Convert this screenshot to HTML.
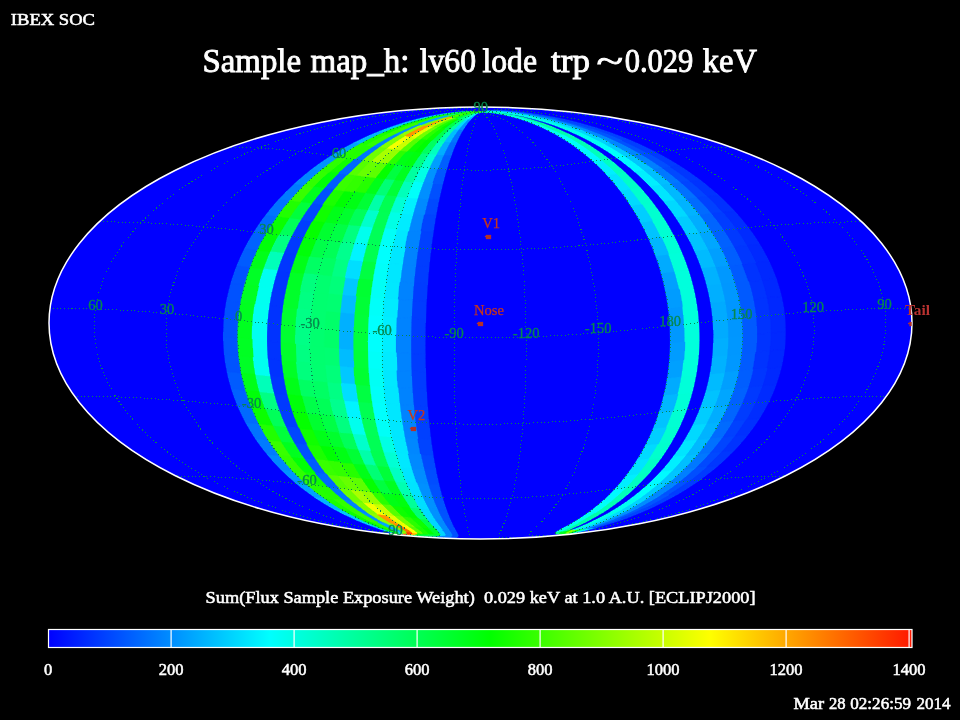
<!DOCTYPE html>
<html><head><meta charset="utf-8"><title>IBEX SOC map</title>
<style>
html,body{margin:0;padding:0;background:#000;}
body{width:960px;height:720px;overflow:hidden;}
svg{display:block;}
text{font-family:"Liberation Serif",serif;}
</style></head><body>
<svg width="960" height="720" viewBox="0 0 960 720">
<defs>
<clipPath id="ell"><ellipse cx="480.5" cy="323.0" rx="431.5" ry="216.0"/></clipPath>
<linearGradient id="cb" x1="0" x2="1" y1="0" y2="0">
<stop offset="0" stop-color="#0000ff"/><stop offset="0.256" stop-color="#00ffff"/><stop offset="0.511" stop-color="#00ff00"/><stop offset="0.766" stop-color="#ffff00"/><stop offset="1" stop-color="#ff1800"/>
</linearGradient>
</defs>
<rect width="960" height="720" fill="#000"/>
<ellipse cx="480.5" cy="323.0" rx="431.5" ry="216.0" fill="#0000ff"/>
<g clip-path="url(#ell)" shape-rendering="crispEdges" stroke-width="0.7" stroke-linejoin="round"><path fill="#00cbff" stroke="#00cbff" d="M391.2 534.3L392 533.5L389.4 532.3L385 530.8L379.8 529L381 529.1L382.3 529.2L383.5 529.4L384.8 529.5L389.3 531.2L392.7 532.6L393.8 533.7ZM384.8 529.5L383.5 529.4L382.3 529.2L381 529.1L379.8 529L374.1 527L368.2 524.8L362.3 522.5L356.4 520L358.2 520.2L359.9 520.4L361.7 520.6L363.5 520.8L368.9 523.2L374.4 525.5L379.7 527.6ZM412.2 122.2L411.5 122L410.8 121.7L410 121.5L409.3 121.3L417.6 119.1L426.2 117.1L435.2 115.3L444.4 113.7L444.6 113.9L444.8 114.1L445 114.2L445.2 114.4L436.4 116L428 117.9L419.9 119.9ZM445.2 114.4L445 114.2L444.8 114.1L444.6 113.9L444.4 113.7L453.8 112.5L463.2 111.7L472.1 111.4L480.5 111.7L472 111.6L463.1 112.1L454.1 113ZM650.1 496.5L647.7 496.8L645.3 497L642.9 497.3L640.5 497.6L645 494.3L649.3 491.1L653.5 487.7L657.6 484.3L660.2 484L662.9 483.7L665.5 483.4L668.2 483.2L663.9 486.6L659.4 490L654.8 493.3ZM632.4 155.4L630.4 155.7L628.5 156L626.6 156.3L624.6 156.6L619.5 153.3L614.2 150L608.7 146.8L603.1 143.7L604.7 143.4L606.2 143.2L607.8 142.9L609.4 142.6L615.4 145.7L621.3 148.9L626.9 152.1Z"/><path fill="#00c8ff" stroke="#00c8ff" d="M363.5 520.8L361.7 520.6L359.9 520.4L358.2 520.2L356.4 520L350.7 517.4L345 514.8L339.5 512L334.1 509.1L336.2 509.4L338.4 509.6L340.5 509.8L342.6 510.1L347.6 512.9L352.8 515.6L358.1 518.3ZM384.2 132.4L383 132.1L381.8 131.9L380.6 131.6L379.4 131.4L386.5 128.7L393.8 126.1L401.4 123.6L409.3 121.3L410 121.5L410.8 121.7L411.5 122L412.2 122.2L404.8 124.5L397.7 127L390.8 129.6ZM355.4 384.5L351.9 384.2L348.3 383.9L344.8 383.6L341.2 383.3L340.7 378.9L340.2 374.6L339.8 370.2L339.5 365.9L343.1 366.2L346.7 366.5L350.3 366.8L353.9 367.2L354.2 371.5L354.5 375.9L355 380.2ZM356.2 296.5L352.7 296.2L349.2 295.9L345.7 295.6L342.2 295.2L342.8 290.8L343.6 286.4L344.4 282.1L345.2 277.7L348.6 278L352 278.3L355.5 278.6L358.9 278.9L358.1 283.3L357.4 287.7L356.8 292.1Z"/><path fill="#00b5ff" stroke="#00b5ff" d="M342.6 510.1L340.5 509.8L338.4 509.6L336.2 509.4L334.1 509.1L328.9 506.2L323.8 503.2L318.9 500.1L314.1 496.9L316.5 497.1L318.9 497.4L321.3 497.7L323.7 497.9L328.3 501.1L332.9 504.1L337.7 507.1ZM360.1 144.1L358.5 143.8L356.9 143.5L355.3 143.3L353.7 143L359.8 140L366.1 137L372.7 134.1L379.4 131.4L380.6 131.6L381.8 131.9L383 132.1L384.2 132.4L377.8 135.2L371.7 138.1L365.8 141ZM569.8 534.3L573.2 533.2L578.9 531.6L585.5 529.9L592.6 527.9L593.7 527.7L594.9 527.6L596 527.5L597.2 527.4L589.4 529.5L581.8 531.4L575 533ZM470.2 120L469.5 120L468.8 119.9L468.2 119.9L467.5 119.8L470.3 117.5L473.3 115.4L476.7 113.4L480.5 111.7L477.4 113.5L474.8 115.5L472.4 117.7Z"/><path fill="#00a2ff" stroke="#00a2ff" d="M323.7 497.9L321.3 497.7L318.9 497.4L316.5 497.1L314.1 496.9L309.5 493.6L305 490.3L300.6 487L296.4 483.5L299 483.8L301.7 484.1L304.3 484.4L307 484.7L311 488.1L315.1 491.4L319.3 494.7ZM339 157L337 156.7L335.1 156.4L333.1 156.1L331.2 155.8L336.6 152.5L342.1 149.3L347.8 146.1L353.7 143L355.3 143.3L356.9 143.5L358.5 143.8L360.1 144.1L354.5 147.2L349.2 150.4L344 153.7Z"/><path fill="#0093ff" stroke="#0093ff" d="M307 484.7L304.3 484.4L301.7 484.1L299 483.8L296.4 483.5L292.3 480.1L288.3 476.5L284.5 472.9L280.7 469.3L283.6 469.6L286.5 469.9L289.3 470.2L292.2 470.5L295.7 474.1L299.3 477.7L303.1 481.2ZM320.4 170.9L318.1 170.6L315.9 170.3L313.7 169.9L311.4 169.6L316.1 166.1L321 162.6L326 159.2L331.2 155.8L333.1 156.1L335.1 156.4L337 156.7L339 157L334.1 160.4L329.4 163.8L324.8 167.3ZM432.8 183.4L430.4 183.3L427.9 183.1L425.5 183L423.1 182.8L424.5 179.1L426 175.4L427.6 171.7L429.2 168.2L431.4 168.3L433.6 168.5L435.7 168.6L437.9 168.7L436.6 172.3L435.3 176L434 179.7Z"/><path fill="#0087ff" stroke="#0087ff" d="M292.2 470.5L289.3 470.2L286.5 469.9L283.6 469.6L280.7 469.3L277.2 465.6L273.7 461.9L270.4 458.1L267.2 454.3L270.2 454.6L273.2 454.9L276.3 455.3L279.3 455.6L282.4 459.4L285.5 463.1L288.8 466.8ZM304 185.6L301.5 185.3L299 184.9L296.5 184.6L294 184.3L298.2 180.5L302.4 176.9L306.9 173.2L311.4 169.6L313.7 169.9L315.9 170.3L318.1 170.6L320.4 170.9L316.1 174.5L311.9 178.1L307.9 181.8ZM420.6 454.3L417.5 454.1L414.4 453.9L411.3 453.7L408.2 453.5L407.3 449.7L406.4 445.7L405.5 441.8L404.7 437.8L408 438L411.3 438.2L414.5 438.4L417.8 438.6L418.5 442.6L419.2 446.5L419.9 450.4ZM421 231.3L417.9 231.1L414.9 230.9L411.8 230.8L408.8 230.6L409.7 226.4L410.7 222.3L411.8 218.2L412.9 214.1L415.7 214.3L418.6 214.5L421.5 214.7L424.4 214.8L423.5 218.9L422.6 223L421.8 227.1Z"/><path fill="#007bff" stroke="#007bff" d="M279.3 455.6L276.3 455.3L273.2 454.9L270.2 454.6L267.2 454.3L264.1 450.5L261.1 446.6L258.2 442.6L255.5 438.7L258.7 439L261.9 439.3L265.1 439.7L268.3 440L270.9 443.9L273.6 447.9L276.4 451.7ZM289.6 201L286.9 200.6L284.2 200.3L281.5 200L278.7 199.6L282.4 195.7L286.1 191.9L290 188.1L294 184.3L296.5 184.6L299 184.9L301.5 185.3L304 185.6L300.2 189.4L296.6 193.2L293.1 197.1Z"/><path fill="#0073ff" stroke="#0073ff" d="M268.3 440L265.1 439.7L261.9 439.3L258.7 439L255.5 438.7L252.9 434.7L250.4 430.6L248 426.6L245.7 422.5L249 422.8L252.4 423.2L255.7 423.5L259 423.8L261.2 427.9L263.4 432L265.8 436ZM277.2 217L274.2 216.6L271.3 216.2L268.4 215.9L265.5 215.6L268.6 211.5L271.8 207.5L275.2 203.6L278.7 199.6L281.5 200L284.2 200.3L286.9 200.6L289.6 201L286.4 204.9L283.2 208.9L280.1 212.9Z"/><path fill="#006aff" stroke="#006aff" d="M259 423.8L255.7 423.5L252.4 423.2L249 422.8L245.7 422.5L243.5 418.4L241.5 414.2L239.6 410L237.7 405.8L241.2 406.2L244.6 406.5L248 406.9L251.5 407.2L253.2 411.4L255 415.6L257 419.7ZM266.5 233.4L263.4 233.1L260.3 232.7L257.2 232.3L254.1 232L256.8 227.8L259.5 223.7L262.4 219.6L265.5 215.6L268.4 215.9L271.3 216.2L274.2 216.6L277.2 217L274.3 221L271.6 225.1L269 229.3Z"/><path fill="#0062ff" stroke="#0062ff" d="M251.5 407.2L248 406.9L244.6 406.5L241.2 406.2L237.7 405.8L236 401.6L234.4 397.4L232.9 393.1L231.5 388.8L235 389.2L238.6 389.5L242.1 389.9L245.6 390.3L246.9 394.5L248.3 398.8L249.8 403ZM257.6 250.3L254.3 249.9L251.1 249.6L247.8 249.2L244.6 248.8L246.8 244.6L249.1 240.4L251.5 236.2L254.1 232L257.2 232.3L260.3 232.7L263.4 233.1L266.5 233.4L264.1 237.6L261.8 241.8L259.6 246Z"/><path fill="#005bff" stroke="#005bff" d="M245.6 390.3L242.1 389.9L238.6 389.5L235 389.2L231.5 388.8L230.3 384.5L229.1 380.2L228 375.9L227.1 371.5L230.7 371.9L234.2 372.3L237.8 372.6L241.4 373L242.3 377.3L243.3 381.7L244.4 386ZM250.3 267.5L247 267.1L243.6 266.7L240.2 266.4L236.9 266L238.6 261.7L240.5 257.4L242.5 253.1L244.6 248.8L247.8 249.2L251.1 249.6L254.3 249.9L257.6 250.3L255.6 254.6L253.7 258.8L252 263.2ZM620.7 518.4L619 518.5L617.3 518.7L615.6 518.9L613.9 519L620.1 516.4L626.3 513.7L632.2 510.9L638 508L640.1 507.8L642.2 507.6L644.3 507.4L646.3 507.2L640.2 510.1L633.9 512.9L627.4 515.7ZM592.4 129.1L591.3 129.3L590.1 129.6L589 129.8L587.8 130.1L580.1 127.4L572.2 124.9L563.9 122.5L555.3 120.2L555.9 120L556.6 119.8L557.2 119.5L557.8 119.3L567 121.6L575.8 124L584.3 126.5ZM752.9 369.6L749.3 370L745.8 370.3L742.2 370.7L738.6 371L739.5 366.7L740.2 362.3L740.9 357.9L741.4 353.5L745 353.2L748.6 352.8L752.1 352.5L755.7 352.1L755.2 356.5L754.5 360.9L753.8 365.3ZM748.6 281.5L745.1 281.8L741.6 282.2L738.2 282.6L734.7 282.9L733.4 278.6L731.9 274.2L730.3 269.8L728.6 265.5L732 265.2L735.4 264.8L738.7 264.4L742.1 264.1L743.9 268.4L745.6 272.8L747.1 277.1ZM326.6 474.3L323.8 474L320.9 473.6L318 473.3L315.2 473L312.2 469.4L309.3 465.7L306.5 462L303.8 458.2L306.8 458.5L309.9 458.9L312.9 459.2L316 459.5L318.5 463.3L321.1 467L323.8 470.7ZM334.2 189.6L331.7 189.2L329.1 188.9L326.6 188.6L324.1 188.2L327.5 184.5L331 180.7L334.6 177.1L338.4 173.4L340.7 173.7L342.9 174L345.2 174.4L347.5 174.7L344 178.3L340.6 182L337.4 185.8Z"/><path fill="#0053ff" stroke="#0053ff" d="M241.4 373L237.8 372.6L234.2 372.3L230.7 371.9L227.1 371.5L226.3 367.2L225.5 362.8L224.9 358.4L224.4 354L228 354.4L231.6 354.8L235.2 355.1L238.8 355.5L239.3 359.9L239.9 364.3L240.6 368.6ZM244.7 284.9L241.3 284.5L237.8 284.2L234.4 283.8L230.9 283.4L232.2 279L233.7 274.7L235.2 270.3L236.9 266L240.2 266.4L243.6 266.7L247 267.1L250.3 267.5L248.8 271.8L247.3 276.2L246 280.5ZM451 521.3L449 521.2L447.1 521.1L445.1 520.9L443.1 520.8L441.7 518.1L440.2 515.4L438.8 512.6L437.5 509.6L439.7 509.8L442 509.9L444.2 510.1L446.5 510.2L447.6 513.1L448.7 515.9L449.8 518.7ZM446.5 510.2L444.2 510.1L442 509.9L439.7 509.8L437.5 509.6L436.1 506.6L434.9 503.6L433.6 500.4L432.4 497.2L434.9 497.4L437.4 497.5L439.9 497.6L442.4 497.8L443.4 501L444.4 504.1L445.4 507.2Z"/><path fill="#0052ff" stroke="#0052ff" d="M238.8 355.5L235.2 355.1L231.6 354.8L228 354.4L224.4 354L224 349.6L223.7 345.2L223.5 340.8L223.4 336.4L227 336.7L230.6 337.1L234.2 337.5L237.8 337.9L237.9 342.3L238.1 346.7L238.4 351.1ZM240.8 302.5L237.3 302.1L233.7 301.7L230.2 301.4L226.7 301L227.6 296.6L228.6 292.2L229.7 287.8L230.9 283.4L234.4 283.8L237.8 284.2L241.3 284.5L244.7 284.9L243.6 289.3L242.6 293.7L241.6 298.1ZM669.1 494.6L666.7 494.9L664.4 495.1L662 495.3L659.6 495.6L664.6 492.3L669.5 489L674.2 485.6L678.7 482.1L681.3 481.9L684 481.6L686.6 481.3L689.2 481.1L684.4 484.6L679.5 488L674.3 491.4ZM647.8 153.2L645.8 153.5L643.9 153.7L642 154L640.1 154.3L634.3 151L628.3 147.8L622.1 144.6L615.7 141.6L617.3 141.3L618.9 141L620.4 140.8L622 140.5L628.8 143.6L635.3 146.7L641.6 149.9Z"/><path fill="#0051ff" stroke="#0051ff" d="M237.8 337.9L234.2 337.5L230.6 337.1L227 336.7L223.4 336.4L223.5 332L223.6 327.5L223.8 323.1L224.2 318.7L227.8 319L231.3 319.4L234.9 319.8L238.5 320.2L238.2 324.6L238 329L237.8 333.5ZM238.5 320.2L234.9 319.8L231.3 319.4L227.8 319L224.2 318.7L224.7 314.3L225.2 309.8L225.9 305.4L226.7 301L230.2 301.4L233.7 301.7L237.3 302.1L240.8 302.5L240.1 306.9L239.4 311.3L238.9 315.8ZM442.4 497.8L439.9 497.6L437.4 497.5L434.9 497.4L432.4 497.2L431.2 493.9L430.1 490.6L429 487.2L427.9 483.7L430.7 483.9L433.4 484L436.1 484.2L438.9 484.3L439.7 487.8L440.6 491.2L441.5 494.5Z"/><path fill="#0049ff" stroke="#0049ff" d="M597.2 527.4L596 527.5L594.9 527.6L593.7 527.7L592.6 527.9L599.7 525.7L606.8 523.4L613.8 520.9L620.7 518.4L622.4 518.2L624 518.1L625.7 517.9L627.4 517.8L620.1 520.4L612.6 522.8L604.9 525.2ZM560.3 118.5L559.7 118.7L559.1 118.9L558.5 119.1L557.8 119.3L548.2 117.2L538.2 115.3L527.8 113.7L517.2 112.3L517.2 112.1L517.2 112L517.2 111.8L517.1 111.7L528.3 113L539.4 114.6L550.1 116.5ZM706.8 466.7L704 467L701.2 467.2L698.3 467.5L695.5 467.8L699.3 464.1L703 460.3L706.6 456.5L710 452.7L713.1 452.4L716.1 452.1L719.1 451.8L722.1 451.6L718.5 455.4L714.8 459.2L710.9 463ZM690.3 181.4L687.8 181.7L685.3 182L682.8 182.3L680.3 182.6L675.8 178.9L671.2 175.2L666.4 171.6L661.5 168L663.7 167.7L665.9 167.4L668.2 167.1L670.4 166.9L675.6 170.4L680.7 174L685.6 177.7ZM435.8 470L432.8 469.9L429.9 469.7L427 469.6L424 469.4L423.1 465.7L422.3 461.9L421.4 458.1L420.6 454.3L423.8 454.5L426.9 454.6L430 454.8L433.1 454.9L433.7 458.8L434.4 462.6L435.1 466.3ZM436 215.4L433.1 215.3L430.2 215.1L427.3 215L424.4 214.8L425.3 210.8L426.3 206.8L427.3 202.8L428.3 198.8L431 199L433.7 199.1L436.4 199.3L439.1 199.4L438.2 203.3L437.5 207.3L436.7 211.3Z"/><path fill="#0045ff" stroke="#0045ff" d="M627.4 517.8L625.7 517.9L624 518.1L622.4 518.2L620.7 518.4L627.4 515.7L633.9 512.9L640.2 510.1L646.3 507.2L648.4 507L650.4 506.8L652.4 506.6L654.5 506.4L648 509.4L641.3 512.3L634.4 515.1ZM597 128.2L595.9 128.4L594.7 128.6L593.6 128.9L592.4 129.1L584.3 126.5L575.8 124L567 121.6L557.8 119.3L558.5 119.1L559.1 118.9L559.7 118.7L560.3 118.5L570.1 120.7L579.5 123.1L588.4 125.6ZM722.1 451.6L719.1 451.8L716.1 452.1L713.1 452.4L710 452.7L713.4 448.8L716.5 444.9L719.6 441L722.5 437L725.7 436.7L728.9 436.4L732.1 436.1L735.3 435.8L732.2 439.8L729 443.7L725.6 447.7ZM707.7 196.6L705 196.9L702.3 197.2L699.5 197.6L696.8 197.9L692.9 194L688.8 190.1L684.6 186.3L680.3 182.6L682.8 182.3L685.3 182L687.8 181.7L690.3 181.4L694.9 185.1L699.3 188.9L703.6 192.8Z"/><path fill="#0041ff" stroke="#0041ff" d="M654.5 506.4L652.4 506.6L650.4 506.8L648.4 507L646.3 507.2L652.3 504.1L658 501L663.6 497.9L669.1 494.6L671.4 494.4L673.8 494.2L676.1 494L678.4 493.8L672.7 497L666.8 500.2L660.7 503.4ZM628.3 139.5L626.7 139.8L625.2 140L623.6 140.3L622 140.5L615 137.5L607.8 134.6L600.2 131.8L592.4 129.1L593.6 128.9L594.7 128.6L595.9 128.4L597 128.2L605.3 130.9L613.3 133.7L620.9 136.6ZM735.3 435.8L732.1 436.1L728.9 436.4L725.7 436.7L722.5 437L725.3 433L728 428.9L730.6 424.8L733 420.7L736.3 420.4L739.7 420.1L743 419.8L746.3 419.5L743.7 423.6L741 427.7L738.2 431.8ZM722.9 212.5L720 212.8L717 213.1L714.1 213.4L711.2 213.8L707.8 209.7L704.3 205.7L700.6 201.8L696.8 197.9L699.5 197.6L702.3 197.2L705 196.9L707.7 196.6L711.7 200.5L715.6 204.5L719.3 208.5Z"/><path fill="#003eff" stroke="#003eff" d="M678.4 493.8L676.1 494L673.8 494.2L671.4 494.4L669.1 494.6L674.3 491.4L679.5 488L684.4 484.6L689.2 481.1L691.8 480.9L694.4 480.6L697 480.4L699.6 480.2L694.5 483.7L689.3 487.1L684 490.5ZM655.5 152.1L653.6 152.4L651.6 152.7L649.7 152.9L647.8 153.2L641.6 149.9L635.3 146.7L628.8 143.6L622 140.5L623.6 140.3L625.2 140L626.7 139.8L628.3 139.5L635.5 142.6L642.4 145.7L649 148.9ZM299 428.1L295.7 427.7L292.4 427.4L289 427L285.7 426.7L283.9 422.6L282.1 418.5L280.5 414.3L279 410.1L282.4 410.5L285.8 410.9L289.3 411.2L292.7 411.6L294.1 415.8L295.7 419.9L297.3 424ZM303.9 237.8L300.7 237.4L297.6 237.1L294.5 236.7L291.4 236.3L293.6 232.2L295.8 228L298.2 223.9L300.7 219.8L303.6 220.2L306.6 220.5L309.5 220.9L312.5 221.2L310.2 225.3L308 229.5L305.9 233.6Z"/><path fill="#003aff" stroke="#003aff" d="M699.6 480.2L697 480.4L694.4 480.6L691.8 480.9L689.2 481.1L693.8 477.6L698.3 474L702.6 470.4L706.8 466.7L709.6 466.4L712.5 466.2L715.3 465.9L718.1 465.7L713.7 469.4L709.1 473L704.4 476.6ZM679.4 165.8L677.1 166L674.9 166.3L672.6 166.6L670.4 166.9L665 163.4L659.4 159.9L653.7 156.5L647.8 153.2L649.7 152.9L651.6 152.7L653.6 152.4L655.5 152.1L661.8 155.5L667.8 158.8L673.7 162.3Z"/><path fill="#0037ff" stroke="#0037ff" d="M718.1 465.7L715.3 465.9L712.5 466.2L709.6 466.4L706.8 466.7L710.9 463L714.8 459.2L718.5 455.4L722.1 451.6L725.2 451.3L728.2 451L731.2 450.7L734.2 450.5L730.4 454.3L726.4 458.2L722.3 461.9ZM700.3 180.2L697.8 180.5L695.3 180.8L692.8 181.1L690.3 181.4L685.6 177.7L680.7 174L675.6 170.4L670.4 166.9L672.6 166.6L674.9 166.3L677.1 166L679.4 165.8L684.9 169.3L690.2 172.9L695.3 176.6Z"/><path fill="#0033ff" stroke="#0033ff" d="M734.2 450.5L731.2 450.7L728.2 451L725.2 451.3L722.1 451.6L725.6 447.7L729 443.7L732.2 439.8L735.3 435.8L738.4 435.5L741.6 435.2L744.8 434.9L747.9 434.7L744.7 438.7L741.3 442.6L737.8 446.6ZM718.7 195.4L715.9 195.7L713.2 196L710.5 196.3L707.7 196.6L703.6 192.8L699.3 188.9L694.9 185.1L690.3 181.4L692.8 181.1L695.3 180.8L697.8 180.5L700.3 180.2L705.2 184L709.8 187.8L714.3 191.6ZM767.1 368.3L763.5 368.6L760 369L756.4 369.3L752.9 369.6L753.8 365.3L754.5 360.9L755.2 356.5L755.7 352.1L759.3 351.8L762.9 351.4L766.5 351.1L770.1 350.8L769.5 355.2L768.8 359.6L768 363.9ZM770.1 350.8L766.5 351.1L762.9 351.4L759.3 351.8L755.7 352.1L756.2 347.7L756.5 343.3L756.7 338.9L756.7 334.5L760.3 334.1L763.9 333.8L767.5 333.4L771.1 333.1L771 337.5L770.8 341.9L770.5 346.4ZM771.1 333.1L767.5 333.4L763.9 333.8L760.3 334.1L756.7 334.5L756.7 330L756.5 325.6L756.3 321.2L755.9 316.8L759.4 316.4L763 316.1L766.6 315.7L770.2 315.4L770.6 319.8L770.9 324.2L771 328.7ZM770.2 315.4L766.6 315.7L763 316.1L759.4 316.4L755.9 316.8L755.4 312.3L754.7 307.9L754 303.5L753.1 299.1L756.7 298.7L760.2 298.4L763.7 298L767.3 297.7L768.2 302.1L769 306.5L769.6 311ZM767.3 297.7L763.7 298L760.2 298.4L756.7 298.7L753.1 299.1L752.2 294.7L751.1 290.3L749.9 285.9L748.6 281.5L752 281.1L755.5 280.8L758.9 280.5L762.4 280.1L763.8 284.5L765.1 288.9L766.2 293.3ZM762.4 280.1L758.9 280.5L755.5 280.8L752 281.1L748.6 281.5L747.1 277.1L745.6 272.8L743.9 268.4L742.1 264.1L745.5 263.7L748.8 263.4L752.2 263.1L755.6 262.7L757.5 267.1L759.2 271.4L760.9 275.8ZM284.2 377.5L280.6 377.1L277 376.8L273.5 376.4L269.9 376L269.2 371.7L268.5 367.3L268 362.9L267.5 358.6L271.1 358.9L274.7 359.3L278.3 359.7L281.9 360.1L282.4 364.5L282.9 368.8L283.5 373.2ZM281.9 360.1L278.3 359.7L274.7 359.3L271.1 358.9L267.5 358.6L267.2 354.2L266.9 349.8L266.7 345.4L266.6 340.9L270.2 341.3L273.8 341.7L277.4 342.1L281 342.5L281.1 346.9L281.3 351.3L281.6 355.7ZM281 342.5L277.4 342.1L273.8 341.7L270.2 341.3L266.6 340.9L266.6 336.5L266.7 332.1L266.9 327.7L267.1 323.3L270.7 323.6L274.3 324L277.9 324.4L281.5 324.8L281.2 329.2L281.1 333.6L281 338.1ZM281.5 324.8L277.9 324.4L274.3 324L270.7 323.6L267.1 323.3L267.5 318.8L267.9 314.4L268.5 310L269.1 305.6L272.6 306L276.2 306.3L279.7 306.7L283.3 307.1L282.7 311.5L282.2 316L281.8 320.4ZM283.3 307.1L279.7 306.7L276.2 306.3L272.6 306L269.1 305.6L269.8 301.2L270.6 296.8L271.5 292.4L272.5 288L275.9 288.3L279.4 288.7L282.9 289.1L286.4 289.5L285.5 293.9L284.6 298.3L283.9 302.7ZM286.4 289.5L282.9 289.1L279.4 288.7L275.9 288.3L272.5 288L273.5 283.6L274.7 279.2L276 274.8L277.3 270.5L280.7 270.9L284.1 271.3L287.4 271.6L290.8 272L289.6 276.4L288.4 280.7L287.4 285.1Z"/><path fill="#0030ff" stroke="#0030ff" d="M747.9 434.7L744.8 434.9L741.6 435.2L738.4 435.5L735.3 435.8L738.2 431.8L741 427.7L743.7 423.6L746.3 419.5L749.6 419.2L752.9 418.9L756.2 418.6L759.5 418.3L756.8 422.5L754 426.6L751 430.6ZM734.6 211.3L731.7 211.6L728.8 211.9L725.8 212.2L722.9 212.5L719.3 208.5L715.6 204.5L711.7 200.5L707.7 196.6L710.5 196.3L713.2 196L715.9 195.7L718.7 195.4L722.9 199.3L727 203.3L730.9 207.3Z"/><path fill="#002dff" stroke="#002dff" d="M759.5 418.3L756.2 418.6L752.9 418.9L749.6 419.2L746.3 419.5L748.7 415.3L751 411.2L753.2 407L755.2 402.8L758.6 402.5L762 402.1L765.5 401.9L768.9 401.6L766.7 405.8L764.4 410L762 414.2ZM748.3 227.6L745.2 227.9L742.1 228.2L739 228.5L735.9 228.8L732.8 224.7L729.6 220.6L726.3 216.5L722.9 212.5L725.8 212.2L728.8 211.9L731.7 211.6L734.6 211.3L738.3 215.3L741.7 219.4L745.1 223.5Z"/><path fill="#002bff" stroke="#002bff" d="M768.9 401.6L765.5 401.9L762 402.1L758.6 402.5L755.2 402.8L757.1 398.5L758.9 394.3L760.6 390L762.2 385.7L765.7 385.4L769.1 385L772.6 384.7L776.1 384.4L774.5 388.8L772.8 393L770.9 397.3ZM759.7 244.4L756.5 244.7L753.2 245L750 245.3L746.7 245.6L744.2 241.4L741.6 237.2L738.8 233L735.9 228.8L739 228.5L742.1 228.2L745.2 227.9L748.3 227.6L751.4 231.7L754.3 235.9L757.1 240.1Z"/><path fill="#0029ff" stroke="#0029ff" d="M776.1 384.4L772.6 384.7L769.1 385L765.7 385.4L762.2 385.7L763.6 381.4L764.9 377L766.1 372.7L767.1 368.3L770.7 368L774.2 367.7L777.7 367.4L781.3 367.1L780.2 371.4L779 375.8L777.6 380.1ZM769.1 261.5L765.7 261.8L762.3 262.1L758.9 262.4L755.6 262.7L753.6 258.4L751.4 254.1L749.1 249.9L746.7 245.6L750 245.3L753.2 245L756.5 244.7L759.7 244.4L762.3 248.6L764.7 252.9L766.9 257.2Z"/><path fill="#0028ff" stroke="#0028ff" d="M781.3 367.1L777.7 367.4L774.2 367.7L770.7 368L767.1 368.3L768 363.9L768.8 359.6L769.5 355.2L770.1 350.8L773.7 350.4L777.2 350.1L780.8 349.8L784.4 349.5L783.8 353.9L783.1 358.3L782.3 362.7ZM784.4 349.5L780.8 349.8L777.2 350.1L773.7 350.4L770.1 350.8L770.5 346.4L770.8 341.9L771 337.5L771.1 333.1L774.7 332.8L778.3 332.4L781.9 332.1L785.4 331.8L785.4 336.2L785.2 340.7L784.9 345.1ZM785.4 331.8L781.9 332.1L778.3 332.4L774.7 332.8L771.1 333.1L771 328.7L770.9 324.2L770.6 319.8L770.2 315.4L773.7 315.1L777.3 314.7L780.9 314.4L784.4 314.1L784.9 318.5L785.2 323L785.4 327.4ZM784.4 314.1L780.9 314.4L777.3 314.7L773.7 315.1L770.2 315.4L769.6 311L769 306.5L768.2 302.1L767.3 297.7L770.8 297.4L774.3 297L777.8 296.7L781.4 296.4L782.3 300.8L783.2 305.2L783.9 309.7ZM781.4 296.4L777.8 296.7L774.3 297L770.8 297.4L767.3 297.7L766.2 293.3L765.1 288.9L763.8 284.5L762.4 280.1L765.9 279.8L769.3 279.5L772.8 279.2L776.3 278.8L777.7 283.2L779.1 287.6L780.3 292ZM776.3 278.8L772.8 279.2L769.3 279.5L765.9 279.8L762.4 280.1L760.9 275.8L759.2 271.4L757.5 267.1L755.6 262.7L758.9 262.4L762.3 262.1L765.7 261.8L769.1 261.5L771.1 265.8L772.9 270.1L774.7 274.5Z"/><path fill="#004cff" stroke="#004cff" d="M517.1 111.7L517.2 111.8L517.2 112L517.2 112.1L517.2 112.3L506.8 111.3L497 110.8L488.2 111L480.5 111.7L487.8 110.8L496.3 110.5L506.2 110.8Z"/><path fill="#00feff" stroke="#00feff" d="M569.8 534.3L571.5 533.3L575.8 531.9L581.5 530.2L587.8 528.3L589 528.2L590.2 528.1L591.4 528L592.6 527.9L585.5 529.9L578.9 531.6L573.2 533.2ZM467.5 119.8L466.9 119.8L466.3 119.7L465.6 119.6L465 119.6L468.3 117.3L472 115.2L476 113.3L480.5 111.7L476.7 113.4L473.3 115.4L470.3 117.5Z"/><path fill="#0060ff" stroke="#0060ff" d="M592.6 527.9L591.4 528L590.2 528.1L589 528.2L587.8 528.3L594.3 526.2L600.9 524L607.4 521.6L613.9 519L615.6 518.9L617.3 518.7L619 518.5L620.7 518.4L613.8 520.9L606.8 523.4L599.7 525.7ZM557.8 119.3L557.2 119.5L556.6 119.8L555.9 120L555.3 120.2L546.3 118L536.9 116.1L527.1 114.4L517.1 112.9L517.2 112.8L517.2 112.6L517.2 112.4L517.2 112.3L527.8 113.7L538.2 115.3L548.2 117.2Z"/><path fill="#0056ff" stroke="#0056ff" d="M646.3 507.2L644.3 507.4L642.2 507.6L640.1 507.8L638 508L643.7 505L649.2 501.9L654.5 498.8L659.6 495.6L662 495.3L664.4 495.1L666.7 494.9L669.1 494.6L663.6 497.9L658 501L652.3 504.1ZM622 140.5L620.4 140.8L618.9 141L617.3 141.3L615.7 141.6L609.1 138.6L602.3 135.6L595.2 132.8L587.8 130.1L589 129.8L590.1 129.6L591.3 129.3L592.4 129.1L600.2 131.8L607.8 134.6L615 137.5Z"/><path fill="#004eff" stroke="#004eff" d="M689.2 481.1L686.6 481.3L684 481.6L681.3 481.9L678.7 482.1L683.1 478.6L687.4 475L691.5 471.4L695.5 467.8L698.3 467.5L701.2 467.2L704 467L706.8 466.7L702.6 470.4L698.3 474L693.8 477.6ZM670.4 166.9L668.2 167.1L665.9 167.4L663.7 167.7L661.5 168L656.4 164.5L651.1 161L645.7 157.6L640.1 154.3L642 154L643.9 153.7L645.8 153.5L647.8 153.2L653.7 156.5L659.4 159.9L665 163.4Z"/><path fill="#003cff" stroke="#003cff" d="M746.3 419.5L743 419.8L739.7 420.1L736.3 420.4L733 420.7L735.3 416.6L737.5 412.4L739.6 408.2L741.6 404L745 403.7L748.4 403.4L751.8 403.1L755.2 402.8L753.2 407L751 411.2L748.7 415.3ZM735.9 228.8L732.8 229.2L729.6 229.5L726.5 229.8L723.4 230.1L720.6 226L717.6 221.9L714.4 217.8L711.2 213.8L714.1 213.4L717 213.1L720 212.8L722.9 212.5L726.3 216.5L729.6 220.6L732.8 224.7ZM426.3 389.2L422.8 389.1L419.3 388.9L415.7 388.7L412.2 388.5L411.9 384.2L411.7 379.9L411.5 375.5L411.3 371.2L414.9 371.4L418.5 371.5L422 371.7L425.6 371.9L425.8 376.2L425.9 380.6L426.1 384.9ZM425.6 371.9L422 371.7L418.5 371.5L414.9 371.4L411.3 371.2L411.1 366.8L411 362.4L410.9 358L410.9 353.6L414.5 353.8L418.1 354L421.7 354.2L425.3 354.3L425.3 358.7L425.4 363.1L425.5 367.5ZM425.3 354.3L421.7 354.2L418.1 354L414.5 353.8L410.9 353.6L410.8 349.2L410.8 344.8L410.8 340.4L410.9 335.9L414.5 336.1L418.1 336.3L421.7 336.5L425.3 336.6L425.2 341.1L425.2 345.5L425.2 349.9ZM425.3 336.6L421.7 336.5L418.1 336.3L414.5 336.1L410.9 335.9L411 331.5L411.1 327.1L411.2 322.6L411.4 318.2L415 318.4L418.5 318.6L422.1 318.7L425.7 318.9L425.5 323.3L425.4 327.7L425.3 332.2ZM425.7 318.9L422.1 318.7L418.5 318.6L415 318.4L411.4 318.2L411.6 313.8L411.8 309.3L412.1 304.9L412.4 300.5L415.9 300.7L419.4 300.8L422.9 301L426.4 301.1L426.2 305.6L426 310L425.8 314.4ZM426.4 301.1L422.9 301L419.4 300.8L415.9 300.7L412.4 300.5L412.7 296.1L413 291.6L413.4 287.2L413.8 282.8L417.2 283L420.7 283.2L424.1 283.3L427.6 283.5L427.3 287.9L427 292.3L426.7 296.7Z"/><path fill="#0039ff" stroke="#0039ff" d="M755.2 402.8L751.8 403.1L748.4 403.4L745 403.7L741.6 404L743.4 399.8L745.1 395.5L746.7 391.3L748.2 387L751.7 386.6L755.2 386.3L758.7 386L762.2 385.7L760.6 390L758.9 394.3L757.1 398.5ZM746.7 245.6L743.5 245.9L740.2 246.3L737 246.6L733.7 247L731.3 242.7L728.8 238.5L726.2 234.3L723.4 230.1L726.5 229.8L729.6 229.5L732.8 229.2L735.9 228.8L738.8 233L741.6 237.2L744.2 241.4ZM292.7 411.6L289.3 411.2L285.8 410.9L282.4 410.5L279 410.1L277.5 406L276.1 401.7L274.9 397.5L273.7 393.2L277.2 393.6L280.7 394L284.2 394.4L287.7 394.7L288.9 399L290.1 403.2L291.3 407.4ZM296.7 254.8L293.4 254.4L290.1 254L286.9 253.6L283.6 253.3L285.4 249L287.3 244.8L289.3 240.5L291.4 236.3L294.5 236.7L297.6 237.1L300.7 237.4L303.9 237.8L301.9 242L300.1 246.2L298.3 250.5Z"/><path fill="#0036ff" stroke="#0036ff" d="M762.2 385.7L758.7 386L755.2 386.3L751.7 386.6L748.2 387L749.5 382.7L750.8 378.3L751.9 374L752.9 369.6L756.4 369.3L760 369L763.5 368.6L767.1 368.3L766.1 372.7L764.9 377L763.6 381.4ZM755.6 262.7L752.2 263.1L748.8 263.4L745.5 263.7L742.1 264.1L740.2 259.8L738.2 255.5L736 251.2L733.7 247L737 246.6L740.2 246.3L743.5 245.9L746.7 245.6L749.1 249.9L751.4 254.1L753.6 258.4ZM287.7 394.7L284.2 394.4L280.7 394L277.2 393.6L273.7 393.2L272.6 389L271.6 384.7L270.7 380.3L269.9 376L273.5 376.4L277 376.8L280.6 377.1L284.2 377.5L284.9 381.8L285.8 386.2L286.7 390.5ZM290.8 272L287.4 271.6L284.1 271.3L280.7 270.9L277.3 270.5L278.7 266.2L280.3 261.8L281.9 257.5L283.6 253.3L286.9 253.6L290.1 254L293.4 254.4L296.7 254.8L295.1 259L293.6 263.4L292.2 267.7Z"/><path fill="#0066ff" stroke="#0066ff" d="M517.2 112.3L517.2 112.4L517.2 112.6L517.2 112.8L517.1 112.9L507.1 111.8L497.5 111.2L488.6 111.1L480.5 111.7L488.2 111L497 110.8L506.8 111.3Z"/><path fill="#00ff93" stroke="#00ff93" d="M569.8 534.3L569.6 533.5L572.7 532.2L577.4 530.6L582.9 528.8L584.1 528.7L585.4 528.6L586.6 528.4L587.8 528.3L581.5 530.2L575.8 531.9L571.5 533.3ZM569.8 534.3L560.5 534.4L556 533.9L555.3 533L556.9 531.6L558.2 531.5L559.6 531.3L560.9 531.2L562.3 531L559.9 532.5L559.4 533.6L562.3 534.2Z"/><path fill="#0098ff" stroke="#0098ff" d="M587.8 528.3L586.6 528.4L585.4 528.6L584.1 528.7L582.9 528.8L588.8 526.8L594.9 524.6L600.9 522.2L606.9 519.8L608.7 519.6L610.4 519.4L612.1 519.2L613.9 519L607.4 521.6L600.9 524L594.3 526.2ZM555.3 120.2L554.6 120.4L553.9 120.6L553.3 120.8L552.6 121L544.1 118.9L535.3 116.9L526.2 115.1L516.7 113.5L516.9 113.4L517 113.2L517.1 113.1L517.1 112.9L527.1 114.4L536.9 116.1L546.3 118ZM738.6 371L735.1 371.4L731.5 371.8L728 372.1L724.4 372.5L725.2 368.1L725.9 363.8L726.5 359.4L727 355L730.6 354.6L734.2 354.3L737.8 353.9L741.4 353.5L740.9 357.9L740.2 362.3L739.5 366.7ZM734.7 282.9L731.3 283.3L727.8 283.7L724.3 284L720.9 284.4L719.6 280L718.2 275.7L716.8 271.3L715.2 267L718.5 266.6L721.9 266.2L725.3 265.9L728.6 265.5L730.3 269.8L731.9 274.2L733.4 278.6ZM684.8 342L681.2 342.4L677.6 342.7L674 343.1L670.4 343.5L670.4 339.1L670.3 334.7L670.2 330.2L670 325.8L673.5 325.4L677.1 325.1L680.7 324.7L684.3 324.3L684.6 328.7L684.7 333.1L684.8 337.6ZM684.3 324.3L680.7 324.7L677.1 325.1L673.5 325.4L670 325.8L669.7 321.4L669.3 317L668.8 312.5L668.3 308.1L671.8 307.7L675.4 307.4L678.9 307L682.5 306.6L683.1 311L683.6 315.4L684 319.9Z"/><path fill="#0091ff" stroke="#0091ff" d="M613.9 519L612.1 519.2L610.4 519.4L608.7 519.6L606.9 519.8L612.8 517.2L618.6 514.5L624.2 511.7L629.7 508.8L631.8 508.6L633.9 508.4L636 508.2L638 508L632.2 510.9L626.3 513.7L620.1 516.4ZM587.8 130.1L586.6 130.3L585.5 130.5L584.3 130.8L583.1 131L575.9 128.4L568.5 125.8L560.7 123.3L552.6 121L553.3 120.8L553.9 120.6L554.6 120.4L555.3 120.2L563.9 122.5L572.2 124.9L580.1 127.4ZM462.7 130.5L461.5 130.4L460.4 130.3L459.3 130.2L458.1 130.1L460.3 127.4L462.6 124.8L465 122.2L467.5 119.8L468.2 119.9L468.8 119.9L469.5 120L470.2 120L468.1 122.5L466.2 125L464.4 127.7ZM443.1 520.8L441.1 520.6L439.2 520.5L437.2 520.3L435.2 520.2L433.4 517.5L431.7 514.8L430 511.9L428.4 509L430.6 509.2L432.9 509.3L435.2 509.5L437.5 509.6L438.8 512.6L440.2 515.4L441.7 518.1ZM437.5 509.6L435.2 509.5L432.9 509.3L430.6 509.2L428.4 509L426.8 506L425.2 502.9L423.7 499.7L422.3 496.5L424.8 496.7L427.3 496.9L429.9 497L432.4 497.2L433.6 500.4L434.9 503.6L436.1 506.6ZM385.1 523.3L383.3 523L381.4 522.8L379.6 522.6L377.8 522.4L373.2 520L368.6 517.4L364.1 514.7L359.7 512L361.8 512.2L364 512.5L366.1 512.7L368.2 513L372.3 515.7L376.5 518.3L380.8 520.9ZM399.1 135.3L397.9 135.1L396.6 134.8L395.3 134.6L394 134.3L399.8 131.6L405.7 128.9L411.9 126.3L418.4 123.9L419.2 124.1L420.1 124.3L420.9 124.5L421.8 124.7L415.8 127.2L410 129.8L404.5 132.5Z"/><path fill="#008bff" stroke="#008bff" d="M638 508L636 508.2L633.9 508.4L631.8 508.6L629.7 508.8L635 505.9L640.2 502.8L645.2 499.7L650.1 496.5L652.5 496.3L654.9 496L657.2 495.8L659.6 495.6L654.5 498.8L649.2 501.9L643.7 505ZM615.7 141.6L614.1 141.8L612.6 142.1L611 142.4L609.4 142.6L603.2 139.6L596.7 136.7L590.1 133.8L583.1 131L584.3 130.8L585.5 130.5L586.6 130.3L587.8 130.1L595.2 132.8L602.3 135.6L609.1 138.6Z"/><path fill="#0086ff" stroke="#0086ff" d="M659.6 495.6L657.2 495.8L654.9 496L652.5 496.3L650.1 496.5L654.8 493.3L659.4 490L663.9 486.6L668.2 483.2L670.8 482.9L673.4 482.6L676.1 482.4L678.7 482.1L674.2 485.6L669.5 489L664.6 492.3ZM640.1 154.3L638.1 154.6L636.2 154.9L634.3 155.1L632.4 155.4L626.9 152.1L621.3 148.9L615.4 145.7L609.4 142.6L611 142.4L612.6 142.1L614.1 141.8L615.7 141.6L622.1 144.6L628.3 147.8L634.3 151Z"/><path fill="#007fff" stroke="#007fff" d="M678.7 482.1L676.1 482.4L673.4 482.6L670.8 482.9L668.2 483.2L672.3 479.7L676.4 476.1L680.3 472.6L684.1 468.9L686.9 468.6L689.8 468.3L692.6 468.1L695.5 467.8L691.5 471.4L687.4 475L683.1 478.6ZM661.5 168L659.2 168.3L657 168.6L654.8 168.9L652.5 169.2L647.7 165.7L642.8 162.2L637.6 158.8L632.4 155.4L634.3 155.1L636.2 154.9L638.1 154.6L640.1 154.3L645.7 157.6L651.1 161L656.4 164.5Z"/><path fill="#0078ff" stroke="#0078ff" d="M695.5 467.8L692.6 468.1L689.8 468.3L686.9 468.6L684.1 468.9L687.7 465.2L691.2 461.5L694.6 457.7L697.9 453.9L700.9 453.6L704 453.3L707 453L710 452.7L706.6 456.5L703 460.3L699.3 464.1ZM680.3 182.6L677.8 182.9L675.3 183.2L672.8 183.5L670.3 183.9L666.1 180.1L661.7 176.4L657.2 172.8L652.5 169.2L654.8 168.9L657 168.6L659.2 168.3L661.5 168L666.4 171.6L671.2 175.2L675.8 178.9Z"/><path fill="#0071ff" stroke="#0071ff" d="M710 452.7L707 453L704 453.3L700.9 453.6L697.9 453.9L701.1 450L704.1 446.1L707 442.2L709.8 438.2L713 437.9L716.2 437.6L719.3 437.3L722.5 437L719.6 441L716.5 444.9L713.4 448.8ZM696.8 197.9L694.1 198.2L691.4 198.5L688.6 198.8L685.9 199.2L682.2 195.3L678.4 191.4L674.4 187.6L670.3 183.9L672.8 183.5L675.3 183.2L677.8 182.9L680.3 182.6L684.6 186.3L688.8 190.1L692.9 194Z"/><path fill="#006bff" stroke="#006bff" d="M722.5 437L719.3 437.3L716.2 437.6L713 437.9L709.8 438.2L712.4 434.2L715 430.2L717.4 426.1L719.7 422L723.1 421.7L726.4 421.4L729.7 421L733 420.7L730.6 424.8L728 428.9L725.3 433ZM711.2 213.8L708.2 214.1L705.3 214.4L702.4 214.8L699.4 215.1L696.2 211.1L692.9 207.1L689.5 203.1L685.9 199.2L688.6 198.8L691.4 198.5L694.1 198.2L696.8 197.9L700.6 201.8L704.3 205.7L707.8 209.7Z"/><path fill="#0065ff" stroke="#0065ff" d="M733 420.7L729.7 421L726.4 421.4L723.1 421.7L719.7 422L721.9 417.9L724 413.8L726 409.6L727.8 405.4L731.3 405L734.7 404.7L738.1 404.4L741.6 404L739.6 408.2L737.5 412.4L735.3 416.6ZM723.4 230.1L720.3 230.5L717.2 230.8L714.1 231.2L711 231.5L708.3 227.4L705.5 223.3L702.5 219.2L699.4 215.1L702.4 214.8L705.3 214.4L708.2 214.1L711.2 213.8L714.4 217.8L717.6 221.9L720.6 226Z"/><path fill="#0061ff" stroke="#0061ff" d="M741.6 404L738.1 404.4L734.7 404.7L731.3 405L727.8 405.4L729.6 401.1L731.2 396.9L732.7 392.6L734.1 388.4L737.6 388L741.2 387.7L744.7 387.3L748.2 387L746.7 391.3L745.1 395.5L743.4 399.8ZM733.7 247L730.5 247.3L727.2 247.6L724 248L720.8 248.3L718.5 244.1L716.1 239.9L713.6 235.7L711 231.5L714.1 231.2L717.2 230.8L720.3 230.5L723.4 230.1L726.2 234.3L728.8 238.5L731.3 242.7Z"/><path fill="#005eff" stroke="#005eff" d="M748.2 387L744.7 387.3L741.2 387.7L737.6 388L734.1 388.4L735.4 384L736.6 379.7L737.7 375.4L738.6 371L742.2 370.7L745.8 370.3L749.3 370L752.9 369.6L751.9 374L750.8 378.3L749.5 382.7ZM742.1 264.1L738.7 264.4L735.4 264.8L732 265.2L728.6 265.5L726.8 261.2L724.9 256.9L722.9 252.6L720.8 248.3L724 248L727.2 247.6L730.5 247.3L733.7 247L736 251.2L738.2 255.5L740.2 259.8Z"/><path fill="#005aff" stroke="#005aff" d="M755.7 352.1L752.1 352.5L748.6 352.8L745 353.2L741.4 353.5L741.8 349.1L742.1 344.7L742.3 340.3L742.4 335.9L746 335.5L749.5 335.2L753.1 334.8L756.7 334.5L756.7 338.9L756.5 343.3L756.2 347.7ZM756.7 334.5L753.1 334.8L749.5 335.2L746 335.5L742.4 335.9L742.3 331.5L742.2 327L741.9 322.6L741.6 318.2L745.1 317.8L748.7 317.5L752.3 317.1L755.9 316.8L756.3 321.2L756.5 325.6L756.7 330ZM755.9 316.8L752.3 317.1L748.7 317.5L745.1 317.8L741.6 318.2L741.1 313.8L740.5 309.3L739.8 304.9L739 300.5L742.6 300.1L746.1 299.8L749.6 299.4L753.1 299.1L754 303.5L754.7 307.9L755.4 312.3ZM753.1 299.1L749.6 299.4L746.1 299.8L742.6 300.1L739 300.5L738.1 296.1L737.1 291.7L736 287.3L734.7 282.9L738.2 282.6L741.6 282.2L745.1 281.8L748.6 281.5L749.9 285.9L751.1 290.3L752.2 294.7Z"/><path fill="#00a0ff" stroke="#00a0ff" d="M517.1 112.9L517.1 113.1L517 113.2L516.9 113.4L516.7 113.5L507.2 112.3L497.8 111.6L488.8 111.3L480.5 111.7L488.6 111.1L497.5 111.2L507.1 111.8ZM681.6 377L678 377.4L674.5 377.8L670.9 378.2L667.3 378.5L668 374.2L668.6 369.8L669.1 365.5L669.5 361.1L673.1 360.7L676.7 360.3L680.3 360L683.9 359.6L683.4 364L682.9 368.3L682.3 372.7ZM679.3 289L675.8 289.4L672.3 289.7L668.8 290.1L665.4 290.5L664.4 286.1L663.4 281.7L662.3 277.4L661.1 273L664.5 272.6L667.9 272.3L671.3 271.9L674.7 271.5L676 275.9L677.1 280.2L678.3 284.6Z"/><path fill="#00ff02" stroke="#00ff02" d="M569.8 534.3L567.8 533.7L569.4 532.5L573.1 531.1L577.9 529.3L579.1 529.2L580.4 529.1L581.6 528.9L582.9 528.8L577.4 530.6L572.7 532.2L569.6 533.5ZM569.8 534.3L564.1 534L562.8 533.2L564.4 532L567.6 530.4L568.9 530.3L570.2 530.1L571.5 530L572.8 529.9L568.8 531.5L566.1 532.9L565.9 533.8ZM433.7 535L432.3 534.8L430.9 534.7L429.4 534.5L428 534.3L427.7 533L426 531.4L423.8 529.5L421.3 527.5L423.1 527.7L424.9 527.9L426.6 528.1L428.4 528.3L430.6 530.3L432.5 532.1L433.8 533.7ZM418.9 518.7L416.8 518.5L414.8 518.2L412.7 518L410.6 517.8L408 515.1L405.5 512.3L403 509.4L400.6 506.5L402.9 506.7L405.2 506.9L407.6 507.2L409.9 507.4L412.1 510.3L414.3 513.2L416.6 516ZM421.5 153L419.7 152.8L417.9 152.6L416.1 152.4L414.3 152.2L417.2 149L420.2 145.8L423.3 142.6L426.5 139.6L428 139.8L429.4 140L430.9 140.1L432.3 140.3L429.5 143.4L426.7 146.5L424.1 149.7ZM444.9 128.8L443.9 128.7L442.8 128.5L441.8 128.4L440.7 128.2L444.7 125.6L448.9 123.2L453.2 120.8L457.9 118.6L458.5 118.7L459 118.8L459.6 118.9L460.2 118.9L456 121.2L452.1 123.6L448.4 126.2ZM391.2 534.3L404.5 534.9L412.8 534.8L416.5 534.2L416.9 533.1L418.3 533.2L419.6 533.4L421 533.6L422.4 533.7L421.2 534.7L416.1 535.2L406 535ZM455.8 118.1L455.2 118L454.7 117.9L454.2 117.8L453.7 117.7L459.8 115.8L466.2 114.1L473.1 112.7L480.5 111.7L473.5 112.8L467.2 114.4L461.3 116.1ZM340.3 462.1L337.3 461.8L334.2 461.5L331.2 461.2L328.1 460.9L325.9 457.1L323.7 453.2L321.6 449.4L319.6 445.5L322.8 445.8L326 446.2L329.2 446.5L332.3 446.8L334.2 450.7L336.2 454.6L338.2 458.4ZM344.8 207.8L342 207.4L339.2 207.1L336.4 206.8L333.7 206.5L336.2 202.5L338.9 198.6L341.6 194.7L344.4 190.9L347 191.2L349.5 191.5L352.1 191.8L354.7 192.1L352.1 196L349.6 199.9L347.1 203.8ZM391.2 534.3L395.7 533.9L396 533L393.7 531.7L390 530.1L391.3 530.2L392.6 530.3L393.9 530.5L395.2 530.6L398.1 532.1L399.3 533.3L397.5 534.1ZM447.3 115.6L446.9 115.4L446.7 115.3L446.4 115.1L446.1 115L454.6 113.5L463.2 112.4L471.9 111.8L480.5 111.7L472 112L463.5 112.8L455.3 114ZM390 530.1L388.7 529.9L387.4 529.8L386.1 529.6L384.8 529.5L379.7 527.6L374.4 525.5L368.9 523.2L363.5 520.8L365.3 521L367 521.2L368.8 521.4L370.6 521.6L375.7 523.9L380.6 526.2L385.5 528.2ZM415.2 123L414.5 122.8L413.7 122.6L412.9 122.4L412.2 122.2L419.9 119.9L428 117.9L436.4 116L445.2 114.4L445.4 114.5L445.6 114.7L445.8 114.8L446.1 115L437.9 116.7L430 118.6L422.5 120.8Z"/><path fill="#00e1ff" stroke="#00e1ff" d="M582.9 528.8L581.6 528.9L580.4 529.1L579.1 529.2L577.9 529.3L583.2 527.4L588.7 525.2L594.3 522.9L599.9 520.5L601.7 520.3L603.4 520.1L605.2 519.9L606.9 519.8L600.9 522.2L594.9 524.6L588.8 526.8ZM552.6 121L551.9 121.2L551.2 121.5L550.5 121.7L549.8 121.9L541.8 119.7L533.6 117.6L525 115.8L516.1 114.2L516.3 114L516.5 113.9L516.6 113.7L516.7 113.5L526.2 115.1L535.3 116.9L544.1 118.9Z"/><path fill="#00daff" stroke="#00daff" d="M606.9 519.8L605.2 519.9L603.4 520.1L601.7 520.3L599.9 520.5L605.4 518L610.8 515.3L616.1 512.6L621.2 509.7L623.3 509.5L625.5 509.3L627.6 509.1L629.7 508.8L624.2 511.7L618.6 514.5L612.8 517.2ZM583.1 131L582 131.3L580.8 131.5L579.6 131.8L578.4 132L571.7 129.3L564.6 126.7L557.4 124.2L549.8 121.9L550.5 121.7L551.2 121.5L551.9 121.2L552.6 121L560.7 123.3L568.5 125.8L575.9 128.4ZM649.1 459.1L646.1 459.4L643 459.8L640 460.1L636.9 460.4L639.2 456.6L641.5 452.8L643.6 448.9L645.7 445L648.9 444.7L652.1 444.3L655.3 444L658.5 443.6L656.3 447.6L654 451.4L651.6 455.3ZM642.1 204.7L639.3 205L636.6 205.3L633.8 205.7L631 206L628.4 202.1L625.7 198.1L622.9 194.3L620 190.4L622.5 190.1L625.1 189.8L627.6 189.4L630.2 189.1L633.3 192.9L636.3 196.8L639.3 200.7ZM458.1 130.1L457 130.1L455.9 130L454.8 129.9L453.6 129.8L456.3 127.1L459 124.5L461.9 122L465 119.6L465.6 119.6L466.3 119.7L466.9 119.8L467.5 119.8L465 122.2L462.6 124.8L460.3 127.4ZM391.2 534.3L409.7 535.5L425.4 536.2L435.4 536.3L439.4 535.6L440.8 535.7L442.3 535.9L443.7 536L445.2 536.2L440.1 536.7L428.1 536.6L410.6 535.7ZM435.2 520.2L433.1 520L431.1 519.8L429.1 519.6L427.1 519.5L425 516.8L423 514L421.1 511.2L419.2 508.2L421.5 508.4L423.8 508.6L426.1 508.8L428.4 509L430 511.9L431.7 514.8L433.4 517.5ZM391.2 534.3L397.5 534.1L399.3 533.3L398.1 532.1L395.2 530.6L396.5 530.8L397.8 530.9L399.2 531.1L400.5 531.2L402.6 532.6L402.7 533.7L399.3 534.3ZM448.6 116.1L448.3 116L447.9 115.9L447.6 115.7L447.3 115.6L455.3 114L463.5 112.8L472 112L480.5 111.7L472.1 112.2L464 113.1L456.1 114.5Z"/><path fill="#00d3ff" stroke="#00d3ff" d="M629.7 508.8L627.6 509.1L625.5 509.3L623.3 509.5L621.2 509.7L626.2 506.8L631.1 503.8L635.9 500.7L640.5 497.6L642.9 497.3L645.3 497L647.7 496.8L650.1 496.5L645.2 499.7L640.2 502.8L635 505.9ZM609.4 142.6L607.8 142.9L606.2 143.2L604.7 143.4L603.1 143.7L597.2 140.7L591.2 137.7L584.9 134.8L578.4 132L579.6 131.8L580.8 131.5L582 131.3L583.1 131L590.1 133.8L596.7 136.7L603.2 139.6ZM445.2 536.2L443.7 536L442.3 535.9L440.8 535.7L439.4 535.6L440 534.4L439 532.8L437.4 531L435.4 529L437.2 529.2L438.9 529.3L440.6 529.5L442.3 529.7L444 531.7L445.4 533.5L446.1 535Z"/><path fill="#00c5ff" stroke="#00c5ff" d="M668.2 483.2L665.5 483.4L662.9 483.7L660.2 484L657.6 484.3L661.5 480.8L665.3 477.3L669 473.7L672.6 470.1L675.5 469.8L678.3 469.5L681.2 469.2L684.1 468.9L680.3 472.6L676.4 476.1L672.3 479.7ZM652.5 169.2L650.3 169.5L648.1 169.8L645.9 170.2L643.6 170.5L639.1 166.9L634.4 163.4L629.6 160L624.6 156.6L626.6 156.3L628.5 156L630.4 155.7L632.4 155.4L637.6 158.8L642.8 162.2L647.7 165.7Z"/><path fill="#00bfff" stroke="#00bfff" d="M684.1 468.9L681.2 469.2L678.3 469.5L675.5 469.8L672.6 470.1L676.1 466.4L679.4 462.7L682.6 459L685.7 455.1L688.8 454.8L691.8 454.5L694.9 454.2L697.9 453.9L694.6 457.7L691.2 461.5L687.7 465.2ZM670.3 183.9L667.8 184.2L665.3 184.5L662.8 184.8L660.3 185.1L656.4 181.4L652.2 177.7L648 174.1L643.6 170.5L645.9 170.2L648.1 169.8L650.3 169.5L652.5 169.2L657.2 172.8L661.7 176.4L666.1 180.1Z"/><path fill="#00b9ff" stroke="#00b9ff" d="M697.9 453.9L694.9 454.2L691.8 454.5L688.8 454.8L685.7 455.1L688.7 451.3L691.6 447.4L694.3 443.5L697 439.5L700.2 439.2L703.4 438.9L706.6 438.6L709.8 438.2L707 442.2L704.1 446.1L701.1 450ZM685.9 199.2L683.2 199.5L680.5 199.8L677.7 200.2L675 200.5L671.5 196.6L667.9 192.8L664.2 188.9L660.3 185.1L662.8 184.8L665.3 184.5L667.8 184.2L670.3 183.9L674.4 187.6L678.4 191.4L682.2 195.3Z"/><path fill="#00b3ff" stroke="#00b3ff" d="M709.8 438.2L706.6 438.6L703.4 438.9L700.2 439.2L697 439.5L699.5 435.6L701.9 431.5L704.2 427.5L706.4 423.4L709.7 423L713.1 422.7L716.4 422.4L719.7 422L717.4 426.1L715 430.2L712.4 434.2ZM699.4 215.1L696.5 215.4L693.6 215.8L690.7 216.1L687.7 216.5L684.7 212.4L681.6 208.4L678.4 204.5L675 200.5L677.7 200.2L680.5 199.8L683.2 199.5L685.9 199.2L689.5 203.1L692.9 207.1L696.2 211.1Z"/><path fill="#00adff" stroke="#00adff" d="M719.7 422L716.4 422.4L713.1 422.7L709.7 423L706.4 423.4L708.5 419.3L710.5 415.1L712.4 411L714.1 406.8L717.6 406.4L721 406.1L724.4 405.7L727.8 405.4L726 409.6L724 413.8L721.9 417.9ZM711 231.5L707.9 231.9L704.8 232.2L701.7 232.6L698.6 232.9L696.1 228.8L693.4 224.7L690.6 220.6L687.7 216.5L690.7 216.1L693.6 215.8L696.5 215.4L699.4 215.1L702.5 219.2L705.5 223.3L708.3 227.4Z"/><path fill="#00a6ff" stroke="#00a6ff" d="M727.8 405.4L724.4 405.7L721 406.1L717.6 406.4L714.1 406.8L715.8 402.6L717.3 398.3L718.8 394.1L720.1 389.8L723.6 389.4L727.1 389.1L730.6 388.7L734.1 388.4L732.7 392.6L731.2 396.9L729.6 401.1ZM720.8 248.3L717.5 248.7L714.3 249.1L711 249.4L707.8 249.8L705.6 245.5L703.4 241.3L701.1 237.1L698.6 232.9L701.7 232.6L704.8 232.2L707.9 231.9L711 231.5L713.6 235.7L716.1 239.9L718.5 244.1Z"/><path fill="#009fff" stroke="#009fff" d="M734.1 388.4L730.6 388.7L727.1 389.1L723.6 389.4L720.1 389.8L721.3 385.5L722.5 381.2L723.5 376.8L724.4 372.5L728 372.1L731.5 371.8L735.1 371.4L738.6 371L737.7 375.4L736.6 379.7L735.4 384ZM728.6 265.5L725.3 265.9L721.9 266.2L718.5 266.6L715.2 267L713.5 262.7L711.7 258.4L709.8 254.1L707.8 249.8L711 249.4L714.3 249.1L717.5 248.7L720.8 248.3L722.9 252.6L724.9 256.9L726.8 261.2Z"/><path fill="#0097ff" stroke="#0097ff" d="M741.4 353.5L737.8 353.9L734.2 354.3L730.6 354.6L727 355L727.4 350.6L727.7 346.2L727.9 341.8L728 337.4L731.6 337L735.2 336.6L738.8 336.3L742.4 335.9L742.3 340.3L742.1 344.7L741.8 349.1ZM739 300.5L735.5 300.9L732 301.2L728.4 301.6L724.9 302L724.1 297.6L723.1 293.2L722 288.8L720.9 284.4L724.3 284L727.8 283.7L731.3 283.3L734.7 282.9L736 287.3L737.1 291.7L738.1 296.1Z"/><path fill="#0096ff" stroke="#0096ff" d="M742.4 335.9L738.8 336.3L735.2 336.6L731.6 337L728 337.4L728 332.9L727.8 328.5L727.6 324.1L727.3 319.7L730.8 319.3L734.4 318.9L738 318.6L741.6 318.2L741.9 322.6L742.2 327L742.3 331.5ZM741.6 318.2L738 318.6L734.4 318.9L730.8 319.3L727.3 319.7L726.8 315.2L726.3 310.8L725.7 306.4L724.9 302L728.4 301.6L732 301.2L735.5 300.9L739 300.5L739.8 304.9L740.5 309.3L741.1 313.8Z"/><path fill="#00e8ff" stroke="#00e8ff" d="M516.7 113.5L516.6 113.7L516.5 113.9L516.3 114L516.1 114.2L507 112.9L497.9 111.9L489 111.5L480.5 111.7L488.8 111.3L497.8 111.6L507.2 112.3ZM412.2 468.6L409.3 468.4L406.3 468.2L403.3 468L400.4 467.8L399.1 464.1L397.9 460.3L396.8 456.5L395.6 452.6L398.8 452.9L401.9 453.1L405 453.3L408.2 453.5L409.1 457.4L410.1 461.2L411.1 464.9ZM398 387.7L394.5 387.5L390.9 387.3L387.4 387L383.8 386.8L383.5 382.5L383.1 378.1L382.8 373.8L382.6 369.4L386.2 369.7L389.8 369.9L393.4 370.1L396.9 370.4L397.2 374.7L397.4 379.1L397.7 383.4ZM398.3 299.7L394.8 299.4L391.2 299.2L387.7 299L384.2 298.7L384.7 294.3L385.2 289.9L385.7 285.5L386.3 281.1L389.7 281.4L393.2 281.6L396.6 281.8L400 282L399.5 286.4L399.1 290.8L398.7 295.2ZM405.3 247.4L402 247.2L398.8 247L395.6 246.8L392.4 246.5L393.4 242.3L394.4 238.1L395.5 233.9L396.6 229.7L399.6 229.9L402.6 230.1L405.7 230.4L408.8 230.6L407.8 234.7L406.9 238.9L406.1 243.2Z"/><path fill="#8fff00" stroke="#8fff00" d="M569.8 534.3L565.9 533.8L566.1 532.9L568.8 531.5L572.8 529.9L574.1 529.7L575.3 529.6L576.6 529.5L577.9 529.3L573.1 531.1L569.4 532.5L567.8 533.7ZM451.9 117.2L451.4 117.1L451 116.9L450.6 116.8L450.2 116.7L457.2 114.9L464.6 113.5L472.4 112.3L480.5 111.7L472.7 112.5L465.3 113.8L458.4 115.4ZM391.2 534.3L399.3 534.3L402.7 533.7L402.6 532.6L400.5 531.2L401.9 531.4L403.2 531.5L404.6 531.7L405.9 531.8L407.2 533.1L406.1 534.1L401.1 534.5ZM392.3 524.1L390.5 523.9L388.7 523.7L386.9 523.5L385.1 523.3L380.8 520.9L376.5 518.3L372.3 515.7L368.2 513L370.4 513.2L372.5 513.5L374.7 513.7L376.8 514L380.6 516.7L384.5 519.3L388.4 521.8ZM404.4 136.3L403 136L401.7 135.8L400.4 135.6L399.1 135.3L404.5 132.5L410 129.8L415.8 127.2L421.8 124.7L422.6 124.9L423.5 125.1L424.4 125.3L425.3 125.5L419.7 128L414.4 130.7L409.3 133.4Z"/><path fill="#00ffe3" stroke="#00ffe3" d="M577.9 529.3L576.6 529.5L575.3 529.6L574.1 529.7L572.8 529.9L577.4 528L582.5 525.9L587.6 523.7L592.8 521.3L594.6 521.1L596.3 520.9L598.1 520.7L599.9 520.5L594.3 522.9L588.7 525.2L583.2 527.4ZM549.8 121.9L549 122.1L548.3 122.3L547.6 122.5L546.8 122.7L539.4 120.5L531.7 118.4L523.6 116.5L515.2 114.8L515.5 114.6L515.7 114.5L515.9 114.3L516.1 114.2L525 115.8L533.6 117.6L541.8 119.7Z"/><path fill="#00ffea" stroke="#00ffea" d="M599.9 520.5L598.1 520.7L596.3 520.9L594.6 521.1L592.8 521.3L597.9 518.8L602.9 516.2L607.9 513.5L612.7 510.7L614.9 510.4L617 510.2L619.1 510L621.2 509.7L616.1 512.6L610.8 515.3L605.4 518ZM578.4 132L577.2 132.3L576 132.5L574.8 132.8L573.6 133L567.3 130.3L560.7 127.7L553.9 125.1L546.8 122.7L547.6 122.5L548.3 122.3L549 122.1L549.8 121.9L557.4 124.2L564.6 126.7L571.7 129.3Z"/><path fill="#00fff1" stroke="#00fff1" d="M621.2 509.7L619.1 510L617 510.2L614.9 510.4L612.7 510.7L617.4 507.8L622 504.8L626.5 501.8L630.8 498.6L633.2 498.4L635.7 498.1L638.1 497.8L640.5 497.6L635.9 500.7L631.1 503.8L626.2 506.8ZM603.1 143.7L601.5 144L599.9 144.3L598.3 144.5L596.7 144.8L591.2 141.8L585.5 138.8L579.6 135.8L573.6 133L574.8 132.8L576 132.5L577.2 132.3L578.4 132L584.9 134.8L591.2 137.7L597.2 140.7ZM578.4 523L576.5 523.2L574.7 523.4L572.9 523.6L571.1 523.8L575.1 521.5L579.2 519L583.1 516.4L587.1 513.6L589.2 513.4L591.3 513.1L593.5 512.9L595.6 512.6L591.4 515.4L587.1 518L582.7 520.6ZM563.6 135L562.3 135.2L561 135.5L559.7 135.7L558.4 135.9L553.3 133.1L548.1 130.4L542.6 127.7L536.9 125.2L537.8 125L538.7 124.8L539.5 124.6L540.4 124.4L546.5 126.9L552.4 129.5L558.1 132.2ZM267.5 358.6L263.9 358.2L260.3 357.8L256.7 357.4L253.2 357L252.8 352.6L252.5 348.2L252.3 343.8L252.2 339.4L255.8 339.8L259.4 340.2L263 340.6L266.6 340.9L266.7 345.4L266.9 349.8L267.2 354.2ZM269.1 305.6L265.5 305.2L262 304.8L258.5 304.4L254.9 304L255.7 299.6L256.6 295.2L257.5 290.8L258.6 286.4L262.1 286.8L265.5 287.2L269 287.6L272.5 288L271.5 292.4L270.6 296.8L269.8 301.2Z"/><path fill="#00fffb" stroke="#00fffb" d="M640.5 497.6L638.1 497.8L635.7 498.1L633.2 498.4L630.8 498.6L635 495.4L639.1 492.2L643.1 488.8L647 485.4L649.6 485.1L652.3 484.9L654.9 484.6L657.6 484.3L653.5 487.7L649.3 491.1L645 494.3ZM624.6 156.6L622.7 156.9L620.8 157.2L618.8 157.5L616.9 157.8L612 154.5L607.1 151.2L602 148L596.7 144.8L598.3 144.5L599.9 144.3L601.5 144L603.1 143.7L608.7 146.8L614.2 150L619.5 153.3Z"/><path fill="#00faff" stroke="#00faff" d="M657.6 484.3L654.9 484.6L652.3 484.9L649.6 485.1L647 485.4L650.7 482L654.3 478.5L657.8 474.9L661.2 471.3L664 471L666.9 470.7L669.8 470.4L672.6 470.1L669 473.7L665.3 477.3L661.5 480.8ZM643.6 170.5L641.4 170.8L639.1 171.1L636.9 171.4L634.6 171.7L630.4 168.2L626 164.7L621.5 161.2L616.9 157.8L618.8 157.5L620.8 157.2L622.7 156.9L624.6 156.6L629.6 160L634.4 163.4L639.1 166.9Z"/><path fill="#00efff" stroke="#00efff" d="M672.6 470.1L669.8 470.4L666.9 470.7L664 471L661.2 471.3L664.4 467.7L667.6 464L670.6 460.2L673.5 456.4L676.6 456.1L679.6 455.8L682.7 455.5L685.7 455.1L682.6 459L679.4 462.7L676.1 466.4ZM660.3 185.1L657.8 185.5L655.3 185.8L652.8 186.1L650.3 186.5L646.6 182.7L642.7 179L638.8 175.3L634.6 171.7L636.9 171.4L639.1 171.1L641.4 170.8L643.6 170.5L648 174.1L652.2 177.7L656.4 181.4Z"/><path fill="#00e5ff" stroke="#00e5ff" d="M685.7 455.1L682.7 455.5L679.6 455.8L676.6 456.1L673.5 456.4L676.3 452.6L679.1 448.7L681.7 444.8L684.2 440.9L687.4 440.6L690.6 440.2L693.8 439.9L697 439.5L694.3 443.5L691.6 447.4L688.7 451.3ZM675 200.5L672.3 200.9L669.5 201.2L666.8 201.5L664.1 201.9L660.8 198L657.4 194.1L653.9 190.3L650.3 186.5L652.8 186.1L655.3 185.8L657.8 185.5L660.3 185.1L664.2 188.9L667.9 192.8L671.5 196.6ZM416.9 483L414.2 482.8L411.4 482.6L408.6 482.4L405.8 482.2L404.4 478.7L403 475.1L401.7 471.5L400.4 467.8L403.3 468L406.3 468.2L409.3 468.4L412.2 468.6L413.3 472.3L414.5 475.9L415.7 479.5Z"/><path fill="#00d9ff" stroke="#00d9ff" d="M697 439.5L693.8 439.9L690.6 440.2L687.4 440.6L684.2 440.9L686.5 436.9L688.8 432.9L691 428.9L693.1 424.8L696.4 424.4L699.8 424.1L703.1 423.7L706.4 423.4L704.2 427.5L701.9 431.5L699.5 435.6ZM687.7 216.5L684.8 216.8L681.9 217.2L678.9 217.5L676 217.9L673.2 213.8L670.3 209.8L667.2 205.8L664.1 201.9L666.8 201.5L669.5 201.2L672.3 200.9L675 200.5L678.4 204.5L681.6 208.4L684.7 212.4Z"/><path fill="#00cdff" stroke="#00cdff" d="M706.4 423.4L703.1 423.7L699.8 424.1L696.4 424.4L693.1 424.8L695.1 420.7L696.9 416.5L698.7 412.4L700.4 408.2L703.8 407.8L707.2 407.5L710.7 407.1L714.1 406.8L712.4 411L710.5 415.1L708.5 419.3ZM698.6 232.9L695.5 233.3L692.4 233.7L689.3 234L686.2 234.4L683.8 230.2L681.3 226.1L678.7 222L676 217.9L678.9 217.5L681.9 217.2L684.8 216.8L687.7 216.5L690.6 220.6L693.4 224.7L696.1 228.8Z"/><path fill="#00c3ff" stroke="#00c3ff" d="M714.1 406.8L710.7 407.1L707.2 407.5L703.8 407.8L700.4 408.2L701.9 404L703.4 399.8L704.8 395.5L706.1 391.2L709.6 390.9L713.1 390.5L716.6 390.1L720.1 389.8L718.8 394.1L717.3 398.3L715.8 402.6ZM707.8 249.8L704.5 250.2L701.3 250.5L698 250.9L694.8 251.3L692.8 247L690.7 242.8L688.5 238.6L686.2 234.4L689.3 234L692.4 233.7L695.5 233.3L698.6 232.9L701.1 237.1L703.4 241.3L705.6 245.5ZM666.4 427.6L663.1 428L659.8 428.3L656.4 428.7L653.1 429L654.7 425L656.3 420.9L657.8 416.7L659.1 412.6L662.6 412.2L666 411.9L669.4 411.5L672.9 411.1L671.4 415.3L669.8 419.4L668.2 423.5ZM661.3 237.3L658.2 237.7L655 238L651.9 238.4L648.8 238.8L646.9 234.6L644.9 230.4L642.8 226.3L640.6 222.2L643.6 221.8L646.5 221.5L649.5 221.1L652.4 220.7L654.8 224.8L657.1 229L659.2 233.1Z"/><path fill="#00bbff" stroke="#00bbff" d="M720.1 389.8L716.6 390.1L713.1 390.5L709.6 390.9L706.1 391.2L707.2 387L708.3 382.6L709.3 378.3L710.1 374L713.7 373.6L717.3 373.2L720.8 372.9L724.4 372.5L723.5 376.8L722.5 381.2L721.3 385.5ZM715.2 267L711.8 267.4L708.4 267.7L705.1 268.1L701.7 268.5L700.1 264.2L698.4 259.8L696.6 255.5L694.8 251.3L698 250.9L701.3 250.5L704.5 250.2L707.8 249.8L709.8 254.1L711.7 258.4L713.5 262.7Z"/><path fill="#00b2ff" stroke="#00b2ff" d="M724.4 372.5L720.8 372.9L717.3 373.2L713.7 373.6L710.1 374L710.9 369.6L711.6 365.3L712.2 360.9L712.6 356.5L716.2 356.1L719.8 355.8L723.4 355.4L727 355L726.5 359.4L725.9 363.8L725.2 368.1ZM720.9 284.4L717.4 284.8L714 285.2L710.5 285.5L707 285.9L705.8 281.5L704.6 277.2L703.2 272.8L701.7 268.5L705.1 268.1L708.4 267.7L711.8 267.4L715.2 267L716.8 271.3L718.2 275.7L719.6 280Z"/><path fill="#00afff" stroke="#00afff" d="M727 355L723.4 355.4L719.8 355.8L716.2 356.1L712.6 356.5L713 352.1L713.3 347.7L713.5 343.3L713.6 338.9L717.2 338.5L720.8 338.1L724.4 337.7L728 337.4L727.9 341.8L727.7 346.2L727.4 350.6ZM724.9 302L721.4 302.4L717.8 302.8L714.3 303.1L710.8 303.5L710 299.1L709.1 294.7L708.1 290.3L707 285.9L710.5 285.5L714 285.2L717.4 284.8L720.9 284.4L722 288.8L723.1 293.2L724.1 297.6Z"/><path fill="#00abff" stroke="#00abff" d="M728 337.4L724.4 337.7L720.8 338.1L717.2 338.5L713.6 338.9L713.6 334.5L713.5 330L713.3 325.6L713 321.2L716.5 320.8L720.1 320.4L723.7 320.1L727.3 319.7L727.6 324.1L727.8 328.5L728 332.9ZM727.3 319.7L723.7 320.1L720.1 320.4L716.5 320.8L713 321.2L712.6 316.8L712.1 312.4L711.5 307.9L710.8 303.5L714.3 303.1L717.8 302.8L721.4 302.4L724.9 302L725.7 306.4L726.3 310.8L726.8 315.2ZM677.9 394.2L674.4 394.6L670.9 395L667.4 395.3L663.9 395.7L664.9 391.4L665.8 387.2L666.6 382.8L667.3 378.5L670.9 378.2L674.5 377.8L678 377.4L681.6 377L680.8 381.3L679.9 385.7L679 390ZM674.7 271.5L671.3 271.9L667.9 272.3L664.5 272.6L661.1 273L659.9 268.7L658.5 264.3L657.1 260L655.6 255.7L658.9 255.4L662.2 255L665.4 254.6L668.7 254.3L670.3 258.5L671.9 262.9L673.3 267.2Z"/><path fill="#00ffdc" stroke="#00ffdc" d="M516.1 114.2L515.9 114.3L515.7 114.5L515.5 114.6L515.2 114.8L506.6 113.4L497.8 112.3L489.1 111.7L480.5 111.7L489 111.5L497.9 111.9L507 112.9ZM695.9 375.5L692.3 375.9L688.7 376.3L685.2 376.6L681.6 377L682.3 372.7L682.9 368.3L683.4 364L683.9 359.6L687.5 359.2L691.1 358.8L694.7 358.4L698.3 358L697.8 362.4L697.2 366.8L696.6 371.2ZM698.3 358L694.7 358.4L691.1 358.8L687.5 359.2L683.9 359.6L684.2 355.2L684.5 350.8L684.7 346.4L684.8 342L688.4 341.6L692 341.2L695.6 340.8L699.2 340.4L699.1 344.8L698.9 349.2L698.6 353.6ZM699.2 340.4L695.6 340.8L692 341.2L688.4 341.6L684.8 342L684.8 337.6L684.7 333.1L684.6 328.7L684.3 324.3L687.9 323.9L691.5 323.5L695.1 323.1L698.6 322.7L698.9 327.2L699.1 331.6L699.2 336ZM698.6 322.7L695.1 323.1L691.5 323.5L687.9 323.9L684.3 324.3L684 319.9L683.6 315.4L683.1 311L682.5 306.6L686 306.2L689.6 305.8L693.1 305.4L696.6 305.1L697.3 309.5L697.8 313.9L698.3 318.3ZM696.6 305.1L693.1 305.4L689.6 305.8L686 306.2L682.5 306.6L681.8 302.2L681 297.8L680.2 293.4L679.3 289L682.7 288.6L686.2 288.2L689.7 287.8L693.2 287.4L694.2 291.8L695.1 296.2L695.9 300.6ZM693.2 287.4L689.7 287.8L686.2 288.2L682.7 288.6L679.3 289L678.3 284.6L677.1 280.2L676 275.9L674.7 271.5L678.1 271.1L681.4 270.8L684.8 270.4L688.2 270L689.6 274.3L690.9 278.7L692.1 283.1ZM512.9 115.9L512.5 116.1L512.1 116.2L511.8 116.4L511.4 116.5L504.2 114.8L496.6 113.4L488.7 112.3L480.5 111.7L488.9 112.1L497.2 113L505.2 114.3Z"/><path fill="#00ff26" stroke="#00ff26" d="M569.8 534.3L562.3 534.2L559.4 533.6L559.9 532.5L562.3 531L563.6 530.9L564.9 530.7L566.2 530.6L567.6 530.4L564.4 532L562.8 533.2L564.1 534ZM391.2 534.3L406 535L416.1 535.2L421.2 534.7L422.4 533.7L423.8 533.9L425.2 534L426.6 534.2L428 534.3L425.9 535.2L419.4 535.5L407.4 535.2ZM457.9 118.6L457.4 118.5L456.8 118.4L456.3 118.3L455.8 118.1L461.3 116.1L467.2 114.4L473.5 112.8L480.5 111.7L474.1 113L468.2 114.6L462.9 116.5ZM298.4 379L294.9 378.6L291.3 378.3L287.7 377.9L284.2 377.5L283.5 373.2L282.9 368.8L282.4 364.5L281.9 360.1L285.5 360.5L289.1 360.8L292.7 361.2L296.3 361.6L296.7 366L297.2 370.3L297.8 374.7ZM300.3 291L296.8 290.6L293.3 290.2L289.8 289.9L286.4 289.5L287.4 285.1L288.4 280.7L289.6 276.4L290.8 272L294.2 272.4L297.6 272.8L301 273.1L304.4 273.5L303.2 277.9L302.2 282.2L301.2 286.6ZM391.2 534.3L393.8 533.7L392.7 532.6L389.3 531.2L384.8 529.5L386.1 529.6L387.4 529.8L388.7 529.9L390 530.1L393.7 531.7L396 533L395.7 533.9ZM255.6 374.5L252.1 374.1L248.5 373.7L244.9 373.4L241.4 373L240.6 368.6L239.9 364.3L239.3 359.9L238.8 355.5L242.4 355.9L246 356.3L249.6 356.6L253.2 357L253.6 361.4L254.2 365.8L254.9 370.1ZM258.6 286.4L255.1 286L251.7 285.7L248.2 285.3L244.7 284.9L246 280.5L247.3 276.2L248.8 271.8L250.3 267.5L253.7 267.8L257.1 268.2L260.4 268.6L263.8 269L262.4 273.3L261 277.7L259.8 282ZM446.1 115L445.8 114.8L445.6 114.7L445.4 114.5L445.2 114.4L454.1 113L463.1 112.1L472 111.6L480.5 111.7L471.9 111.8L463.2 112.4L454.6 113.5Z"/><path fill="#00ffa2" stroke="#00ffa2" d="M567.6 530.4L566.2 530.6L564.9 530.7L563.6 530.9L562.3 531L565.7 529.3L569.7 527.4L574 525.2L578.4 523L580.2 522.8L582 522.5L583.8 522.3L585.6 522.1L580.8 524.5L576.1 526.6L571.6 528.6ZM543.7 123.6L542.9 123.8L542 124L541.2 124.2L540.4 124.4L534 122.1L527.2 119.8L520.2 117.8L512.9 115.9L513.2 115.8L513.5 115.7L513.9 115.5L514.2 115.4L522 117.1L529.6 119.1L536.8 121.3ZM453.6 129.8L452.5 129.7L451.4 129.6L450.3 129.4L449.2 129.3L452.3 126.6L455.5 124.1L458.9 121.6L462.5 119.3L463.1 119.4L463.8 119.4L464.4 119.5L465 119.6L461.9 122L459 124.5L456.3 127.1Z"/><path fill="#00ffa9" stroke="#00ffa9" d="M585.6 522.1L583.8 522.3L582 522.5L580.2 522.8L578.4 523L582.7 520.6L587.1 518L591.4 515.4L595.6 512.6L597.8 512.4L599.9 512.1L602 511.9L604.2 511.7L599.7 514.4L595 517.1L590.3 519.7ZM568.6 134L567.4 134.3L566.1 134.5L564.8 134.8L563.6 135L558.1 132.2L552.4 129.5L546.5 126.9L540.4 124.4L541.2 124.2L542 124L542.9 123.8L543.7 123.6L550.3 126L556.6 128.6L562.7 131.3ZM376.5 465.8L373.5 465.5L370.5 465.2L367.5 464.9L364.5 464.6L362.7 460.9L361 457.1L359.4 453.2L357.8 449.4L361 449.7L364.1 450L367.3 450.3L370.5 450.6L371.9 454.4L373.4 458.2L374.9 462ZM378.6 211.3L375.7 211.1L372.9 210.8L370.1 210.5L367.3 210.2L369.2 206.2L371.2 202.3L373.2 198.3L375.4 194.4L378 194.7L380.6 195L383.2 195.3L385.8 195.5L383.9 199.4L382.1 203.4L380.3 207.3Z"/><path fill="#00ffb4" stroke="#00ffb4" d="M604.2 511.7L602 511.9L599.9 512.1L597.8 512.4L595.6 512.6L599.7 509.8L603.8 506.9L607.7 503.9L611.5 500.8L613.9 500.5L616.3 500.3L618.7 500L621.2 499.7L617.1 502.8L612.9 505.8L608.6 508.8ZM590.2 145.9L588.5 146.2L586.9 146.5L585.2 146.7L583.6 147L578.8 143.9L573.9 140.8L568.8 137.9L563.6 135L564.8 134.8L566.1 134.5L567.4 134.3L568.6 134L574.3 136.9L579.8 139.8L585.1 142.8Z"/><path fill="#00ffbb" stroke="#00ffbb" d="M621.2 499.7L618.7 500L616.3 500.3L613.9 500.5L611.5 500.8L615.2 497.7L618.8 494.4L622.3 491.2L625.7 487.8L628.3 487.5L631 487.2L633.6 486.9L636.3 486.6L632.7 490L629 493.3L625.1 496.5ZM609 159L607.1 159.3L605.1 159.6L603.1 159.9L601.1 160.2L596.9 156.8L592.6 153.5L588.2 150.2L583.6 147L585.2 146.7L586.9 146.5L588.5 146.2L590.2 145.9L595.1 149.1L599.9 152.3L604.5 155.6Z"/><path fill="#00ffc1" stroke="#00ffc1" d="M636.3 486.6L633.6 486.9L631 487.2L628.3 487.5L625.7 487.8L629 484.4L632.1 480.9L635.2 477.4L638.2 473.8L641.1 473.5L643.9 473.2L646.8 472.9L649.7 472.6L646.5 476.2L643.2 479.7L639.8 483.2ZM625.6 173L623.4 173.3L621.1 173.6L618.8 173.9L616.6 174.3L612.9 170.7L609.1 167.1L605.2 163.6L601.1 160.2L603.1 159.9L605.1 159.6L607.1 159.3L609 159L613.4 162.4L617.6 165.9L621.7 169.4Z"/><path fill="#00ffc7" stroke="#00ffc7" d="M649.7 472.6L646.8 472.9L643.9 473.2L641.1 473.5L638.2 473.8L641.1 470.2L643.8 466.6L646.5 462.8L649.1 459.1L652.2 458.8L655.2 458.4L658.3 458.1L661.3 457.8L658.6 461.5L655.7 465.3L652.7 468.9ZM640.3 187.8L637.7 188.1L635.2 188.5L632.7 188.8L630.2 189.1L626.9 185.3L623.6 181.6L620.1 177.9L616.6 174.3L618.8 173.9L621.1 173.6L623.4 173.3L625.6 173L629.5 176.6L633.2 180.3L636.8 184Z"/><path fill="#00ffcd" stroke="#00ffcd" d="M661.3 457.8L658.3 458.1L655.2 458.4L652.2 458.8L649.1 459.1L651.6 455.3L654 451.4L656.3 447.6L658.5 443.6L661.7 443.3L664.9 443L668.1 442.6L671.3 442.3L669 446.2L666.5 450.1L664 453.9ZM653.1 203.3L650.4 203.6L647.6 204L644.8 204.3L642.1 204.7L639.3 200.7L636.3 196.8L633.3 192.9L630.2 189.1L632.7 188.8L635.2 188.5L637.7 188.1L640.3 187.8L643.6 191.6L646.9 195.5L650.1 199.3Z"/><path fill="#00ffd0" stroke="#00ffd0" d="M671.3 442.3L668.1 442.6L664.9 443L661.7 443.3L658.5 443.6L660.6 439.7L662.6 435.7L664.6 431.7L666.4 427.6L669.7 427.3L673.1 426.9L676.4 426.6L679.8 426.2L677.8 430.3L675.7 434.3L673.6 438.3ZM664.2 219.3L661.3 219.7L658.3 220L655.4 220.4L652.4 220.7L650 216.7L647.5 212.6L644.8 208.6L642.1 204.7L644.8 204.3L647.6 204L650.4 203.6L653.1 203.3L656 207.2L658.9 211.2L661.6 215.3Z"/><path fill="#00ffd3" stroke="#00ffd3" d="M679.8 426.2L676.4 426.6L673.1 426.9L669.7 427.3L666.4 427.6L668.2 423.5L669.8 419.4L671.4 415.3L672.9 411.1L676.3 410.8L679.8 410.4L683.2 410L686.6 409.7L685.1 413.8L683.4 418L681.6 422.1ZM673.8 235.9L670.7 236.2L667.5 236.6L664.4 236.9L661.3 237.3L659.2 233.1L657.1 229L654.8 224.8L652.4 220.7L655.4 220.4L658.3 220L661.3 219.7L664.2 219.3L666.8 223.4L669.2 227.5L671.5 231.7Z"/><path fill="#00ffd6" stroke="#00ffd6" d="M686.6 409.7L683.2 410L679.8 410.4L676.3 410.8L672.9 411.1L674.3 406.9L675.6 402.7L676.8 398.5L677.9 394.2L681.5 393.9L685 393.5L688.5 393.1L692 392.7L690.8 397L689.5 401.2L688.1 405.5ZM681.7 252.8L678.5 253.1L675.2 253.5L672 253.9L668.7 254.3L667 250L665.2 245.7L663.3 241.5L661.3 237.3L664.4 236.9L667.5 236.6L670.7 236.2L673.8 235.9L675.9 240L678 244.3L679.9 248.5Z"/><path fill="#00ffd9" stroke="#00ffd9" d="M692 392.7L688.5 393.1L685 393.5L681.5 393.9L677.9 394.2L679 390L679.9 385.7L680.8 381.3L681.6 377L685.2 376.6L688.7 376.3L692.3 375.9L695.9 375.5L695 379.8L694.1 384.2L693.1 388.5ZM688.2 270L684.8 270.4L681.4 270.8L678.1 271.1L674.7 271.5L673.3 267.2L671.9 262.9L670.3 258.5L668.7 254.3L672 253.9L675.2 253.5L678.5 253.1L681.7 252.8L683.5 257L685.2 261.3L686.7 265.7Z"/><path fill="#00ffb7" stroke="#00ffb7" d="M514.2 115.4L513.9 115.5L513.5 115.7L513.2 115.8L512.9 115.9L505.2 114.3L497.2 113L488.9 112.1L480.5 111.7L489 111.9L497.6 112.7L506 113.9ZM465 119.6L464.4 119.5L463.8 119.4L463.1 119.4L462.5 119.3L466.4 117.1L470.6 115.1L475.3 113.2L480.5 111.7L476 113.3L472 115.2L468.3 117.3Z"/><path fill="#00ffe6" stroke="#00ffe6" d="M562.3 531L560.9 531.2L559.6 531.3L558.2 531.5L556.9 531.6L559.7 530L563.2 528.1L567.1 526.1L571.1 523.8L572.9 523.6L574.7 523.4L576.5 523.2L578.4 523L574 525.2L569.7 527.4L565.7 529.3ZM540.4 124.4L539.5 124.6L538.7 124.8L537.8 125L536.9 125.2L531 122.8L524.8 120.5L518.2 118.4L511.4 116.5L511.8 116.4L512.1 116.2L512.5 116.1L512.9 115.9L520.2 117.8L527.2 119.8L534 122.1ZM423.1 182.8L420.6 182.6L418.2 182.5L415.8 182.3L413.3 182.1L415.1 178.4L416.9 174.7L418.7 171.1L420.6 167.5L422.8 167.7L424.9 167.8L427.1 168L429.2 168.2L427.6 171.7L426 175.4L424.5 179.1Z"/><path fill="#00fff9" stroke="#00fff9" d="M595.6 512.6L593.5 512.9L591.3 513.1L589.2 513.4L587.1 513.6L590.9 510.8L594.6 507.9L598.3 505L601.8 501.9L604.2 501.6L606.7 501.4L609.1 501.1L611.5 500.8L607.7 503.9L603.8 506.9L599.7 509.8ZM583.6 147L581.9 147.3L580.3 147.6L578.6 147.8L576.9 148.1L572.5 144.9L568 141.9L563.3 138.9L558.4 135.9L559.7 135.7L561 135.5L562.3 135.2L563.6 135L568.8 137.9L573.9 140.8L578.8 143.9ZM385.8 403.9L382.3 403.6L378.8 403.3L375.3 403.1L371.8 402.8L371.2 398.6L370.6 394.3L370.1 390L369.6 385.7L373.2 386L376.7 386.3L380.3 386.5L383.8 386.8L384.3 391.1L384.7 395.4L385.2 399.6ZM382.6 369.4L379 369.2L375.4 368.9L371.8 368.6L368.2 368.3L368 364L367.8 359.6L367.7 355.2L367.6 350.8L371.2 351.1L374.8 351.3L378.4 351.6L382 351.8L382.1 356.3L382.2 360.7L382.4 365ZM382.8 316.4L379.3 316.2L375.7 315.9L372.1 315.6L368.6 315.4L368.9 310.9L369.3 306.5L369.7 302.1L370.2 297.7L373.7 297.9L377.2 298.2L380.7 298.5L384.2 298.7L383.8 303.1L383.4 307.6L383.1 312ZM386.3 281.1L382.9 280.9L379.4 280.6L376 280.4L372.6 280.1L373.3 275.7L374 271.4L374.9 267L375.7 262.7L379 262.9L382.4 263.2L385.7 263.5L389 263.7L388.3 268L387.6 272.4L386.9 276.7Z"/><path fill="#00f9ff" stroke="#00f9ff" d="M611.5 500.8L609.1 501.1L606.7 501.4L604.2 501.6L601.8 501.9L605.3 498.8L608.6 495.6L611.9 492.3L615 489L617.7 488.7L620.4 488.4L623 488.1L625.7 487.8L622.3 491.2L618.8 494.4L615.2 497.7ZM601.1 160.2L599.1 160.5L597.1 160.8L595.1 161L593.1 161.3L589.3 157.9L585.3 154.6L581.2 151.3L576.9 148.1L578.6 147.8L580.3 147.6L581.9 147.3L583.6 147L588.2 150.2L592.6 153.5L596.9 156.8Z"/><path fill="#00eeff" stroke="#00eeff" d="M625.7 487.8L623 488.1L620.4 488.4L617.7 488.7L615 489L618.1 485.6L621.1 482.2L623.9 478.7L626.7 475.1L629.6 474.8L632.5 474.5L635.3 474.2L638.2 473.8L635.2 477.4L632.1 480.9L629 484.4ZM616.6 174.3L614.3 174.6L612 174.9L609.7 175.2L607.4 175.5L604 171.9L600.5 168.3L596.9 164.8L593.1 161.3L595.1 161L597.1 160.8L599.1 160.5L601.1 160.2L605.2 163.6L609.1 167.1L612.9 170.7ZM396.4 352.8L392.8 352.6L389.2 352.3L385.6 352.1L382 351.8L382 347.4L382 343L382 338.6L382.1 334.2L385.7 334.4L389.3 334.7L392.9 334.9L396.5 335.1L396.4 339.5L396.4 344L396.4 348.4ZM396.5 335.1L392.9 334.9L389.3 334.7L385.7 334.4L382.1 334.2L382.2 329.7L382.4 325.3L382.6 320.9L382.8 316.4L386.4 316.7L390 316.9L393.5 317.2L397.1 317.4L396.9 321.8L396.7 326.3L396.6 330.7Z"/><path fill="#00e4ff" stroke="#00e4ff" d="M638.2 473.8L635.3 474.2L632.5 474.5L629.6 474.8L626.7 475.1L629.4 471.5L632 467.9L634.5 464.2L636.9 460.4L640 460.1L643 459.8L646.1 459.4L649.1 459.1L646.5 462.8L643.8 466.6L641.1 470.2ZM630.2 189.1L627.6 189.4L625.1 189.8L622.5 190.1L620 190.4L617 186.6L613.9 182.9L610.7 179.2L607.4 175.5L609.7 175.2L612 174.9L614.3 174.6L616.6 174.3L620.1 177.9L623.6 181.6L626.9 185.3Z"/><path fill="#00ceff" stroke="#00ceff" d="M658.5 443.6L655.3 444L652.1 444.3L648.9 444.7L645.7 445L647.7 441.1L649.6 437.1L651.4 433.1L653.1 429L656.4 428.7L659.8 428.3L663.1 428L666.4 427.6L664.6 431.7L662.6 435.7L660.6 439.7ZM652.4 220.7L649.5 221.1L646.5 221.5L643.6 221.8L640.6 222.2L638.3 218.1L636 214L633.6 210L631 206L633.8 205.7L636.6 205.3L639.3 205L642.1 204.7L644.8 208.6L647.5 212.6L650 216.7Z"/><path fill="#00b7ff" stroke="#00b7ff" d="M672.9 411.1L669.4 411.5L666 411.9L662.6 412.2L659.1 412.6L660.5 408.4L661.7 404.2L662.8 400L663.9 395.7L667.4 395.3L670.9 395L674.4 394.6L677.9 394.2L676.8 398.5L675.6 402.7L674.3 406.9ZM668.7 254.3L665.4 254.6L662.2 255L658.9 255.4L655.6 255.7L654 251.5L652.4 247.2L650.6 243L648.8 238.8L651.9 238.4L655 238L658.2 237.7L661.3 237.3L663.3 241.5L665.2 245.7L667 250Z"/><path fill="#009cff" stroke="#009cff" d="M683.9 359.6L680.3 360L676.7 360.3L673.1 360.7L669.5 361.1L669.8 356.7L670.1 352.3L670.3 347.9L670.4 343.5L674 343.1L677.6 342.7L681.2 342.4L684.8 342L684.7 346.4L684.5 350.8L684.2 355.2ZM682.5 306.6L678.9 307L675.4 307.4L671.8 307.7L668.3 308.1L667.7 303.7L667 299.3L666.2 294.9L665.4 290.5L668.8 290.1L672.3 289.7L675.8 289.4L679.3 289L680.2 293.4L681 297.8L681.8 302.2Z"/><path fill="#0050ff" stroke="#0050ff" d="M391.2 534.3L411.2 535.8L430.5 536.9L444.9 537.2L451 536.7L452.5 536.9L453.9 537L455.4 537.1L456.9 537.2L449.7 537.7L432.4 537.1L411.5 535.9ZM456.9 537.2L455.4 537.1L453.9 537L452.5 536.9L451 536.7L452.2 535.6L451.7 534.1L450.5 532.3L449.1 530.3L450.8 530.4L452.5 530.5L454.2 530.6L455.8 530.8L457 532.8L457.9 534.6L458.3 536.1ZM455.8 530.8L454.2 530.6L452.5 530.5L450.8 530.4L449.1 530.3L447.7 528.1L446.1 525.8L444.6 523.3L443.1 520.8L445.1 520.9L447.1 521.1L449 521.2L451 521.3L452.2 523.9L453.4 526.3L454.6 528.6ZM439.1 199.4L436.4 199.3L433.7 199.1L431 199L428.3 198.8L429.4 194.9L430.5 191.1L431.6 187.2L432.8 183.4L435.3 183.6L437.7 183.7L440.2 183.8L442.6 184L441.7 187.8L440.8 191.6L439.9 195.5ZM316 459.5L312.9 459.2L309.9 458.9L306.8 458.5L303.8 458.2L301.2 454.4L298.7 450.5L296.3 446.7L293.9 442.7L297.2 443.1L300.4 443.4L303.6 443.8L306.8 444.1L308.9 448L311.2 451.9L313.5 455.7ZM322.6 205.1L319.8 204.8L317.1 204.4L314.3 204.1L311.6 203.7L314.5 199.8L317.6 195.9L320.8 192.1L324.1 188.2L326.6 188.6L329.1 188.9L331.7 189.2L334.2 189.6L331.2 193.4L328.2 197.3L325.3 201.2Z"/><path fill="#004dff" stroke="#004dff" d="M438.9 484.3L436.1 484.2L433.4 484L430.7 483.9L427.9 483.7L426.9 480.2L425.9 476.7L424.9 473L424 469.4L427 469.6L429.9 469.7L432.8 469.9L435.8 470L436.5 473.7L437.3 477.3L438.1 480.8Z"/><path fill="#0044ff" stroke="#0044ff" d="M433.1 454.9L430 454.8L426.9 454.6L423.8 454.5L420.6 454.3L419.9 450.4L419.2 446.5L418.5 442.6L417.8 438.6L421 438.8L424.3 438.9L427.6 439.1L430.8 439.2L431.3 443.2L431.9 447.2L432.5 451.1ZM433.3 231.9L430.2 231.8L427.1 231.6L424.1 231.5L421 231.3L421.8 227.1L422.6 223L423.5 218.9L424.4 214.8L427.3 215L430.2 215.1L433.1 215.3L436 215.4L435.2 219.5L434.6 223.6L433.9 227.7Z"/><path fill="#0040ff" stroke="#0040ff" d="M430.8 439.2L427.6 439.1L424.3 438.9L421 438.8L417.8 438.6L417.2 434.6L416.6 430.5L416 426.4L415.4 422.3L418.8 422.5L422.2 422.7L425.6 422.8L428.9 423L429.4 427.1L429.8 431.2L430.3 435.2ZM431 248.8L427.8 248.7L424.5 248.5L421.3 248.3L418.1 248.2L418.8 243.9L419.5 239.7L420.2 235.5L421 231.3L424.1 231.5L427.1 231.6L430.2 231.8L433.3 231.9L432.7 236.1L432.1 240.3L431.5 244.5Z"/><path fill="#003dff" stroke="#003dff" d="M428.9 423L425.6 422.8L422.2 422.7L418.8 422.5L415.4 422.3L414.9 418.2L414.4 414L414 409.8L413.6 405.6L417 405.8L420.5 406L424 406.1L427.4 406.3L427.8 410.5L428.1 414.7L428.5 418.8ZM427.4 406.3L424 406.1L420.5 406L417 405.8L413.6 405.6L413.2 401.4L412.8 397.1L412.5 392.8L412.2 388.5L415.7 388.7L419.3 388.9L422.8 389.1L426.3 389.2L426.6 393.5L426.8 397.8L427.1 402ZM427.6 283.5L424.1 283.3L420.7 283.2L417.2 283L413.8 282.8L414.2 278.5L414.7 274.1L415.2 269.7L415.7 265.4L419.1 265.6L422.4 265.7L425.7 265.9L429.1 266L428.7 270.4L428.3 274.7L427.9 279.1ZM429.1 266L425.7 265.9L422.4 265.7L419.1 265.6L415.7 265.4L416.3 261.1L416.8 256.7L417.5 252.4L418.1 248.2L421.3 248.3L424.5 248.5L427.8 248.7L431 248.8L430.5 253.1L430 257.4L429.5 261.7Z"/><path fill="#0057ff" stroke="#0057ff" d="M442.6 184L440.2 183.8L437.7 183.7L435.3 183.6L432.8 183.4L434 179.7L435.3 176L436.6 172.3L437.9 168.7L440.1 168.9L442.3 169L444.5 169.1L446.7 169.2L445.6 172.8L444.6 176.5L443.6 180.2Z"/><path fill="#005fff" stroke="#005fff" d="M446.7 169.2L444.5 169.1L442.3 169L440.1 168.9L437.9 168.7L439.3 165.2L440.7 161.7L442.2 158.2L443.7 154.9L445.6 155L447.5 155.1L449.4 155.2L451.3 155.3L450.1 158.7L448.9 162.2L447.8 165.7Z"/><path fill="#0069ff" stroke="#0069ff" d="M451.3 155.3L449.4 155.2L447.5 155.1L445.6 155L443.7 154.9L445.3 151.5L446.9 148.3L448.6 145.1L450.4 141.9L451.9 142L453.5 142.1L455 142.2L456.5 142.3L455.1 145.5L453.8 148.7L452.5 152Z"/><path fill="#0074ff" stroke="#0074ff" d="M456.5 142.3L455 142.2L453.5 142.1L451.9 142L450.4 141.9L452.2 138.9L454.1 135.9L456.1 133L458.1 130.1L459.3 130.2L460.4 130.3L461.5 130.4L462.7 130.5L461 133.3L459.5 136.2L458 139.2ZM352.7 501.2L350.3 500.9L347.9 500.6L345.5 500.3L343.1 500.1L339.2 496.9L335.4 493.7L331.8 490.4L328.2 487L330.9 487.3L333.6 487.6L336.2 487.9L338.9 488.2L342.2 491.5L345.6 494.8L349.1 498ZM362.5 160.6L360.5 160.3L358.6 160L356.6 159.7L354.6 159.4L359 156L363.5 152.7L368.2 149.5L373 146.3L374.7 146.6L376.3 146.8L378 147.1L379.6 147.4L375.1 150.6L370.8 153.8L366.6 157.2Z"/><path fill="#0083ff" stroke="#0083ff" d="M391.2 534.3L410.6 535.7L428.1 536.6L440.1 536.7L445.2 536.2L446.6 536.3L448.1 536.5L449.5 536.6L451 536.7L444.9 537.2L430.5 536.9L411.2 535.8ZM451 536.7L449.5 536.6L448.1 536.5L446.6 536.3L445.2 536.2L446.1 535L445.4 533.5L444 531.7L442.3 529.7L444.1 529.8L445.8 530L447.5 530.1L449.1 530.3L450.5 532.3L451.7 534.1L452.2 535.6ZM415.4 422.3L412.1 422.1L408.7 421.9L405.3 421.7L401.9 421.5L401.3 417.4L400.7 413.2L400.2 409L399.7 404.8L403.2 405L406.6 405.2L410.1 405.4L413.6 405.6L414 409.8L414.4 414L414.9 418.2ZM413.6 405.6L410.1 405.4L406.6 405.2L403.2 405L399.7 404.8L399.2 400.6L398.8 396.3L398.4 392L398 387.7L401.6 387.9L405.1 388.2L408.7 388.4L412.2 388.5L412.5 392.8L412.8 397.1L413.2 401.4ZM412.2 388.5L408.7 388.4L405.1 388.2L401.6 387.9L398 387.7L397.7 383.4L397.4 379.1L397.2 374.7L396.9 370.4L400.5 370.6L404.1 370.8L407.7 371L411.3 371.2L411.5 375.5L411.7 379.9L411.9 384.2ZM411.3 371.2L407.7 371L404.1 370.8L400.5 370.6L396.9 370.4L396.8 366L396.6 361.6L396.5 357.2L396.4 352.8L400 353L403.6 353.2L407.2 353.4L410.9 353.6L410.9 358L411 362.4L411.1 366.8ZM410.9 353.6L407.2 353.4L403.6 353.2L400 353L396.4 352.8L396.4 348.4L396.4 344L396.4 339.5L396.5 335.1L400.1 335.3L403.7 335.5L407.3 335.7L410.9 335.9L410.8 340.4L410.8 344.8L410.8 349.2ZM410.9 335.9L407.3 335.7L403.7 335.5L400.1 335.3L396.5 335.1L396.6 330.7L396.7 326.3L396.9 321.8L397.1 317.4L400.7 317.6L404.2 317.8L407.8 318L411.4 318.2L411.2 322.6L411.1 327.1L411 331.5ZM411.4 318.2L407.8 318L404.2 317.8L400.7 317.6L397.1 317.4L397.3 312.9L397.6 308.5L397.9 304.1L398.3 299.7L401.8 299.9L405.3 300.1L408.8 300.3L412.4 300.5L412.1 304.9L411.8 309.3L411.6 313.8ZM412.4 300.5L408.8 300.3L405.3 300.1L401.8 299.9L398.3 299.7L398.7 295.2L399.1 290.8L399.5 286.4L400 282L403.5 282.3L406.9 282.5L410.3 282.7L413.8 282.8L413.4 287.2L413 291.6L412.7 296.1ZM413.8 282.8L410.3 282.7L406.9 282.5L403.5 282.3L400 282L400.6 277.7L401.1 273.3L401.7 268.9L402.4 264.6L405.7 264.8L409 265L412.4 265.2L415.7 265.4L415.2 269.7L414.7 274.1L414.2 278.5ZM415.7 265.4L412.4 265.2L409 265L405.7 264.8L402.4 264.6L403 260.3L403.7 256L404.5 251.7L405.3 247.4L408.5 247.6L411.7 247.8L414.9 248L418.1 248.2L417.5 252.4L416.8 256.7L416.3 261.1ZM368.2 513L366.1 512.7L364 512.5L361.8 512.2L359.7 512L355.4 509.1L351.1 506.2L347 503.2L343.1 500.1L345.5 500.3L347.9 500.6L350.3 500.9L352.7 501.2L356.5 504.2L360.3 507.2L364.2 510.2ZM379.6 147.4L378 147.1L376.3 146.8L374.7 146.6L373 146.3L378 143.2L383.2 140.2L388.5 137.2L394 134.3L395.3 134.6L396.6 134.8L397.9 135.1L399.1 135.3L394 138.2L389 141.2L384.3 144.2Z"/><path fill="#008aff" stroke="#008aff" d="M449.1 530.3L447.5 530.1L445.8 530L444.1 529.8L442.3 529.7L440.6 527.5L438.8 525.2L436.9 522.7L435.2 520.2L437.2 520.3L439.2 520.5L441.1 520.6L443.1 520.8L444.6 523.3L446.1 525.8L447.7 528.1ZM424 469.4L421.1 469.2L418.1 469L415.2 468.8L412.2 468.6L411.1 464.9L410.1 461.2L409.1 457.4L408.2 453.5L411.3 453.7L414.4 453.9L417.5 454.1L420.6 454.3L421.4 458.1L422.3 461.9L423.1 465.7ZM424.4 214.8L421.5 214.7L418.6 214.5L415.7 214.3L412.9 214.1L414 210.1L415.2 206.1L416.4 202.1L417.6 198.2L420.3 198.3L423 198.5L425.6 198.7L428.3 198.8L427.3 202.8L426.3 206.8L425.3 210.8Z"/><path fill="#0090ff" stroke="#0090ff" d="M432.4 497.2L429.9 497L427.3 496.9L424.8 496.7L422.3 496.5L420.9 493.2L419.5 489.9L418.2 486.5L416.9 483L419.7 483.2L422.4 483.4L425.2 483.6L427.9 483.7L429 487.2L430.1 490.6L431.2 493.9Z"/><path fill="#008dff" stroke="#008dff" d="M427.9 483.7L425.2 483.6L422.4 483.4L419.7 483.2L416.9 483L415.7 479.5L414.5 475.9L413.3 472.3L412.2 468.6L415.2 468.8L418.1 469L421.1 469.2L424 469.4L424.9 473L425.9 476.7L426.9 480.2Z"/><path fill="#0084ff" stroke="#0084ff" d="M417.8 438.6L414.5 438.4L411.3 438.2L408 438L404.7 437.8L404 433.8L403.3 429.7L402.6 425.6L401.9 421.5L405.3 421.7L408.7 421.9L412.1 422.1L415.4 422.3L416 426.4L416.6 430.5L417.2 434.6ZM418.1 248.2L414.9 248L411.7 247.8L408.5 247.6L405.3 247.4L406.1 243.2L406.9 238.9L407.8 234.7L408.8 230.6L411.8 230.8L414.9 230.9L417.9 231.1L421 231.3L420.2 235.5L419.5 239.7L418.8 243.9Z"/><path fill="#008fff" stroke="#008fff" d="M428.3 198.8L425.6 198.7L423 198.5L420.3 198.3L417.6 198.2L418.9 194.3L420.2 190.4L421.6 186.6L423.1 182.8L425.5 183L427.9 183.1L430.4 183.3L432.8 183.4L431.6 187.2L430.5 191.1L429.4 194.9Z"/><path fill="#009eff" stroke="#009eff" d="M437.9 168.7L435.7 168.6L433.6 168.5L431.4 168.3L429.2 168.2L430.9 164.6L432.6 161.1L434.4 157.7L436.3 154.3L438.1 154.5L440 154.6L441.9 154.7L443.7 154.9L442.2 158.2L440.7 161.7L439.3 165.2Z"/><path fill="#00aeff" stroke="#00aeff" d="M443.7 154.9L441.9 154.7L440 154.6L438.1 154.5L436.3 154.3L438.2 151L440.1 147.8L442.2 144.6L444.3 141.5L445.8 141.6L447.3 141.7L448.8 141.8L450.4 141.9L448.6 145.1L446.9 148.3L445.3 151.5Z"/><path fill="#00bdff" stroke="#00bdff" d="M450.4 141.9L448.8 141.8L447.3 141.7L445.8 141.6L444.3 141.5L446.5 138.4L448.8 135.4L451.2 132.6L453.6 129.8L454.8 129.9L455.9 130L457 130.1L458.1 130.1L456.1 133L454.1 135.9L452.2 138.9Z"/><path fill="#00d6ff" stroke="#00d6ff" d="M442.3 529.7L440.6 529.5L438.9 529.3L437.2 529.2L435.4 529L433.4 526.8L431.3 524.5L429.2 522L427.1 519.5L429.1 519.6L431.1 519.8L433.1 520L435.2 520.2L436.9 522.7L438.8 525.2L440.6 527.5Z"/><path fill="#00dfff" stroke="#00dfff" d="M428.4 509L426.1 508.8L423.8 508.6L421.5 508.4L419.2 508.2L417.3 505.2L415.5 502.1L413.8 498.9L412.1 495.7L414.7 495.9L417.2 496.1L419.7 496.3L422.3 496.5L423.7 499.7L425.2 502.9L426.8 506Z"/><path fill="#00e3ff" stroke="#00e3ff" d="M422.3 496.5L419.7 496.3L417.2 496.1L414.7 495.9L412.1 495.7L410.5 492.4L408.9 489.1L407.3 485.7L405.8 482.2L408.6 482.4L411.4 482.6L414.2 482.8L416.9 483L418.2 486.5L419.5 489.9L420.9 493.2Z"/><path fill="#00e7ff" stroke="#00e7ff" d="M408.2 453.5L405 453.3L401.9 453.1L398.8 452.9L395.6 452.6L394.6 448.8L393.6 444.8L392.6 440.9L391.7 436.9L394.9 437.1L398.2 437.4L401.5 437.6L404.7 437.8L405.5 441.8L406.4 445.7L407.3 449.7ZM404.7 437.8L401.5 437.6L398.2 437.4L394.9 437.1L391.7 436.9L390.8 432.9L389.9 428.8L389.1 424.7L388.4 420.6L391.8 420.8L395.1 421.1L398.5 421.3L401.9 421.5L402.6 425.6L403.3 429.7L404 433.8ZM401.9 421.5L398.5 421.3L395.1 421.1L391.8 420.8L388.4 420.6L387.7 416.4L387 412.3L386.4 408.1L385.8 403.9L389.2 404.1L392.7 404.3L396.2 404.6L399.7 404.8L400.2 409L400.7 413.2L401.3 417.4ZM399.7 404.8L396.2 404.6L392.7 404.3L389.2 404.1L385.8 403.9L385.2 399.6L384.7 395.4L384.3 391.1L383.8 386.8L387.4 387L390.9 387.3L394.5 387.5L398 387.7L398.4 392L398.8 396.3L399.2 400.6ZM400 282L396.6 281.8L393.2 281.6L389.7 281.4L386.3 281.1L386.9 276.7L387.6 272.4L388.3 268L389 263.7L392.4 263.9L395.7 264.2L399 264.4L402.4 264.6L401.7 268.9L401.1 273.3L400.6 277.7ZM402.4 264.6L399 264.4L395.7 264.2L392.4 263.9L389 263.7L389.8 259.4L390.6 255.1L391.5 250.8L392.4 246.5L395.6 246.8L398.8 247L402 247.2L405.3 247.4L404.5 251.7L403.7 256L403 260.3Z"/><path fill="#00ebff" stroke="#00ebff" d="M396.9 370.4L393.4 370.1L389.8 369.9L386.2 369.7L382.6 369.4L382.4 365L382.2 360.7L382.1 356.3L382 351.8L385.6 352.1L389.2 352.3L392.8 352.6L396.4 352.8L396.5 357.2L396.6 361.6L396.8 366ZM397.1 317.4L393.5 317.2L390 316.9L386.4 316.7L382.8 316.4L383.1 312L383.4 307.6L383.8 303.1L384.2 298.7L387.7 299L391.2 299.2L394.8 299.4L398.3 299.7L397.9 304.1L397.6 308.5L397.3 312.9Z"/><path fill="#00ecff" stroke="#00ecff" d="M408.8 230.6L405.7 230.4L402.6 230.1L399.6 229.9L396.6 229.7L397.7 225.6L398.9 221.4L400.1 217.3L401.4 213.3L404.2 213.5L407.1 213.7L410 213.9L412.9 214.1L411.8 218.2L410.7 222.3L409.7 226.4Z"/><path fill="#00f0ff" stroke="#00f0ff" d="M412.9 214.1L410 213.9L407.1 213.7L404.2 213.5L401.4 213.3L402.7 209.3L404.1 205.3L405.5 201.3L407 197.4L409.6 197.6L412.3 197.8L414.9 198L417.6 198.2L416.4 202.1L415.2 206.1L414 210.1Z"/><path fill="#00fffa" stroke="#00fffa" d="M417.6 198.2L414.9 198L412.3 197.8L409.6 197.6L407 197.4L408.5 193.5L410.1 189.6L411.7 185.8L413.3 182.1L415.8 182.3L418.2 182.5L420.6 182.6L423.1 182.8L421.6 186.6L420.2 190.4L418.9 194.3Z"/><path fill="#00ffd2" stroke="#00ffd2" d="M429.2 168.2L427.1 168L424.9 167.8L422.8 167.7L420.6 167.5L422.6 163.9L424.6 160.5L426.7 157.1L428.8 153.7L430.7 153.9L432.5 154L434.4 154.2L436.3 154.3L434.4 157.7L432.6 161.1L430.9 164.6Z"/><path fill="#00ffbf" stroke="#00ffbf" d="M436.3 154.3L434.4 154.2L432.5 154L430.7 153.9L428.8 153.7L431.1 150.4L433.4 147.2L435.8 144L438.3 140.9L439.8 141.1L441.3 141.2L442.8 141.3L444.3 141.5L442.2 144.6L440.1 147.8L438.2 151Z"/><path fill="#00ffb0" stroke="#00ffb0" d="M444.3 141.5L442.8 141.3L441.3 141.2L439.8 141.1L438.3 140.9L440.9 137.9L443.5 134.9L446.3 132.1L449.2 129.3L450.3 129.4L451.4 129.6L452.5 129.7L453.6 129.8L451.2 132.6L448.8 135.4L446.5 138.4Z"/><path fill="#00ff4a" stroke="#00ff4a" d="M391.2 534.3L408.6 535.4L422.5 535.9L430.6 535.7L433.7 535L435.1 535.1L436.5 535.3L438 535.4L439.4 535.6L435.4 536.3L425.4 536.2L409.7 535.5ZM435.4 529L433.7 528.8L431.9 528.6L430.2 528.4L428.4 528.3L426.1 526.1L423.7 523.7L421.3 521.2L418.9 518.7L421 518.9L423 519.1L425 519.3L427.1 519.5L429.2 522L431.3 524.5L433.4 526.8ZM438.3 140.9L436.8 140.8L435.3 140.6L433.8 140.5L432.3 140.3L435.3 137.3L438.4 134.4L441.6 131.6L444.9 128.8L446 128.9L447.1 129.1L448.2 129.2L449.2 129.3L446.3 132.1L443.5 134.9L440.9 137.9ZM449.2 129.3L448.2 129.2L447.1 129.1L446 128.9L444.9 128.8L448.4 126.2L452.1 123.6L456 121.2L460.2 118.9L460.8 119L461.3 119.1L461.9 119.2L462.5 119.3L458.9 121.6L455.5 124.1L452.3 126.6ZM391.2 534.3L407.4 535.2L419.4 535.5L425.9 535.2L428 534.3L429.4 534.5L430.9 534.7L432.3 534.8L433.7 535L430.6 535.7L422.5 535.9L408.6 535.4ZM460.2 118.9L459.6 118.9L459 118.8L458.5 118.7L457.9 118.6L462.9 116.5L468.2 114.6L474.1 113L480.5 111.7L474.6 113.1L469.4 114.9L464.6 116.8Z"/><path fill="#00ff2d" stroke="#00ff2d" d="M439.4 535.6L438 535.4L436.5 535.3L435.1 535.1L433.7 535L433.8 533.7L432.5 532.1L430.6 530.3L428.4 528.3L430.2 528.4L431.9 528.6L433.7 528.8L435.4 529L437.4 531L439 532.8L440 534.4ZM345.1 448.1L341.9 447.8L338.7 447.5L335.5 447.2L332.3 446.8L330.6 442.9L328.8 438.9L327.2 434.9L325.6 430.9L329 431.2L332.3 431.6L335.6 431.9L338.9 432.2L340.4 436.3L341.9 440.3L343.4 444.2ZM348.2 225.3L345.2 225L342.2 224.6L339.2 224.3L336.3 224L338.3 219.9L340.4 215.8L342.5 211.8L344.8 207.8L347.6 208.1L350.4 208.4L353.2 208.7L356 209L353.9 213L352 217.1L350 221.2Z"/><path fill="#00ff76" stroke="#00ff76" d="M427.1 519.5L425 519.3L423 519.1L421 518.9L418.9 518.7L416.6 516L414.3 513.2L412.1 510.3L409.9 507.4L412.2 507.6L414.6 507.8L416.9 508L419.2 508.2L421.1 511.2L423 514L425 516.8Z"/><path fill="#00ff98" stroke="#00ff98" d="M419.2 508.2L416.9 508L414.6 507.8L412.2 507.6L409.9 507.4L407.8 504.3L405.8 501.2L403.8 498.1L401.8 494.8L404.4 495.1L407 495.3L409.5 495.5L412.1 495.7L413.8 498.9L415.5 502.1L417.3 505.2Z"/><path fill="#00ffb2" stroke="#00ffb2" d="M412.1 495.7L409.5 495.5L407 495.3L404.4 495.1L401.8 494.8L400 491.5L398.2 488.2L396.4 484.7L394.7 481.3L397.5 481.5L400.3 481.7L403.1 482L405.8 482.2L407.3 485.7L408.9 489.1L410.5 492.4Z"/><path fill="#00ffc3" stroke="#00ffc3" d="M405.8 482.2L403.1 482L400.3 481.7L397.5 481.5L394.7 481.3L393.1 477.7L391.5 474.1L389.9 470.5L388.5 466.8L391.4 467.1L394.4 467.3L397.4 467.6L400.4 467.8L401.7 471.5L403 475.1L404.4 478.7Z"/><path fill="#00ffd4" stroke="#00ffd4" d="M400.4 467.8L397.4 467.6L394.4 467.3L391.4 467.1L388.5 466.8L387 463.1L385.7 459.3L384.3 455.5L383.1 451.7L386.2 451.9L389.4 452.2L392.5 452.4L395.6 452.6L396.8 456.5L397.9 460.3L399.1 464.1ZM401.4 213.3L398.5 213.1L395.7 212.8L392.8 212.6L390 212.4L391.5 208.3L393.1 204.4L394.7 200.4L396.4 196.5L399 196.7L401.7 197L404.3 197.2L407 197.4L405.5 201.3L404.1 205.3L402.7 209.3Z"/><path fill="#00ffe5" stroke="#00ffe5" d="M395.6 452.6L392.5 452.4L389.4 452.2L386.2 451.9L383.1 451.7L381.9 447.8L380.7 443.8L379.6 439.9L378.5 435.9L381.8 436.1L385.1 436.4L388.4 436.6L391.7 436.9L392.6 440.9L393.6 444.8L394.6 448.8ZM396.6 229.7L393.5 229.5L390.5 229.2L387.4 229L384.4 228.7L385.7 224.6L387.1 220.5L388.5 216.4L390 212.4L392.8 212.6L395.7 212.8L398.5 213.1L401.4 213.3L400.1 217.3L398.9 221.4L397.7 225.6Z"/><path fill="#00fff7" stroke="#00fff7" d="M391.7 436.9L388.4 436.6L385.1 436.4L381.8 436.1L378.5 435.9L377.5 431.8L376.6 427.8L375.6 423.7L374.8 419.6L378.2 419.8L381.6 420.1L385 420.3L388.4 420.6L389.1 424.7L389.9 428.8L390.8 432.9ZM392.4 246.5L389.2 246.3L386 246.1L382.8 245.8L379.7 245.5L380.8 241.3L381.9 237.1L383.1 232.9L384.4 228.7L387.4 229L390.5 229.2L393.5 229.5L396.6 229.7L395.5 233.9L394.4 238.1L393.4 242.3Z"/><path fill="#00fffd" stroke="#00fffd" d="M388.4 420.6L385 420.3L381.6 420.1L378.2 419.8L374.8 419.6L374 415.4L373.2 411.2L372.5 407L371.8 402.8L375.3 403.1L378.8 403.3L382.3 403.6L385.8 403.9L386.4 408.1L387 412.3L387.7 416.4ZM382 351.8L378.4 351.6L374.8 351.3L371.2 351.1L367.6 350.8L367.5 346.4L367.5 341.9L367.6 337.5L367.7 333.1L371.3 333.4L374.9 333.6L378.5 333.9L382.1 334.2L382 338.6L382 343L382 347.4ZM382.1 334.2L378.5 333.9L374.9 333.6L371.3 333.4L367.7 333.1L367.8 328.7L368 324.2L368.3 319.8L368.6 315.4L372.1 315.6L375.7 315.9L379.3 316.2L382.8 316.4L382.6 320.9L382.4 325.3L382.2 329.7ZM389 263.7L385.7 263.5L382.4 263.2L379 262.9L375.7 262.7L376.6 258.4L377.6 254.1L378.6 249.8L379.7 245.5L382.8 245.8L386 246.1L389.2 246.3L392.4 246.5L391.5 250.8L390.6 255.1L389.8 259.4Z"/><path fill="#00fff5" stroke="#00fff5" d="M383.8 386.8L380.3 386.5L376.7 386.3L373.2 386L369.6 385.7L369.2 381.4L368.8 377.1L368.5 372.7L368.2 368.3L371.8 368.6L375.4 368.9L379 369.2L382.6 369.4L382.8 373.8L383.1 378.1L383.5 382.5ZM384.2 298.7L380.7 298.5L377.2 298.2L373.7 297.9L370.2 297.7L370.7 293.3L371.3 288.9L371.9 284.5L372.6 280.1L376 280.4L379.4 280.6L382.9 280.9L386.3 281.1L385.7 285.5L385.2 289.9L384.7 294.3Z"/><path fill="#00ffba" stroke="#00ffba" d="M407 197.4L404.3 197.2L401.7 197L399 196.7L396.4 196.5L398.1 192.6L399.9 188.8L401.8 185L403.7 181.2L406.1 181.5L408.5 181.7L410.9 181.9L413.3 182.1L411.7 185.8L410.1 189.6L408.5 193.5Z"/><path fill="#00ffa0" stroke="#00ffa0" d="M413.3 182.1L410.9 181.9L408.5 181.7L406.1 181.5L403.7 181.2L405.7 177.5L407.7 173.9L409.9 170.3L412 166.7L414.2 166.9L416.3 167.1L418.5 167.3L420.6 167.5L418.7 171.1L416.9 174.7L415.1 178.4Z"/><path fill="#00ff82" stroke="#00ff82" d="M420.6 167.5L418.5 167.3L416.3 167.1L414.2 166.9L412 166.7L414.3 163.2L416.6 159.7L419 156.3L421.5 153L423.3 153.2L425.2 153.4L427 153.5L428.8 153.7L426.7 157.1L424.6 160.5L422.6 163.9ZM310.7 363.1L307.1 362.7L303.5 362.3L299.9 362L296.3 361.6L296 357.2L295.7 352.8L295.6 348.4L295.5 344L299.1 344.4L302.7 344.8L306.3 345.1L309.9 345.5L310 349.9L310.2 354.3L310.4 358.7ZM311.6 310.1L308.1 309.7L304.5 309.4L301 309L297.4 308.6L298 304.2L298.7 299.8L299.5 295.4L300.3 291L303.8 291.4L307.2 291.7L310.7 292.1L314.2 292.5L313.5 296.9L312.8 301.3L312.2 305.7Z"/><path fill="#00ff60" stroke="#00ff60" d="M428.8 153.7L427 153.5L425.2 153.4L423.3 153.2L421.5 153L424.1 149.7L426.7 146.5L429.5 143.4L432.3 140.3L433.8 140.5L435.3 140.6L436.8 140.8L438.3 140.9L435.8 144L433.4 147.2L431.1 150.4Z"/><path fill="#00ff84" stroke="#00ff84" d="M462.5 119.3L461.9 119.2L461.3 119.1L460.8 119L460.2 118.9L464.6 116.8L469.4 114.9L474.6 113.1L480.5 111.7L475.3 113.2L470.6 115.1L466.4 117.1ZM343.9 400.4L340.4 400.1L336.9 399.7L333.4 399.4L329.9 399L329 394.8L328.3 390.5L327.6 386.2L327 381.9L330.5 382.3L334.1 382.6L337.6 382.9L341.2 383.3L341.8 387.6L342.4 391.9L343.1 396.1ZM345.2 277.7L341.8 277.4L338.4 277L335 276.7L331.6 276.4L332.6 272L333.7 267.7L334.8 263.3L336 259L339.3 259.4L342.6 259.7L345.9 260L349.2 260.3L348.1 264.6L347.1 269L346.1 273.3Z"/><path fill="#0dff00" stroke="#0dff00" d="M428.4 528.3L426.6 528.1L424.9 527.9L423.1 527.7L421.3 527.5L418.6 525.3L416 522.9L413.3 520.4L410.6 517.8L412.7 518L414.8 518.2L416.8 518.5L418.9 518.7L421.3 521.2L423.7 523.7L426.1 526.1ZM432.3 140.3L430.9 140.1L429.4 140L428 139.8L426.5 139.6L429.9 136.6L433.3 133.7L437 130.9L440.7 128.2L441.8 128.4L442.8 128.5L443.9 128.7L444.9 128.8L441.6 131.6L438.4 134.4L435.3 137.3ZM410.6 517.8L408.5 517.6L406.5 517.4L404.4 517.1L402.3 516.9L399.4 514.2L396.6 511.4L393.8 508.5L391.1 505.5L393.5 505.7L395.8 506L398.2 506.2L400.6 506.5L403 509.4L405.5 512.3L408 515.1ZM414.3 152.2L412.5 152L410.7 151.8L408.9 151.6L407.1 151.4L410.4 148.1L413.7 145L417.2 141.9L420.8 138.8L422.2 139L423.6 139.2L425.1 139.4L426.5 139.6L423.3 142.6L420.2 145.8L417.2 149ZM370.6 521.6L368.8 521.4L367 521.2L365.3 521L363.5 520.8L358.1 518.3L352.8 515.6L347.6 512.9L342.6 510.1L344.7 510.3L346.9 510.5L349 510.8L351.1 511L355.8 513.8L360.7 516.5L365.6 519.1ZM389.1 133.4L387.8 133.1L386.6 132.9L385.4 132.6L384.2 132.4L390.8 129.6L397.7 127L404.8 124.5L412.2 122.2L412.9 122.4L413.7 122.6L414.5 122.8L415.2 123L408.3 125.4L401.6 128L395.2 130.6Z"/><path fill="#00ff0e" stroke="#00ff0e" d="M409.9 507.4L407.6 507.2L405.2 506.9L402.9 506.7L400.6 506.5L398.2 503.4L395.9 500.3L393.7 497.1L391.5 493.9L394.1 494.1L396.7 494.3L399.3 494.6L401.8 494.8L403.8 498.1L405.8 501.2L407.8 504.3ZM412 166.7L409.9 166.5L407.8 166.3L405.7 166.1L403.6 165.8L406.1 162.3L408.8 158.9L411.5 155.5L414.3 152.2L416.1 152.4L417.9 152.6L419.7 152.8L421.5 153L419 156.3L416.6 159.7L414.3 163.2Z"/><path fill="#00ff20" stroke="#00ff20" d="M401.8 494.8L399.3 494.6L396.7 494.3L394.1 494.1L391.5 493.9L389.4 490.5L387.4 487.2L385.4 483.7L383.5 480.2L386.3 480.5L389.1 480.8L391.9 481L394.7 481.3L396.4 484.7L398.2 488.2L400 491.5ZM403.7 181.2L401.3 181L398.9 180.8L396.5 180.6L394.1 180.3L396.4 176.6L398.7 173L401.1 169.4L403.6 165.8L405.7 166.1L407.8 166.3L409.9 166.5L412 166.7L409.9 170.3L407.7 173.9L405.7 177.5ZM252.2 339.4L248.6 339L245 338.6L241.4 338.3L237.8 337.9L237.8 333.5L238 329L238.2 324.6L238.5 320.2L242.1 320.6L245.7 320.9L249.2 321.3L252.8 321.7L252.5 326.1L252.3 330.6L252.2 335ZM252.8 321.7L249.2 321.3L245.7 320.9L242.1 320.6L238.5 320.2L238.9 315.8L239.4 311.3L240.1 306.9L240.8 302.5L244.3 302.9L247.9 303.3L251.4 303.6L254.9 304L254.3 308.4L253.7 312.9L253.2 317.3Z"/><path fill="#00ff39" stroke="#00ff39" d="M394.7 481.3L391.9 481L389.1 480.8L386.3 480.5L383.5 480.2L381.7 476.7L379.9 473.1L378.2 469.4L376.5 465.8L379.5 466L382.5 466.3L385.5 466.6L388.5 466.8L389.9 470.5L391.5 474.1L393.1 477.7ZM396.4 196.5L393.7 196.3L391.1 196L388.5 195.8L385.8 195.5L387.8 191.7L389.9 187.8L392 184.1L394.1 180.3L396.5 180.6L398.9 180.8L401.3 181L403.7 181.2L401.8 185L399.9 188.8L398.1 192.6Z"/><path fill="#00ff52" stroke="#00ff52" d="M388.5 466.8L385.5 466.6L382.5 466.3L379.5 466L376.5 465.8L374.9 462L373.4 458.2L371.9 454.4L370.5 450.6L373.6 450.8L376.8 451.1L379.9 451.4L383.1 451.7L384.3 455.5L385.7 459.3L387 463.1ZM390 212.4L387.1 212.1L384.3 211.9L381.4 211.6L378.6 211.3L380.3 207.3L382.1 203.4L383.9 199.4L385.8 195.5L388.5 195.8L391.1 196L393.7 196.3L396.4 196.5L394.7 200.4L393.1 204.4L391.5 208.3Z"/><path fill="#00ff55" stroke="#00ff55" d="M383.1 451.7L379.9 451.4L376.8 451.1L373.6 450.8L370.5 450.6L369.1 446.7L367.8 442.7L366.6 438.7L365.4 434.7L368.7 435L372 435.3L375.2 435.6L378.5 435.9L379.6 439.9L380.7 443.8L381.9 447.8ZM384.4 228.7L381.4 228.5L378.3 228.2L375.3 227.9L372.3 227.7L373.8 223.5L375.3 219.4L376.9 215.4L378.6 211.3L381.4 211.6L384.3 211.9L387.1 212.1L390 212.4L388.5 216.4L387.1 220.5L385.7 224.6Z"/><path fill="#00ff57" stroke="#00ff57" d="M378.5 435.9L375.2 435.6L372 435.3L368.7 435L365.4 434.7L364.2 430.7L363.2 426.6L362.1 422.5L361.2 418.4L364.6 418.7L368 419L371.4 419.3L374.8 419.6L375.6 423.7L376.6 427.8L377.5 431.8ZM379.7 245.5L376.5 245.3L373.3 245L370.1 244.7L366.9 244.4L368.2 240.2L369.5 236L370.9 231.8L372.3 227.7L375.3 227.9L378.3 228.2L381.4 228.5L384.4 228.7L383.1 232.9L381.9 237.1L380.8 241.3ZM333.9 415.9L330.4 415.5L327 415.2L323.6 414.8L320.2 414.5L319 410.3L317.9 406.1L316.8 401.9L315.8 397.7L319.4 398L322.9 398.4L326.4 398.7L329.9 399L330.8 403.3L331.7 407.5L332.8 411.7ZM336 259L332.7 258.7L329.4 258.3L326.2 258L322.9 257.6L324.3 253.4L325.8 249.1L327.3 244.9L329 240.6L332.1 241L335.3 241.3L338.4 241.6L341.6 242L340.1 246.2L338.7 250.5L337.3 254.7Z"/><path fill="#00ff51" stroke="#00ff51" d="M374.8 419.6L371.4 419.3L368 419L364.6 418.7L361.2 418.4L360.3 414.3L359.4 410.1L358.6 405.9L357.9 401.6L361.4 401.9L364.8 402.2L368.3 402.5L371.8 402.8L372.5 407L373.2 411.2L374 415.4ZM375.7 262.7L372.4 262.4L369.1 262.1L365.8 261.8L362.5 261.6L363.5 257.2L364.6 253L365.7 248.7L366.9 244.4L370.1 244.7L373.3 245L376.5 245.3L379.7 245.5L378.6 249.8L377.6 254.1L376.6 258.4Z"/><path fill="#00ff42" stroke="#00ff42" d="M371.8 402.8L368.3 402.5L364.8 402.2L361.4 401.9L357.9 401.6L357.2 397.4L356.5 393.1L356 388.8L355.4 384.5L359 384.8L362.5 385.1L366.1 385.4L369.6 385.7L370.1 390L370.6 394.3L371.2 398.6ZM372.6 280.1L369.1 279.8L365.7 279.5L362.3 279.2L358.9 278.9L359.7 274.6L360.6 270.2L361.5 265.9L362.5 261.6L365.8 261.8L369.1 262.1L372.4 262.4L375.7 262.7L374.9 267L374 271.4L373.3 275.7Z"/><path fill="#00ff32" stroke="#00ff32" d="M369.6 385.7L366.1 385.4L362.5 385.1L359 384.8L355.4 384.5L355 380.2L354.5 375.9L354.2 371.5L353.9 367.2L357.5 367.5L361.1 367.8L364.6 368L368.2 368.3L368.5 372.7L368.8 377.1L369.2 381.4ZM370.2 297.7L366.7 297.4L363.2 297.1L359.7 296.8L356.2 296.5L356.8 292.1L357.4 287.7L358.1 283.3L358.9 278.9L362.3 279.2L365.7 279.5L369.1 279.8L372.6 280.1L371.9 284.5L371.3 288.9L370.7 293.3Z"/><path fill="#00ff36" stroke="#00ff36" d="M368.2 368.3L364.6 368L361.1 367.8L357.5 367.5L353.9 367.2L353.6 362.8L353.4 358.4L353.3 354L353.2 349.6L356.8 349.9L360.4 350.2L364 350.5L367.6 350.8L367.7 355.2L367.8 359.6L368 364ZM368.6 315.4L365 315.1L361.4 314.8L357.9 314.5L354.3 314.2L354.7 309.8L355.1 305.3L355.6 300.9L356.2 296.5L359.7 296.8L363.2 297.1L366.7 297.4L370.2 297.7L369.7 302.1L369.3 306.5L368.9 310.9Z"/><path fill="#00ff3a" stroke="#00ff3a" d="M367.6 350.8L364 350.5L360.4 350.2L356.8 349.9L353.2 349.6L353.1 345.2L353.1 340.8L353.2 336.3L353.3 331.9L356.9 332.2L360.5 332.5L364.1 332.8L367.7 333.1L367.6 337.5L367.5 341.9L367.5 346.4ZM367.7 333.1L364.1 332.8L360.5 332.5L356.9 332.2L353.3 331.9L353.5 327.5L353.7 323L354 318.6L354.3 314.2L357.9 314.5L361.4 314.8L365 315.1L368.6 315.4L368.3 319.8L368 324.2L367.8 328.7Z"/><path fill="#1bff00" stroke="#1bff00" d="M428 534.3L426.6 534.2L425.2 534L423.8 533.9L422.4 533.7L421.5 532.3L419.5 530.7L416.9 528.8L414.1 526.7L415.9 526.9L417.7 527.1L419.5 527.3L421.3 527.5L423.8 529.5L426 531.4L427.7 533ZM440.7 128.2L439.7 128.1L438.7 127.9L437.7 127.8L436.7 127.6L441.1 125.1L445.7 122.6L450.6 120.3L455.8 118.1L456.3 118.3L456.8 118.4L457.4 118.5L457.9 118.6L453.2 120.8L448.9 123.2L444.7 125.6ZM328.1 460.9L325.1 460.5L322 460.2L319 459.9L316 459.5L313.5 455.7L311.2 451.9L308.9 448L306.8 444.1L310 444.5L313.2 444.8L316.4 445.1L319.6 445.5L321.6 449.4L323.7 453.2L325.9 457.1ZM333.7 206.5L330.9 206.1L328.1 205.8L325.4 205.4L322.6 205.1L325.3 201.2L328.2 197.3L331.2 193.4L334.2 189.6L336.8 189.9L339.3 190.2L341.9 190.5L344.4 190.9L341.6 194.7L338.9 198.6L336.2 202.5ZM351.1 511L349 510.8L346.9 510.5L344.7 510.3L342.6 510.1L337.7 507.1L332.9 504.1L328.3 501.1L323.7 497.9L326.1 498.2L328.6 498.4L331 498.7L333.4 499L337.6 502.1L342 505.2L346.5 508.1ZM366.5 145.2L364.9 144.9L363.3 144.6L361.7 144.4L360.1 144.1L365.8 141L371.7 138.1L377.8 135.2L384.2 132.4L385.4 132.6L386.6 132.9L387.8 133.1L389.1 133.4L383.1 136.2L377.4 139.1L371.9 142.1Z"/><path fill="#2aff00" stroke="#2aff00" d="M421.3 527.5L419.5 527.3L417.7 527.1L415.9 526.9L414.1 526.7L411.2 524.4L408.2 522L405.2 519.5L402.3 516.9L404.4 517.1L406.5 517.4L408.5 517.6L410.6 517.8L413.3 520.4L416 522.9L418.6 525.3ZM426.5 139.6L425.1 139.4L423.6 139.2L422.2 139L420.8 138.8L424.5 135.9L428.4 133.1L432.5 130.3L436.7 127.6L437.7 127.8L438.7 127.9L439.7 128.1L440.7 128.2L437 130.9L433.3 133.7L429.9 136.6ZM391.1 505.5L388.7 505.2L386.4 505L384 504.7L381.6 504.4L378.7 501.4L375.9 498.2L373.2 495L370.6 491.7L373.2 492L375.9 492.3L378.5 492.5L381.1 492.8L383.5 496.1L386 499.3L388.5 502.4ZM395.2 164.9L393.1 164.7L391 164.4L388.9 164.1L386.9 163.9L390 160.4L393.3 157L396.6 153.7L400.1 150.4L401.9 150.7L403.6 150.9L405.4 151.1L407.1 151.4L404 154.6L401 158L398 161.4ZM395.2 530.6L393.9 530.5L392.6 530.3L391.3 530.2L390 530.1L385.5 528.2L380.6 526.2L375.7 523.9L370.6 521.6L372.4 521.8L374.2 522L376 522.2L377.8 522.4L382.5 524.7L387 526.9L391.3 528.9ZM418.4 123.9L417.6 123.7L416.8 123.5L416 123.2L415.2 123L422.5 120.8L430 118.6L437.9 116.7L446.1 115L446.4 115.1L446.7 115.3L446.9 115.4L447.3 115.6L439.6 117.4L432.2 119.4L425.2 121.5Z"/><path fill="#00ff15" stroke="#00ff15" d="M400.6 506.5L398.2 506.2L395.8 506L393.5 505.7L391.1 505.5L388.5 502.4L386 499.3L383.5 496.1L381.1 492.8L383.7 493.1L386.3 493.3L388.9 493.6L391.5 493.9L393.7 497.1L395.9 500.3L398.2 503.4ZM403.6 165.8L401.5 165.6L399.4 165.4L397.3 165.1L395.2 164.9L398 161.4L401 158L404 154.6L407.1 151.4L408.9 151.6L410.7 151.8L412.5 152L414.3 152.2L411.5 155.5L408.8 158.9L406.1 162.3Z"/><path fill="#00ff40" stroke="#00ff40" d="M391.5 493.9L388.9 493.6L386.3 493.3L383.7 493.1L381.1 492.8L378.8 489.5L376.5 486.1L374.3 482.6L372.2 479.1L375.1 479.4L377.9 479.7L380.7 480L383.5 480.2L385.4 483.7L387.4 487.2L389.4 490.5ZM394.1 180.3L391.8 180.1L389.4 179.8L387 179.6L384.6 179.3L387.2 175.6L389.7 172L392.4 168.4L395.2 164.9L397.3 165.1L399.4 165.4L401.5 165.6L403.6 165.8L401.1 169.4L398.7 173L396.4 176.6Z"/><path fill="#00ff75" stroke="#00ff75" d="M383.5 480.2L380.7 480L377.9 479.7L375.1 479.4L372.2 479.1L370.2 475.6L368.2 472L366.3 468.3L364.5 464.6L367.5 464.9L370.5 465.2L373.5 465.5L376.5 465.8L378.2 469.4L379.9 473.1L381.7 476.7ZM385.8 195.5L383.2 195.3L380.6 195L378 194.7L375.4 194.4L377.6 190.6L379.9 186.8L382.2 183L384.6 179.3L387 179.6L389.4 179.8L391.8 180.1L394.1 180.3L392 184.1L389.9 187.8L387.8 191.7Z"/><path fill="#00ffcb" stroke="#00ffcb" d="M370.5 450.6L367.3 450.3L364.1 450L361 449.7L357.8 449.4L356.3 445.5L354.9 441.5L353.5 437.5L352.2 433.5L355.5 433.8L358.8 434.1L362.1 434.4L365.4 434.7L366.6 438.7L367.8 442.7L369.1 446.7ZM372.3 227.7L369.3 227.4L366.2 227.1L363.2 226.8L360.2 226.5L361.9 222.4L363.6 218.3L365.4 214.2L367.3 210.2L370.1 210.5L372.9 210.8L375.7 211.1L378.6 211.3L376.9 215.4L375.3 219.4L373.8 223.5Z"/><path fill="#00ffee" stroke="#00ffee" d="M365.4 434.7L362.1 434.4L358.8 434.1L355.5 433.8L352.2 433.5L350.9 429.5L349.7 425.4L348.6 421.3L347.5 417.2L350.9 417.5L354.4 417.8L357.8 418.1L361.2 418.4L362.1 422.5L363.2 426.6L364.2 430.7ZM366.9 244.4L363.7 244.1L360.6 243.9L357.4 243.5L354.2 243.2L355.6 239L357.1 234.8L358.6 230.7L360.2 226.5L363.2 226.8L366.2 227.1L369.3 227.4L372.3 227.7L370.9 231.8L369.5 236L368.2 240.2Z"/><path fill="#00f4ff" stroke="#00f4ff" d="M361.2 418.4L357.8 418.1L354.4 417.8L350.9 417.5L347.5 417.2L346.5 413L345.6 408.8L344.7 404.6L343.9 400.4L347.4 400.7L350.9 401L354.4 401.3L357.9 401.6L358.6 405.9L359.4 410.1L360.3 414.3ZM362.5 261.6L359.1 261.3L355.8 261L352.5 260.6L349.2 260.3L350.4 256L351.6 251.7L352.9 247.5L354.2 243.2L357.4 243.5L360.6 243.9L363.7 244.1L366.9 244.4L365.7 248.7L364.6 253L363.5 257.2Z"/><path fill="#00deff" stroke="#00deff" d="M357.9 401.6L354.4 401.3L350.9 401L347.4 400.7L343.9 400.4L343.1 396.1L342.4 391.9L341.8 387.6L341.2 383.3L344.8 383.6L348.3 383.9L351.9 384.2L355.4 384.5L356 388.8L356.5 393.1L357.2 397.4ZM358.9 278.9L355.5 278.6L352 278.3L348.6 278L345.2 277.7L346.1 273.3L347.1 269L348.1 264.6L349.2 260.3L352.5 260.6L355.8 261L359.1 261.3L362.5 261.6L361.5 265.9L360.6 270.2L359.7 274.6Z"/><path fill="#00bcff" stroke="#00bcff" d="M353.9 367.2L350.3 366.8L346.7 366.5L343.1 366.2L339.5 365.9L339.2 361.5L339 357.1L338.8 352.7L338.7 348.3L342.3 348.6L345.9 349L349.6 349.3L353.2 349.6L353.3 354L353.4 358.4L353.6 362.8ZM354.3 314.2L350.7 313.9L347.2 313.6L343.6 313.2L340.1 312.9L340.5 308.5L341 304.1L341.5 299.6L342.2 295.2L345.7 295.6L349.2 295.9L352.7 296.2L356.2 296.5L355.6 300.9L355.1 305.3L354.7 309.8Z"/><path fill="#00b0ff" stroke="#00b0ff" d="M353.2 349.6L349.6 349.3L345.9 349L342.3 348.6L338.7 348.3L338.7 343.9L338.7 339.5L338.8 335L338.9 330.6L342.5 330.9L346.1 331.3L349.7 331.6L353.3 331.9L353.2 336.3L353.1 340.8L353.1 345.2ZM353.3 331.9L349.7 331.6L346.1 331.3L342.5 330.9L338.9 330.6L339.1 326.2L339.4 321.8L339.7 317.3L340.1 312.9L343.6 313.2L347.2 313.6L350.7 313.9L354.3 314.2L354 318.6L353.7 323L353.5 327.5Z"/><path fill="#55ff00" stroke="#55ff00" d="M422.4 533.7L421 533.6L419.6 533.4L418.3 533.2L416.9 533.1L415.4 531.6L413 529.9L410 528L406.9 525.8L408.7 526L410.5 526.2L412.3 526.5L414.1 526.7L416.9 528.8L419.5 530.7L421.5 532.3ZM402.3 516.9L400.2 516.7L398.1 516.4L395.9 516.2L393.8 515.9L390.7 513.2L387.6 510.4L384.5 507.4L381.6 504.4L384 504.7L386.4 505L388.7 505.2L391.1 505.5L393.8 508.5L396.6 511.4L399.4 514.2ZM407.1 151.4L405.4 151.1L403.6 150.9L401.9 150.7L400.1 150.4L403.7 147.2L407.4 144.1L411.2 141L415.2 138L416.6 138.2L418 138.4L419.4 138.6L420.8 138.8L417.2 141.9L413.7 145L410.4 148.1ZM436.7 127.6L435.7 127.5L434.7 127.3L433.7 127.1L432.7 127L437.6 124.4L442.7 122L448.1 119.8L453.7 117.7L454.2 117.8L454.7 117.9L455.2 118L455.8 118.1L450.6 120.3L445.7 122.6L441.1 125.1ZM349.5 489.4L346.8 489.1L344.2 488.8L341.5 488.5L338.9 488.2L335.7 484.8L332.6 481.3L329.5 477.8L326.6 474.3L329.5 474.6L332.4 474.9L335.2 475.2L338.1 475.5L340.8 479.1L343.6 482.6L346.5 486ZM356.7 175.9L354.4 175.6L352.1 175.3L349.8 175L347.5 174.7L351.1 171.1L354.8 167.5L358.6 164L362.5 160.6L364.5 160.9L366.5 161.1L368.5 161.4L370.6 161.7L366.9 165.2L363.4 168.7L360 172.3Z"/><path fill="#72ff00" stroke="#72ff00" d="M414.1 526.7L412.3 526.5L410.5 526.2L408.7 526L406.9 525.8L403.6 523.5L400.3 521.1L397.1 518.6L393.8 515.9L395.9 516.2L398.1 516.4L400.2 516.7L402.3 516.9L405.2 519.5L408.2 522L411.2 524.4ZM420.8 138.8L419.4 138.6L418 138.4L416.6 138.2L415.2 138L419.3 135.1L423.6 132.3L428.1 129.6L432.7 127L433.7 127.1L434.7 127.3L435.7 127.5L436.7 127.6L432.5 130.3L428.4 133.1L424.5 135.9Z"/><path fill="#05ff00" stroke="#05ff00" d="M381.1 492.8L378.5 492.5L375.9 492.3L373.2 492L370.6 491.7L368.1 488.4L365.6 485L363.2 481.5L360.9 478L363.7 478.3L366.6 478.6L369.4 478.9L372.2 479.1L374.3 482.6L376.5 486.1L378.8 489.5ZM384.6 179.3L382.3 179L379.9 178.8L377.6 178.5L375.2 178.2L378 174.6L380.9 171L383.8 167.4L386.9 163.9L388.9 164.1L391 164.4L393.1 164.7L395.2 164.9L392.4 168.4L389.7 172L387.2 175.6Z"/><path fill="#00ff18" stroke="#00ff18" d="M372.2 479.1L369.4 478.9L366.6 478.6L363.7 478.3L360.9 478L358.7 474.4L356.5 470.8L354.4 467.1L352.4 463.4L355.4 463.7L358.4 464L361.5 464.3L364.5 464.6L366.3 468.3L368.2 472L370.2 475.6ZM375.4 194.4L372.8 194.2L370.2 193.9L367.6 193.6L365 193.3L367.4 189.5L369.9 185.7L372.5 181.9L375.2 178.2L377.6 178.5L379.9 178.8L382.3 179L384.6 179.3L382.2 183L379.9 186.8L377.6 190.6ZM301.8 396.2L298.3 395.8L294.8 395.5L291.3 395.1L287.7 394.7L286.7 390.5L285.8 386.2L284.9 381.8L284.2 377.5L287.7 377.9L291.3 378.3L294.9 378.6L298.4 379L299.2 383.3L300 387.6L300.8 391.9ZM304.4 273.5L301 273.1L297.6 272.8L294.2 272.4L290.8 272L292.2 267.7L293.6 263.4L295.1 259L296.7 254.8L299.9 255.1L303.2 255.5L306.5 255.9L309.7 256.2L308.3 260.5L306.9 264.8L305.6 269.2ZM259.6 391.7L256.1 391.4L252.6 391L249.1 390.6L245.6 390.3L244.4 386L243.3 381.7L242.3 377.3L241.4 373L244.9 373.4L248.5 373.7L252.1 374.1L255.6 374.5L256.5 378.8L257.4 383.1L258.5 387.5ZM263.8 269L260.4 268.6L257.1 268.2L253.7 267.8L250.3 267.5L252 263.2L253.7 258.8L255.6 254.6L257.6 250.3L260.8 250.7L264.1 251L267.3 251.4L270.6 251.8L268.7 256L267 260.3L265.3 264.7Z"/><path fill="#00ff35" stroke="#00ff35" d="M364.5 464.6L361.5 464.3L358.4 464L355.4 463.7L352.4 463.4L350.5 459.7L348.6 455.9L346.8 452L345.1 448.1L348.3 448.4L351.5 448.8L354.6 449.1L357.8 449.4L359.4 453.2L361 457.1L362.7 460.9ZM367.3 210.2L364.4 209.9L361.6 209.6L358.8 209.3L356 209L358.1 205L360.3 201.1L362.6 197.2L365 193.3L367.6 193.6L370.2 193.9L372.8 194.2L375.4 194.4L373.2 198.3L371.2 202.3L369.2 206.2Z"/><path fill="#00ff5a" stroke="#00ff5a" d="M357.8 449.4L354.6 449.1L351.5 448.8L348.3 448.4L345.1 448.1L343.4 444.2L341.9 440.3L340.4 436.3L338.9 432.2L342.2 432.6L345.5 432.9L348.9 433.2L352.2 433.5L353.5 437.5L354.9 441.5L356.3 445.5ZM360.2 226.5L357.2 226.2L354.2 225.9L351.2 225.6L348.2 225.3L350 221.2L352 217.1L353.9 213L356 209L358.8 209.3L361.6 209.6L364.4 209.9L367.3 210.2L365.4 214.2L363.6 218.3L361.9 222.4Z"/><path fill="#00ff80" stroke="#00ff80" d="M352.2 433.5L348.9 433.2L345.5 432.9L342.2 432.6L338.9 432.2L337.5 428.2L336.2 424.1L335 420L333.9 415.9L337.3 416.2L340.7 416.5L344.1 416.8L347.5 417.2L348.6 421.3L349.7 425.4L350.9 429.5ZM354.2 243.2L351.1 242.9L347.9 242.6L344.7 242.3L341.6 242L343.1 237.8L344.7 233.6L346.4 229.4L348.2 225.3L351.2 225.6L354.2 225.9L357.2 226.2L360.2 226.5L358.6 230.7L357.1 234.8L355.6 239Z"/><path fill="#00ff8e" stroke="#00ff8e" d="M347.5 417.2L344.1 416.8L340.7 416.5L337.3 416.2L333.9 415.9L332.8 411.7L331.7 407.5L330.8 403.3L329.9 399L333.4 399.4L336.9 399.7L340.4 400.1L343.9 400.4L344.7 404.6L345.6 408.8L346.5 413ZM349.2 260.3L345.9 260L342.6 259.7L339.3 259.4L336 259L337.3 254.7L338.7 250.5L340.1 246.2L341.6 242L344.7 242.3L347.9 242.6L351.1 242.9L354.2 243.2L352.9 247.5L351.6 251.7L350.4 256Z"/><path fill="#00ff7a" stroke="#00ff7a" d="M341.2 383.3L337.6 382.9L334.1 382.6L330.5 382.3L327 381.9L326.4 377.6L325.9 373.2L325.5 368.9L325.1 364.5L328.7 364.9L332.3 365.2L335.9 365.5L339.5 365.9L339.8 370.2L340.2 374.6L340.7 378.9ZM342.2 295.2L338.7 294.9L335.2 294.6L331.7 294.2L328.2 293.9L328.9 289.5L329.7 285.1L330.6 280.7L331.6 276.4L335 276.7L338.4 277L341.8 277.4L345.2 277.7L344.4 282.1L343.6 286.4L342.8 290.8Z"/><path fill="#00ff71" stroke="#00ff71" d="M339.5 365.9L335.9 365.5L332.3 365.2L328.7 364.9L325.1 364.5L324.8 360.1L324.6 355.7L324.4 351.3L324.3 346.9L327.9 347.3L331.5 347.6L335.1 348L338.7 348.3L338.8 352.7L339 357.1L339.2 361.5ZM340.1 312.9L336.5 312.6L332.9 312.2L329.4 311.9L325.8 311.5L326.3 307.1L326.9 302.7L327.5 298.3L328.2 293.9L331.7 294.2L335.2 294.6L338.7 294.9L342.2 295.2L341.5 299.6L341 304.1L340.5 308.5Z"/><path fill="#00ff69" stroke="#00ff69" d="M338.7 348.3L335.1 348L331.5 347.6L327.9 347.3L324.3 346.9L324.3 342.5L324.3 338.1L324.4 333.7L324.5 329.2L328.1 329.6L331.7 329.9L335.3 330.3L338.9 330.6L338.8 335L338.7 339.5L338.7 343.9ZM338.9 330.6L335.3 330.3L331.7 329.9L328.1 329.6L324.5 329.2L324.8 324.8L325.1 320.4L325.4 316L325.8 311.5L329.4 311.9L332.9 312.2L336.5 312.6L340.1 312.9L339.7 317.3L339.4 321.8L339.1 326.2Z"/><path fill="#ffb900" stroke="#ffb900" d="M391.2 534.3L402.8 534.7L409.5 534.4L411.8 533.7L411.4 532.5L412.7 532.6L414.1 532.8L415.5 532.9L416.9 533.1L416.5 534.2L412.8 534.8L404.5 534.9Z"/><path fill="#fcff00" stroke="#fcff00" d="M416.9 533.1L415.5 532.9L414.1 532.8L412.7 532.6L411.4 532.5L409.3 530.9L406.4 529.1L403.1 527.1L399.6 525L401.4 525.2L403.2 525.4L405.1 525.6L406.9 525.8L410 528L413 529.9L415.4 531.6Z"/><path fill="#e6ff00" stroke="#e6ff00" d="M406.9 525.8L405.1 525.6L403.2 525.4L401.4 525.2L399.6 525L396 522.7L392.4 520.2L388.8 517.6L385.3 515L387.5 515.2L389.6 515.5L391.7 515.7L393.8 515.9L397.1 518.6L400.3 521.1L403.6 523.5ZM415.2 138L413.8 137.8L412.4 137.6L411.1 137.4L409.7 137.2L414.2 134.3L418.9 131.5L423.8 128.8L428.9 126.2L429.9 126.4L430.8 126.6L431.8 126.8L432.7 127L428.1 129.6L423.6 132.3L419.3 135.1Z"/><path fill="#c9ff00" stroke="#c9ff00" d="M393.8 515.9L391.7 515.7L389.6 515.5L387.5 515.2L385.3 515L381.9 512.2L378.5 509.3L375.2 506.4L372 503.4L374.4 503.6L376.8 503.9L379.2 504.2L381.6 504.4L384.5 507.4L387.6 510.4L390.7 513.2ZM400.1 150.4L398.4 150.2L396.6 150L394.9 149.7L393.2 149.5L397.1 146.3L401.2 143.2L405.4 140.1L409.7 137.2L411.1 137.4L412.4 137.6L413.8 137.8L415.2 138L411.2 141L407.4 144.1L403.7 147.2Z"/><path fill="#94ff00" stroke="#94ff00" d="M381.6 504.4L379.2 504.2L376.8 503.9L374.4 503.6L372 503.4L368.9 500.3L365.9 497.1L362.9 493.9L360.1 490.6L362.7 490.9L365.4 491.1L368 491.4L370.6 491.7L373.2 495L375.9 498.2L378.7 501.4ZM386.9 163.9L384.8 163.6L382.8 163.4L380.7 163.1L378.7 162.8L382.1 159.4L385.7 156L389.4 152.7L393.2 149.5L394.9 149.7L396.6 150L398.4 150.2L400.1 150.4L396.6 153.7L393.3 157L390 160.4Z"/><path fill="#5dff00" stroke="#5dff00" d="M370.6 491.7L368 491.4L365.4 491.1L362.7 490.9L360.1 490.6L357.3 487.2L354.6 483.8L352 480.3L349.5 476.8L352.4 477.1L355.2 477.4L358.1 477.7L360.9 478L363.2 481.5L365.6 485L368.1 488.4ZM375.2 178.2L372.9 177.9L370.6 177.7L368.2 177.4L365.9 177.1L368.9 173.4L372.1 169.9L375.3 166.3L378.7 162.8L380.7 163.1L382.8 163.4L384.8 163.6L386.9 163.9L383.8 167.4L380.9 171L378 174.6Z"/><path fill="#25ff00" stroke="#25ff00" d="M360.9 478L358.1 477.7L355.2 477.4L352.4 477.1L349.5 476.8L347.1 473.2L344.7 469.6L342.5 465.9L340.3 462.1L343.3 462.5L346.4 462.8L349.4 463.1L352.4 463.4L354.4 467.1L356.5 470.8L358.7 474.4ZM365 193.3L362.4 193L359.8 192.7L357.2 192.4L354.7 192.1L357.3 188.3L360.1 184.5L363 180.8L365.9 177.1L368.2 177.4L370.6 177.7L372.9 177.9L375.2 178.2L372.5 181.9L369.9 185.7L367.4 189.5ZM333.4 499L331 498.7L328.6 498.4L326.1 498.2L323.7 497.9L319.3 494.7L315.1 491.4L311 488.1L307 484.7L309.6 485L312.3 485.2L314.9 485.5L317.6 485.8L321.4 489.2L325.3 492.5L329.3 495.8ZM346.7 158.2L344.8 157.9L342.8 157.6L340.9 157.3L339 157L344 153.7L349.2 150.4L354.5 147.2L360.1 144.1L361.7 144.4L363.3 144.6L364.9 144.9L366.5 145.2L361.3 148.3L356.3 151.6L351.4 154.8Z"/><path fill="#00ff14" stroke="#00ff14" d="M352.4 463.4L349.4 463.1L346.4 462.8L343.3 462.5L340.3 462.1L338.2 458.4L336.2 454.6L334.2 450.7L332.3 446.8L335.5 447.2L338.7 447.5L341.9 447.8L345.1 448.1L346.8 452L348.6 455.9L350.5 459.7ZM356 209L353.2 208.7L350.4 208.4L347.6 208.1L344.8 207.8L347.1 203.8L349.6 199.9L352.1 196L354.7 192.1L357.2 192.4L359.8 192.7L362.4 193L365 193.3L362.6 197.2L360.3 201.1L358.1 205Z"/><path fill="#00ff45" stroke="#00ff45" d="M338.9 432.2L335.6 431.9L332.3 431.6L329 431.2L325.6 430.9L324.2 426.8L322.8 422.7L321.4 418.6L320.2 414.5L323.6 414.8L327 415.2L330.4 415.5L333.9 415.9L335 420L336.2 424.1L337.5 428.2ZM341.6 242L338.4 241.6L335.3 241.3L332.1 241L329 240.6L330.7 236.4L332.5 232.2L334.3 228.1L336.3 224L339.2 224.3L342.2 224.6L345.2 225L348.2 225.3L346.4 229.4L344.7 233.6L343.1 237.8Z"/><path fill="#00ff63" stroke="#00ff63" d="M329.9 399L326.4 398.7L322.9 398.4L319.4 398L315.8 397.7L314.9 393.4L314.1 389.1L313.4 384.8L312.7 380.5L316.3 380.8L319.8 381.2L323.4 381.6L327 381.9L327.6 386.2L328.3 390.5L329 394.8ZM331.6 276.4L328.2 276L324.8 275.7L321.4 275.3L318 275L319.1 270.6L320.3 266.3L321.5 262L322.9 257.6L326.2 258L329.4 258.3L332.7 258.7L336 259L334.8 263.3L333.7 267.7L332.6 272ZM315.8 397.7L312.3 397.3L308.8 396.9L305.3 396.6L301.8 396.2L300.8 391.9L300 387.6L299.2 383.3L298.4 379L302 379.4L305.6 379.8L309.1 380.1L312.7 380.5L313.4 384.8L314.1 389.1L314.9 393.4ZM318 275L314.6 274.6L311.2 274.2L307.8 273.9L304.4 273.5L305.6 269.2L306.9 264.8L308.3 260.5L309.7 256.2L313 256.6L316.3 256.9L319.6 257.3L322.9 257.6L321.5 262L320.3 266.3L319.1 270.6Z"/><path fill="#00ff6f" stroke="#00ff6f" d="M327 381.9L323.4 381.6L319.8 381.2L316.3 380.8L312.7 380.5L312.1 376.2L311.6 371.8L311.1 367.4L310.7 363.1L314.3 363.4L317.9 363.8L321.5 364.2L325.1 364.5L325.5 368.9L325.9 373.2L326.4 377.6ZM325.1 364.5L321.5 364.2L317.9 363.8L314.3 363.4L310.7 363.1L310.4 358.7L310.2 354.3L310 349.9L309.9 345.5L313.5 345.9L317.1 346.2L320.7 346.6L324.3 346.9L324.4 351.3L324.6 355.7L324.8 360.1ZM324.3 346.9L320.7 346.6L317.1 346.2L313.5 345.9L309.9 345.5L309.8 341.1L309.9 336.7L310 332.2L310.2 327.8L313.8 328.2L317.4 328.5L321 328.9L324.5 329.2L324.4 333.7L324.3 338.1L324.3 342.5ZM324.5 329.2L321 328.9L317.4 328.5L313.8 328.2L310.2 327.8L310.4 323.4L310.8 319L311.2 314.5L311.6 310.1L315.2 310.5L318.7 310.8L322.3 311.2L325.8 311.5L325.4 316L325.1 320.4L324.8 324.8ZM325.8 311.5L322.3 311.2L318.7 310.8L315.2 310.5L311.6 310.1L312.2 305.7L312.8 301.3L313.5 296.9L314.2 292.5L317.7 292.8L321.2 293.2L324.7 293.5L328.2 293.9L327.5 298.3L326.9 302.7L326.3 307.1ZM328.2 293.9L324.7 293.5L321.2 293.2L317.7 292.8L314.2 292.5L315 288.1L315.9 283.7L316.9 279.3L318 275L321.4 275.3L324.8 275.7L328.2 276L331.6 276.4L330.6 280.7L329.7 285.1L328.9 289.5Z"/><path fill="#b4ff00" stroke="#b4ff00" d="M432.7 127L431.8 126.8L430.8 126.6L429.9 126.4L428.9 126.2L434.2 123.8L439.8 121.4L445.7 119.2L451.9 117.2L452.3 117.3L452.8 117.4L453.3 117.6L453.7 117.7L448.1 119.8L442.7 122L437.6 124.4Z"/><path fill="#38ff00" stroke="#38ff00" d="M453.7 117.7L453.3 117.6L452.8 117.4L452.3 117.3L451.9 117.2L458.4 115.4L465.3 113.8L472.7 112.5L480.5 111.7L473.1 112.7L466.2 114.1L459.8 115.8ZM338.1 475.5L335.2 475.2L332.4 474.9L329.5 474.6L326.6 474.3L323.8 470.7L321.1 467L318.5 463.3L316 459.5L319 459.9L322 460.2L325.1 460.5L328.1 460.9L330.5 464.6L332.9 468.3L335.5 471.9ZM344.4 190.9L341.9 190.5L339.3 190.2L336.8 189.9L334.2 189.6L337.4 185.8L340.6 182L344 178.3L347.5 174.7L349.8 175L352.1 175.3L354.4 175.6L356.7 175.9L353.4 179.6L350.3 183.3L347.3 187ZM377.8 522.4L376 522.2L374.2 522L372.4 521.8L370.6 521.6L365.6 519.1L360.7 516.5L355.8 513.8L351.1 511L353.3 511.2L355.4 511.5L357.5 511.7L359.7 512L364.1 514.7L368.6 517.4L373.2 520ZM394 134.3L392.8 134.1L391.5 133.9L390.3 133.6L389.1 133.4L395.2 130.6L401.6 128L408.3 125.4L415.2 123L416 123.2L416.8 123.5L417.6 123.7L418.4 123.9L411.9 126.3L405.7 128.9L399.8 131.6ZM291.5 456.9L288.5 456.6L285.4 456.2L282.4 455.9L279.3 455.6L276.4 451.7L273.6 447.9L270.9 443.9L268.3 440L271.5 440.3L274.7 440.7L277.9 441L281.1 441.3L283.6 445.3L286.1 449.2L288.8 453.1ZM300.6 202.4L297.8 202L295.1 201.7L292.4 201.3L289.6 201L293.1 197.1L296.6 193.2L300.2 189.4L304 185.6L306.5 185.9L309 186.2L311.5 186.6L314 186.9L310.5 190.7L307.1 194.6L303.8 198.4Z"/><path fill="#ff3600" stroke="#ff3600" d="M391.2 534.3L401.1 534.5L406.1 534.1L407.2 533.1L405.9 531.8L407.3 532L408.6 532.1L410 532.3L411.4 532.5L411.8 533.7L409.5 534.4L402.8 534.7Z"/><path fill="#ff7100" stroke="#ff7100" d="M411.4 532.5L410 532.3L408.6 532.1L407.3 532L405.9 531.8L403.3 530.2L399.9 528.4L396.2 526.3L392.3 524.1L394.2 524.3L396 524.5L397.8 524.8L399.6 525L403.1 527.1L406.4 529.1L409.3 530.9Z"/><path fill="#ff9500" stroke="#ff9500" d="M399.6 525L397.8 524.8L396 524.5L394.2 524.3L392.3 524.1L388.4 521.8L384.5 519.3L380.6 516.7L376.8 514L378.9 514.2L381.1 514.5L383.2 514.7L385.3 515L388.8 517.6L392.4 520.2L396 522.7ZM409.7 137.2L408.4 136.9L407 136.7L405.7 136.5L404.4 136.3L409.3 133.4L414.4 130.7L419.7 128L425.3 125.5L426.2 125.7L427.1 125.9L428 126.1L428.9 126.2L423.8 128.8L418.9 131.5L414.2 134.3Z"/><path fill="#f5ff00" stroke="#f5ff00" d="M385.3 515L383.2 514.7L381.1 514.5L378.9 514.2L376.8 514L373.1 511.2L369.4 508.3L365.9 505.3L362.4 502.3L364.8 502.6L367.2 502.8L369.6 503.1L372 503.4L375.2 506.4L378.5 509.3L381.9 512.2ZM393.2 149.5L391.5 149.2L389.7 149L388 148.7L386.3 148.4L390.6 145.3L395 142.2L399.6 139.2L404.4 136.3L405.7 136.5L407 136.7L408.4 136.9L409.7 137.2L405.4 140.1L401.2 143.2L397.1 146.3Z"/><path fill="#a8ff00" stroke="#a8ff00" d="M372 503.4L369.6 503.1L367.2 502.8L364.8 502.6L362.4 502.3L359 499.2L355.8 496L352.6 492.7L349.5 489.4L352.1 489.7L354.8 490L357.4 490.3L360.1 490.6L362.9 493.9L365.9 497.1L368.9 500.3ZM378.7 162.8L376.6 162.6L374.6 162.3L372.6 162L370.6 161.7L374.3 158.3L378.2 154.9L382.2 151.7L386.3 148.4L388 148.7L389.7 149L391.5 149.2L393.2 149.5L389.4 152.7L385.7 156L382.1 159.4Z"/><path fill="#67ff00" stroke="#67ff00" d="M360.1 490.6L357.4 490.3L354.8 490L352.1 489.7L349.5 489.4L346.5 486L343.6 482.6L340.8 479.1L338.1 475.5L341 475.8L343.8 476.2L346.7 476.5L349.5 476.8L352 480.3L354.6 483.8L357.3 487.2ZM365.9 177.1L363.6 176.8L361.3 176.5L359 176.2L356.7 175.9L360 172.3L363.4 168.7L366.9 165.2L370.6 161.7L372.6 162L374.6 162.3L376.6 162.6L378.7 162.8L375.3 166.3L372.1 169.9L368.9 173.4Z"/><path fill="#32ff00" stroke="#32ff00" d="M349.5 476.8L346.7 476.5L343.8 476.2L341 475.8L338.1 475.5L335.5 471.9L332.9 468.3L330.5 464.6L328.1 460.9L331.2 461.2L334.2 461.5L337.3 461.8L340.3 462.1L342.5 465.9L344.7 469.6L347.1 473.2ZM354.7 192.1L352.1 191.8L349.5 191.5L347 191.2L344.4 190.9L347.3 187L350.3 183.3L353.4 179.6L356.7 175.9L359 176.2L361.3 176.5L363.6 176.8L365.9 177.1L363 180.8L360.1 184.5L357.3 188.3ZM303.7 471.7L300.8 471.4L297.9 471.1L295.1 470.8L292.2 470.5L288.8 466.8L285.5 463.1L282.4 459.4L279.3 455.6L282.4 455.9L285.4 456.2L288.5 456.6L291.5 456.9L294.4 460.7L297.4 464.4L300.5 468.1ZM314 186.9L311.5 186.6L309 186.2L306.5 185.9L304 185.6L307.9 181.8L311.9 178.1L316.1 174.5L320.4 170.9L322.6 171.2L324.9 171.5L327.1 171.8L329.4 172.2L325.3 175.8L321.4 179.4L317.7 183.2Z"/><path fill="#00ff19" stroke="#00ff19" d="M332.3 446.8L329.2 446.5L326 446.2L322.8 445.8L319.6 445.5L317.6 441.5L315.8 437.6L314 433.6L312.3 429.5L315.7 429.9L319 430.2L322.3 430.6L325.6 430.9L327.2 434.9L328.8 438.9L330.6 442.9ZM336.3 224L333.3 223.6L330.3 223.3L327.3 223L324.4 222.6L326.6 218.5L328.8 214.5L331.2 210.4L333.7 206.5L336.4 206.8L339.2 207.1L342 207.4L344.8 207.8L342.5 211.8L340.4 215.8L338.3 219.9Z"/><path fill="#00ff30" stroke="#00ff30" d="M325.6 430.9L322.3 430.6L319 430.2L315.7 429.9L312.3 429.5L310.7 425.4L309.2 421.3L307.8 417.2L306.4 413.1L309.9 413.4L313.3 413.8L316.7 414.1L320.2 414.5L321.4 418.6L322.8 422.7L324.2 426.8ZM329 240.6L325.8 240.3L322.7 239.9L319.5 239.6L316.4 239.2L318.3 235L320.2 230.9L322.2 226.7L324.4 222.6L327.3 223L330.3 223.3L333.3 223.6L336.3 224L334.3 228.1L332.5 232.2L330.7 236.4ZM295.5 344L291.8 343.6L288.2 343.2L284.6 342.9L281 342.5L281 338.1L281.1 333.6L281.2 329.2L281.5 324.8L285.1 325.2L288.6 325.6L292.2 325.9L295.8 326.3L295.6 330.8L295.5 335.2L295.4 339.6ZM295.8 326.3L292.2 325.9L288.6 325.6L285.1 325.2L281.5 324.8L281.8 320.4L282.2 316L282.7 311.5L283.3 307.1L286.8 307.5L290.3 307.9L293.9 308.3L297.4 308.6L296.9 313.1L296.5 317.5L296.1 321.9Z"/><path fill="#00ff49" stroke="#00ff49" d="M320.2 414.5L316.7 414.1L313.3 413.8L309.9 413.4L306.4 413.1L305.2 408.9L304 404.7L302.8 400.5L301.8 396.2L305.3 396.6L308.8 396.9L312.3 397.3L315.8 397.7L316.8 401.9L317.9 406.1L319 410.3ZM322.9 257.6L319.6 257.3L316.3 256.9L313 256.6L309.7 256.2L311.3 251.9L312.9 247.7L314.6 243.4L316.4 239.2L319.5 239.6L322.7 239.9L325.8 240.3L329 240.6L327.3 244.9L325.8 249.1L324.3 253.4Z"/><path fill="#00ff7d" stroke="#00ff7d" d="M312.7 380.5L309.1 380.1L305.6 379.8L302 379.4L298.4 379L297.8 374.7L297.2 370.3L296.7 366L296.3 361.6L299.9 362L303.5 362.3L307.1 362.7L310.7 363.1L311.1 367.4L311.6 371.8L312.1 376.2ZM314.2 292.5L310.7 292.1L307.2 291.7L303.8 291.4L300.3 291L301.2 286.6L302.2 282.2L303.2 277.9L304.4 273.5L307.8 273.9L311.2 274.2L314.6 274.6L318 275L316.9 279.3L315.9 283.7L315 288.1Z"/><path fill="#00ff86" stroke="#00ff86" d="M309.9 345.5L306.3 345.1L302.7 344.8L299.1 344.4L295.5 344L295.4 339.6L295.5 335.2L295.6 330.8L295.8 326.3L299.4 326.7L303 327.1L306.6 327.4L310.2 327.8L310 332.2L309.9 336.7L309.8 341.1ZM310.2 327.8L306.6 327.4L303 327.1L299.4 326.7L295.8 326.3L296.1 321.9L296.5 317.5L296.9 313.1L297.4 308.6L301 309L304.5 309.4L308.1 309.7L311.6 310.1L311.2 314.5L310.8 319L310.4 323.4Z"/><path fill="#ff9c00" stroke="#ff9c00" d="M428.9 126.2L428 126.1L427.1 125.9L426.2 125.7L425.3 125.5L431 123.1L437.1 120.8L443.5 118.6L450.2 116.7L450.6 116.8L451 116.9L451.4 117.1L451.9 117.2L445.7 119.2L439.8 121.4L434.2 123.8Z"/><path fill="#81ff00" stroke="#81ff00" d="M405.9 531.8L404.6 531.7L403.2 531.5L401.9 531.4L400.5 531.2L397.3 529.5L393.4 527.6L389.3 525.5L385.1 523.3L386.9 523.5L388.7 523.7L390.5 523.9L392.3 524.1L396.2 526.3L399.9 528.4L403.3 530.2ZM376.8 514L374.7 513.7L372.5 513.5L370.4 513.2L368.2 513L364.2 510.2L360.3 507.2L356.5 504.2L352.7 501.2L355.2 501.5L357.6 501.7L360 502L362.4 502.3L365.9 505.3L369.4 508.3L373.1 511.2ZM386.3 148.4L384.7 148.2L383 147.9L381.3 147.6L379.6 147.4L384.3 144.2L389 141.2L394 138.2L399.1 135.3L400.4 135.6L401.7 135.8L403 136L404.4 136.3L399.6 139.2L395 142.2L390.6 145.3ZM425.3 125.5L424.4 125.3L423.5 125.1L422.6 124.9L421.8 124.7L428 122.3L434.6 120.1L441.4 118L448.6 116.1L449 116.3L449.4 116.4L449.7 116.5L450.2 116.7L443.5 118.6L437.1 120.8L431 123.1Z"/><path fill="#6eff00" stroke="#6eff00" d="M362.4 502.3L360 502L357.6 501.7L355.2 501.5L352.7 501.2L349.1 498L345.6 494.8L342.2 491.5L338.9 488.2L341.5 488.5L344.2 488.8L346.8 489.1L349.5 489.4L352.6 492.7L355.8 496L359 499.2ZM370.6 161.7L368.5 161.4L366.5 161.1L364.5 160.9L362.5 160.6L366.6 157.2L370.8 153.8L375.1 150.6L379.6 147.4L381.3 147.6L383 147.9L384.7 148.2L386.3 148.4L382.2 151.7L378.2 154.9L374.3 158.3Z"/><path fill="#10ff00" stroke="#10ff00" d="M319.6 445.5L316.4 445.1L313.2 444.8L310 444.5L306.8 444.1L304.7 440.2L302.7 436.2L300.8 432.2L299 428.1L302.4 428.5L305.7 428.8L309 429.2L312.3 429.5L314 433.6L315.8 437.6L317.6 441.5ZM324.4 222.6L321.4 222.3L318.4 221.9L315.5 221.6L312.5 221.2L314.9 217.1L317.4 213.1L319.9 209.1L322.6 205.1L325.4 205.4L328.1 205.8L330.9 206.1L333.7 206.5L331.2 210.4L328.8 214.5L326.6 218.5ZM328.2 487L325.6 486.7L322.9 486.4L320.3 486.1L317.6 485.8L313.9 482.4L310.4 478.9L307 475.3L303.7 471.7L306.5 472.1L309.4 472.4L312.3 472.7L315.2 473L318.3 476.6L321.5 480.1L324.8 483.6ZM338.4 173.4L336.1 173.1L333.9 172.8L331.6 172.5L329.4 172.2L333.5 168.6L337.8 165.1L342.2 161.6L346.7 158.2L348.7 158.5L350.7 158.8L352.6 159.1L354.6 159.4L350.4 162.8L346.2 166.3L342.3 169.8Z"/><path fill="#04ff00" stroke="#04ff00" d="M312.3 429.5L309 429.2L305.7 428.8L302.4 428.5L299 428.1L297.3 424L295.7 419.9L294.1 415.8L292.7 411.6L296.1 412L299.6 412.3L303 412.7L306.4 413.1L307.8 417.2L309.2 421.3L310.7 425.4ZM316.4 239.2L313.3 238.9L310.1 238.5L307 238.2L303.9 237.8L305.9 233.6L308 229.5L310.2 225.3L312.5 221.2L315.5 221.6L318.4 221.9L321.4 222.3L324.4 222.6L322.2 226.7L320.2 230.9L318.3 235Z"/><path fill="#00ff09" stroke="#00ff09" d="M306.4 413.1L303 412.7L299.6 412.3L296.1 412L292.7 411.6L291.3 407.4L290.1 403.2L288.9 399L287.7 394.7L291.3 395.1L294.8 395.5L298.3 395.8L301.8 396.2L302.8 400.5L304 404.7L305.2 408.9ZM309.7 256.2L306.5 255.9L303.2 255.5L299.9 255.1L296.7 254.8L298.3 250.5L300.1 246.2L301.9 242L303.9 237.8L307 238.2L310.1 238.5L313.3 238.9L316.4 239.2L314.6 243.4L312.9 247.7L311.3 251.9ZM265.2 408.7L261.8 408.3L258.3 408L254.9 407.6L251.5 407.2L249.8 403L248.3 398.8L246.9 394.5L245.6 390.3L249.1 390.6L252.6 391L256.1 391.4L259.6 391.7L260.9 396L262.2 400.3L263.7 404.5ZM270.6 251.8L267.3 251.4L264.1 251L260.8 250.7L257.6 250.3L259.6 246L261.8 241.8L264.1 237.6L266.5 233.4L269.6 233.8L272.7 234.1L275.8 234.5L278.9 234.9L276.7 239.1L274.6 243.3L272.5 247.5Z"/><path fill="#00ff2b" stroke="#00ff2b" d="M296.3 361.6L292.7 361.2L289.1 360.8L285.5 360.5L281.9 360.1L281.6 355.7L281.3 351.3L281.1 346.9L281 342.5L284.6 342.9L288.2 343.2L291.8 343.6L295.5 344L295.6 348.4L295.7 352.8L296 357.2ZM297.4 308.6L293.9 308.3L290.3 307.9L286.8 307.5L283.3 307.1L283.9 302.7L284.6 298.3L285.5 293.9L286.4 289.5L289.8 289.9L293.3 290.2L296.8 290.6L300.3 291L299.5 295.4L298.7 299.8L298 304.2Z"/><path fill="#22ff00" stroke="#22ff00" d="M450.2 116.7L449.7 116.5L449.4 116.4L449 116.3L448.6 116.1L456.1 114.5L464 113.1L472.1 112.2L480.5 111.7L472.4 112.3L464.6 113.5L457.2 114.9ZM343.1 500.1L340.6 499.8L338.2 499.5L335.8 499.3L333.4 499L329.3 495.8L325.3 492.5L321.4 489.2L317.6 485.8L320.3 486.1L322.9 486.4L325.6 486.7L328.2 487L331.8 490.4L335.4 493.7L339.2 496.9ZM354.6 159.4L352.6 159.1L350.7 158.8L348.7 158.5L346.7 158.2L351.4 154.8L356.3 151.6L361.3 148.3L366.5 145.2L368.1 145.5L369.7 145.7L371.4 146L373 146.3L368.2 149.5L363.5 152.7L359 156Z"/><path fill="#00a7ff" stroke="#00a7ff" d="M400.5 531.2L399.2 531.1L397.8 530.9L396.5 530.8L395.2 530.6L391.3 528.9L387 526.9L382.5 524.7L377.8 522.4L379.6 522.6L381.4 522.8L383.3 523L385.1 523.3L389.3 525.5L393.4 527.6L397.3 529.5ZM421.8 124.7L420.9 124.5L420.1 124.3L419.2 124.1L418.4 123.9L425.2 121.5L432.2 119.4L439.6 117.4L447.3 115.6L447.6 115.7L447.9 115.9L448.3 116L448.6 116.1L441.4 118L434.6 120.1L428 122.3Z"/><path fill="#0067ff" stroke="#0067ff" d="M338.9 488.2L336.2 487.9L333.6 487.6L330.9 487.3L328.2 487L324.8 483.6L321.5 480.1L318.3 476.6L315.2 473L318 473.3L320.9 473.6L323.8 474L326.6 474.3L329.5 477.8L332.6 481.3L335.7 484.8ZM347.5 174.7L345.2 174.4L342.9 174L340.7 173.7L338.4 173.4L342.3 169.8L346.2 166.3L350.4 162.8L354.6 159.4L356.6 159.7L358.6 160L360.5 160.3L362.5 160.6L358.6 164L354.8 167.5L351.1 171.1Z"/><path fill="#0047ff" stroke="#0047ff" d="M306.8 444.1L303.6 443.8L300.4 443.4L297.2 443.1L293.9 442.7L291.7 438.8L289.6 434.8L287.6 430.7L285.7 426.7L289 427L292.4 427.4L295.7 427.7L299 428.1L300.8 432.2L302.7 436.2L304.7 440.2ZM312.5 221.2L309.5 220.9L306.6 220.5L303.6 220.2L300.7 219.8L303.3 215.7L305.9 211.7L308.7 207.7L311.6 203.7L314.3 204.1L317.1 204.4L319.8 204.8L322.6 205.1L319.9 209.1L317.4 213.1L314.9 217.1Z"/><path fill="#31ff00" stroke="#31ff00" d="M359.7 512L357.5 511.7L355.4 511.5L353.3 511.2L351.1 511L346.5 508.1L342 505.2L337.6 502.1L333.4 499L335.8 499.3L338.2 499.5L340.6 499.8L343.1 500.1L347 503.2L351.1 506.2L355.4 509.1ZM373 146.3L371.4 146L369.7 145.7L368.1 145.5L366.5 145.2L371.9 142.1L377.4 139.1L383.1 136.2L389.1 133.4L390.3 133.6L391.5 133.9L392.8 134.1L394 134.3L388.5 137.2L383.2 140.2L378 143.2Z"/><path fill="#00ff08" stroke="#00ff08" d="M315.2 473L312.3 472.7L309.4 472.4L306.5 472.1L303.7 471.7L300.5 468.1L297.4 464.4L294.4 460.7L291.5 456.9L294.6 457.2L297.6 457.5L300.7 457.9L303.8 458.2L306.5 462L309.3 465.7L312.2 469.4ZM324.1 188.2L321.6 187.9L319.1 187.6L316.5 187.2L314 186.9L317.7 183.2L321.4 179.4L325.3 175.8L329.4 172.2L331.6 172.5L333.9 172.8L336.1 173.1L338.4 173.4L334.6 177.1L331 180.7L327.5 184.5Z"/><path fill="#00ff1f" stroke="#00ff1f" d="M303.8 458.2L300.7 457.9L297.6 457.5L294.6 457.2L291.5 456.9L288.8 453.1L286.1 449.2L283.6 445.3L281.1 441.3L284.3 441.7L287.5 442L290.7 442.4L293.9 442.7L296.3 446.7L298.7 450.5L301.2 454.4ZM311.6 203.7L308.8 203.4L306.1 203L303.3 202.7L300.6 202.4L303.8 198.4L307.1 194.6L310.5 190.7L314 186.9L316.5 187.2L319.1 187.6L321.6 187.9L324.1 188.2L320.8 192.1L317.6 195.9L314.5 199.8Z"/><path fill="#00ff3c" stroke="#00ff3c" d="M293.9 442.7L290.7 442.4L287.5 442L284.3 441.7L281.1 441.3L278.8 437.4L276.5 433.4L274.4 429.3L272.4 425.3L275.7 425.6L279 426L282.4 426.3L285.7 426.7L287.6 430.7L289.6 434.8L291.7 438.8ZM300.7 219.8L297.7 219.4L294.8 219.1L291.9 218.7L288.9 218.4L291.7 214.3L294.5 210.3L297.5 206.3L300.6 202.4L303.3 202.7L306.1 203L308.8 203.4L311.6 203.7L308.7 207.7L305.9 211.7L303.3 215.7Z"/><path fill="#00ff59" stroke="#00ff59" d="M285.7 426.7L282.4 426.3L279 426L275.7 425.6L272.4 425.3L270.4 421.2L268.6 417L266.8 412.9L265.2 408.7L268.6 409.1L272.1 409.4L275.5 409.8L279 410.1L280.5 414.3L282.1 418.5L283.9 422.6ZM291.4 236.3L288.3 236L285.2 235.6L282 235.2L278.9 234.9L281.3 230.7L283.7 226.6L286.3 222.5L288.9 218.4L291.9 218.7L294.8 219.1L297.7 219.4L300.7 219.8L298.2 223.9L295.8 228L293.6 232.2Z"/><path fill="#00ff83" stroke="#00ff83" d="M279 410.1L275.5 409.8L272.1 409.4L268.6 409.1L265.2 408.7L263.7 404.5L262.2 400.3L260.9 396L259.6 391.7L263.1 392.1L266.7 392.5L270.2 392.9L273.7 393.2L274.9 397.5L276.1 401.7L277.5 406ZM283.6 253.3L280.3 252.9L277.1 252.5L273.8 252.1L270.6 251.8L272.5 247.5L274.6 243.3L276.7 239.1L278.9 234.9L282 235.2L285.2 235.6L288.3 236L291.4 236.3L289.3 240.5L287.3 244.8L285.4 249Z"/><path fill="#00ffb9" stroke="#00ffb9" d="M273.7 393.2L270.2 392.9L266.7 392.5L263.1 392.1L259.6 391.7L258.5 387.5L257.4 383.1L256.5 378.8L255.6 374.5L259.2 374.9L262.8 375.2L266.3 375.6L269.9 376L270.7 380.3L271.6 384.7L272.6 389ZM277.3 270.5L273.9 270.1L270.6 269.7L267.2 269.4L263.8 269L265.3 264.7L267 260.3L268.7 256L270.6 251.8L273.8 252.1L277.1 252.5L280.3 252.9L283.6 253.3L281.9 257.5L280.3 261.8L278.7 266.2Z"/><path fill="#00fff0" stroke="#00fff0" d="M269.9 376L266.3 375.6L262.8 375.2L259.2 374.9L255.6 374.5L254.9 370.1L254.2 365.8L253.6 361.4L253.2 357L256.7 357.4L260.3 357.8L263.9 358.2L267.5 358.6L268 362.9L268.5 367.3L269.2 371.7ZM272.5 288L269 287.6L265.5 287.2L262.1 286.8L258.6 286.4L259.8 282L261 277.7L262.4 273.3L263.8 269L267.2 269.4L270.6 269.7L273.9 270.1L277.3 270.5L276 274.8L274.7 279.2L273.5 283.6Z"/><path fill="#00fff2" stroke="#00fff2" d="M266.6 340.9L263 340.6L259.4 340.2L255.8 339.8L252.2 339.4L252.2 335L252.3 330.6L252.5 326.1L252.8 321.7L256.4 322.1L260 322.5L263.6 322.9L267.1 323.3L266.9 327.7L266.7 332.1L266.6 336.5ZM267.1 323.3L263.6 322.9L260 322.5L256.4 322.1L252.8 321.7L253.2 317.3L253.7 312.9L254.3 308.4L254.9 304L258.5 304.4L262 304.8L265.5 305.2L269.1 305.6L268.5 310L267.9 314.4L267.5 318.8Z"/><path fill="#2dff00" stroke="#2dff00" d="M317.6 485.8L314.9 485.5L312.3 485.2L309.6 485L307 484.7L303.1 481.2L299.3 477.7L295.7 474.1L292.2 470.5L295.1 470.8L297.9 471.1L300.8 471.4L303.7 471.7L307 475.3L310.4 478.9L313.9 482.4ZM329.4 172.2L327.1 171.8L324.9 171.5L322.6 171.2L320.4 170.9L324.8 167.3L329.4 163.8L334.1 160.4L339 157L340.9 157.3L342.8 157.6L344.8 157.9L346.7 158.2L342.2 161.6L337.8 165.1L333.5 168.6Z"/><path fill="#21ff00" stroke="#21ff00" d="M281.1 441.3L277.9 441L274.7 440.7L271.5 440.3L268.3 440L265.8 436L263.4 432L261.2 427.9L259 423.8L262.4 424.2L265.7 424.5L269 424.9L272.4 425.3L274.4 429.3L276.5 433.4L278.8 437.4ZM288.9 218.4L286 218L283 217.7L280.1 217.3L277.2 217L280.1 212.9L283.2 208.9L286.4 204.9L289.6 201L292.4 201.3L295.1 201.7L297.8 202L300.6 202.4L297.5 206.3L294.5 210.3L291.7 214.3Z"/><path fill="#0aff00" stroke="#0aff00" d="M272.4 425.3L269 424.9L265.7 424.5L262.4 424.2L259 423.8L257 419.7L255 415.6L253.2 411.4L251.5 407.2L254.9 407.6L258.3 408L261.8 408.3L265.2 408.7L266.8 412.9L268.6 417L270.4 421.2ZM278.9 234.9L275.8 234.5L272.7 234.1L269.6 233.8L266.5 233.4L269 229.3L271.6 225.1L274.3 221L277.2 217L280.1 217.3L283 217.7L286 218L288.9 218.4L286.3 222.5L283.7 226.6L281.3 230.7Z"/><path fill="#00ff23" stroke="#00ff23" d="M253.2 357L249.6 356.6L246 356.3L242.4 355.9L238.8 355.5L238.4 351.1L238.1 346.7L237.9 342.3L237.8 337.9L241.4 338.3L245 338.6L248.6 339L252.2 339.4L252.3 343.8L252.5 348.2L252.8 352.6ZM254.9 304L251.4 303.6L247.9 303.3L244.3 302.9L240.8 302.5L241.6 298.1L242.6 293.7L243.6 289.3L244.7 284.9L248.2 285.3L251.7 285.7L255.1 286L258.6 286.4L257.5 290.8L256.6 295.2L255.7 299.6Z"/></g>
<g clip-path="url(#ell)" shape-rendering="crispEdges"><path d="M391.2 534.3L393.5 534L393.8 533.4L392.7 532.6L390.6 531.7L387.9 530.7L384.8 529.5L381.5 528.2L378 526.9L374.4 525.5L370.7 524L367.1 522.4L363.5 520.8L359.9 519.1L356.3 517.4L352.8 515.6L349.4 513.8L346 511.9L342.6 510.1L339.3 508.1L336.1 506.1L332.9 504.1L329.8 502.1L326.7 500L323.7 497.9L320.8 495.8L317.9 493.6L315.1 491.4L312.3 489.2L309.6 486.9L307 484.7L304.4 482.4L301.8 480L299.3 477.7L296.9 475.3L294.5 472.9L292.2 470.5L289.9 468.1L287.7 465.6L285.5 463.1L283.4 460.6L281.4 458.1L279.3 455.6L277.4 453L275.5 450.4L273.6 447.9L271.8 445.3L270 442.6L268.3 440L266.6 437.3L265 434.7L263.4 432L261.9 429.3L260.4 426.6L259 423.8L257.6 421.1L256.3 418.4L255 415.6L253.8 412.8L252.6 410L251.5 407.2L250.4 404.4L249.3 401.6L248.3 398.8L247.4 396L246.4 393.1L245.6 390.3L244.8 387.4L244 384.5L243.3 381.7L242.6 378.8L241.9 375.9L241.4 373L240.8 370.1L240.3 367.2L239.9 364.3L239.5 361.3L239.1 358.4L238.8 355.5L238.5 352.6L238.3 349.6L238.1 346.7L238 343.8L237.9 340.8L237.8 337.9L237.8 334.9L237.9 332L238 329L238.1 326.1L238.3 323.1L238.5 320.2L238.8 317.2L239.1 314.3L239.4 311.3L239.9 308.4L240.3 305.4L240.8 302.5L241.3 299.6L241.9 296.6L242.6 293.7L243.2 290.8L244 287.8L244.7 284.9L245.6 282L246.4 279.1L247.3 276.2L248.3 273.3L249.3 270.4L250.3 267.5L251.4 264.6L252.6 261.7L253.7 258.8L255 256L256.2 253.1L257.6 250.3L258.9 247.5L260.4 244.6L261.8 241.8L263.3 239L264.9 236.2L266.5 233.4L268.2 230.6L269.9 227.9L271.6 225.1L273.4 222.4L275.3 219.7L277.2 217L279.1 214.3L281.1 211.6L283.2 208.9L285.3 206.2L287.4 203.6L289.6 201L291.9 198.4L294.2 195.8L296.6 193.2L299 190.6L301.5 188.1L304 185.6L306.6 183.1L309.2 180.6L311.9 178.1L314.7 175.7L317.5 173.3L320.4 170.9L323.3 168.5L326.3 166.2L329.4 163.8L332.5 161.5L335.7 159.3L339 157L342.3 154.8L345.7 152.6L349.2 150.4L352.7 148.3L356.4 146.2L360.1 144.1L363.9 142L367.7 140L371.7 138.1L375.8 136.1L379.9 134.2L384.2 132.4L388.6 130.5L393.1 128.8L397.7 127L402.4 125.4L407.2 123.7L412.2 122.2L417.3 120.7L422.6 119.2L428 117.9L433.6 116.6L439.3 115.4L445.2 114.4L451.1 113.4L457.1 112.7L463.1 112.1L469 111.7L474.8 111.6L480.5 111.7M391.2 534.3L387.2 533.4L382.4 532.4L377.2 531.2L371.8 530L366.3 528.6L360.8 527.2L355.4 525.7L350 524.1L344.6 522.5L339.4 520.8L334.3 519.1L329.3 517.4L324.3 515.6L319.5 513.7L314.8 511.8L310.1 509.9L305.6 507.9L301.2 505.9L296.8 503.9L292.5 501.8L288.4 499.7L284.3 497.6L280.3 495.4L276.4 493.3L272.5 491L268.8 488.8L265.1 486.5L261.5 484.2L258 481.9L254.6 479.6L251.2 477.2L247.9 474.8L244.7 472.4L241.5 470L238.4 467.5L235.4 465.1L232.5 462.6L229.6 460.1L226.8 457.5L224.1 455L221.4 452.4L218.8 449.8L216.3 447.2L213.9 444.6L211.5 442L209.1 439.3L206.9 436.7L204.6 434L202.5 431.3L200.4 428.6L198.4 425.8L196.5 423.1L194.6 420.4L192.7 417.6L191 414.8L189.3 412.1L187.6 409.3L186 406.5L184.5 403.6L183.1 400.8L181.7 398L180.3 395.1L179.1 392.3L177.8 389.4L176.7 386.6L175.6 383.7L174.5 380.8L173.6 377.9L172.7 375L171.8 372.1L171 369.2L170.3 366.3L169.6 363.4L169 360.4L168.4 357.5L167.9 354.6L167.4 351.6L167.1 348.7L166.7 345.8L166.5 342.8L166.3 339.9L166.1 336.9L166 334L166 331L166 328.1L166.1 325.1L166.3 322.2L166.5 319.2L166.7 316.2L167 313.3L167.4 310.3L167.9 307.4L168.4 304.4L168.9 301.5L169.5 298.6L170.2 295.6L170.9 292.7L171.7 289.7L172.6 286.8L173.5 283.9L174.5 281L175.5 278L176.6 275.1L177.7 272.2L179 269.3L180.2 266.4L181.6 263.6L182.9 260.7L184.4 257.8L185.9 254.9L187.5 252.1L189.1 249.2L190.8 246.4L192.6 243.6L194.4 240.8L196.3 237.9L198.2 235.1L200.2 232.4L202.3 229.6L204.4 226.8L206.6 224.1L208.8 221.3L211.2 218.6L213.5 215.9L216 213.2L218.5 210.5L221.1 207.8L223.7 205.2L226.4 202.5L229.2 199.9L232.1 197.3L235 194.7L238 192.1L241 189.6L244.1 187L247.3 184.5L250.6 182L254 179.5L257.4 177.1L260.9 174.6L264.4 172.2L268.1 169.8L271.8 167.4L275.6 165.1L279.5 162.8L283.5 160.4L287.6 158.2L291.7 155.9L296 153.7L300.3 151.5L304.7 149.3L309.3 147.2L313.9 145.1L318.6 143L323.5 140.9L328.4 138.9L333.5 136.9L338.7 135L344 133.1L349.5 131.2L355.1 129.4L360.9 127.6L366.8 125.9L372.8 124.2L379.1 122.6L385.5 121L392.2 119.5L399 118L406.1 116.6L413.4 115.3L420.9 114.1L428.6 113L436.4 112L444.2 111.2L451.8 110.6L458.9 110.3L465.3 110.2L471 110.4L476 110.9L480.5 111.7M391.2 534.3L382.1 533.1L373.2 531.8L364.7 530.4L356.5 528.9L348.5 527.4L340.8 525.8L333.3 524.2L326.1 522.5L319 520.8L312.2 519L305.5 517.2L299 515.4L292.7 513.5L286.5 511.6L280.5 509.6L274.6 507.6L268.9 505.6L263.3 503.5L257.8 501.4L252.4 499.3L247.2 497.1L242.1 494.9L237.1 492.7L232.2 490.5L227.4 488.2L222.7 485.9L218.1 483.6L213.6 481.3L209.2 478.9L204.9 476.5L200.7 474.1L196.6 471.7L192.6 469.2L188.7 466.8L184.9 464.3L181.1 461.7L177.5 459.2L173.9 456.7L170.4 454.1L167 451.5L163.7 448.9L160.5 446.3L157.3 443.7L154.3 441L151.3 438.4L148.4 435.7L145.6 433L142.8 430.3L140.1 427.6L137.6 424.8L135 422.1L132.6 419.3L130.3 416.6L128 413.8L125.8 411L123.7 408.2L121.6 405.4L119.6 402.5L117.8 399.7L115.9 396.9L114.2 394L112.5 391.1L110.9 388.3L109.4 385.4L107.9 382.5L106.6 379.6L105.3 376.7L104 373.8L102.9 370.9L101.8 368L100.8 365.1L99.9 362.1L99 359.2L98.2 356.3L97.5 353.3L96.9 350.4L96.3 347.4L95.8 344.5L95.4 341.5L95 338.6L94.8 335.6L94.6 332.7L94.4 329.7L94.4 326.8L94.4 323.8L94.5 320.8L94.6 317.9L94.8 314.9L95.1 312L95.5 309L96 306.1L96.5 303.1L97.1 300.2L97.7 297.2L98.5 294.3L99.3 291.3L100.2 288.4L101.1 285.4L102.2 282.5L103.3 279.6L104.4 276.7L105.7 273.8L107 270.9L108.4 267.9L109.9 265.1L111.4 262.2L113.1 259.3L114.7 256.4L116.5 253.5L118.4 250.7L120.3 247.8L122.3 245L124.3 242.2L126.5 239.3L128.7 236.5L131 233.7L133.4 231L135.8 228.2L138.4 225.4L141 222.7L143.7 219.9L146.4 217.2L149.3 214.5L152.2 211.8L155.2 209.1L158.3 206.4L161.4 203.8L164.7 201.1L168 198.5L171.4 195.9L175 193.3L178.5 190.7L182.2 188.2L186 185.6L189.8 183.1L193.8 180.6L197.8 178.1L201.9 175.7L206.1 173.2L210.4 170.8L214.8 168.4L219.4 166L224 163.7L228.7 161.3L233.5 159L238.4 156.8L243.4 154.5L248.6 152.3L253.9 150.1L259.2 147.9L264.7 145.8L270.4 143.6L276.1 141.6L282 139.5L288.1 137.5L294.3 135.5L300.7 133.6L307.2 131.6L313.9 129.8L320.8 127.9L327.9 126.1L335.2 124.4L342.7 122.7L350.5 121L358.6 119.4L366.9 117.9L375.6 116.4L384.7 115L394.3 113.6L404.3 112.3L415 111.1L426.3 110.1L438.2 109.1L450.4 108.4L461.4 108.1L468.8 108.2L473.1 108.7L476.2 109.5L478.5 110.5L480.5 111.7M569.8 534.3L580 533.1L589.7 531.7L599 530.3L607.9 528.8L616.4 527.3L624.7 525.7L632.6 524L640.4 522.3L647.9 520.6L655.1 518.8L662.2 517L669.1 515.1L675.8 513.2L682.3 511.3L688.7 509.3L694.9 507.3L701 505.3L707 503.2L712.7 501.1L718.4 498.9L724 496.8L729.4 494.6L734.7 492.4L739.8 490.1L744.9 487.9L749.9 485.6L754.7 483.2L759.4 480.9L764.1 478.5L768.6 476.1L773 473.7L777.4 471.3L781.6 468.8L785.7 466.4L789.8 463.9L793.7 461.3L797.6 458.8L801.4 456.3L805 453.7L808.6 451.1L812.1 448.5L815.5 445.9L818.9 443.2L822.1 440.6L825.2 437.9L828.3 435.2L831.3 432.5L834.2 429.8L837 427.1L839.8 424.4L842.4 421.6L845 418.9L847.5 416.1L849.9 413.3L852.2 410.5L854.4 407.7L856.6 404.9L858.7 402L860.7 399.2L862.6 396.4L864.5 393.5L866.3 390.6L868 387.8L869.6 384.9L871.1 382L872.6 379.1L874 376.2L875.3 373.3L876.5 370.4L877.6 367.5L878.7 364.6L879.7 361.6L880.6 358.7L881.5 355.8L882.3 352.8L882.9 349.9L883.6 346.9L884.1 344L884.6 341L884.9 338.1L885.3 335.1L885.5 332.2L885.6 329.2L885.7 326.2L885.7 323.3L885.7 320.3L885.5 317.4L885.3 314.4L885 311.4L884.6 308.5L884.2 305.5L883.6 302.6L883 299.6L882.4 296.7L881.6 293.7L880.8 290.8L879.8 287.8L878.9 284.9L877.8 282L876.7 279.1L875.4 276.1L874.1 273.2L872.8 270.3L871.3 267.4L869.8 264.5L868.2 261.6L866.5 258.7L864.7 255.9L862.9 253L861 250.2L859 247.3L856.9 244.5L854.8 241.6L852.5 238.8L850.2 236L847.8 233.2L845.3 230.4L842.8 227.6L840.1 224.9L837.4 222.1L834.6 219.4L831.7 216.7L828.8 214L825.7 211.3L822.6 208.6L819.4 205.9L816 203.2L812.6 200.6L809.2 198L805.6 195.4L801.9 192.8L798.2 190.2L794.3 187.7L790.4 185.1L786.4 182.6L782.3 180.1L778.1 177.6L773.7 175.2L769.3 172.7L764.8 170.3L760.2 167.9L755.5 165.5L750.7 163.2L745.7 160.9L740.7 158.6L735.6 156.3L730.3 154L724.9 151.8L719.4 149.6L713.8 147.4L708 145.3L702.1 143.2L696 141.1L689.9 139.1L683.5 137.1L677 135.1L670.4 133.1L663.5 131.2L656.5 129.3L649.3 127.5L641.8 125.7L634.1 124L626.2 122.3L618 120.6L609.5 119L600.7 117.5L591.5 116L581.8 114.5L571.7 113.2L560.9 111.9L549.4 110.7L537 109.6L523.3 108.7L508.4 107.9L494.5 107.5L487.7 107.8L484.9 108.5L483.1 109.4L481.7 110.5L480.5 111.7M569.8 534.3L575.3 533.3L581.3 532.2L587.5 530.9L593.7 529.6L599.9 528.2L606 526.7L612 525.2L617.9 523.6L623.7 521.9L629.3 520.2L634.9 518.5L640.3 516.7L645.6 514.8L650.8 513L655.8 511.1L660.8 509.1L665.6 507.1L670.4 505.1L675 503L679.6 500.9L684 498.8L688.4 496.7L692.6 494.5L696.8 492.3L700.9 490.1L704.9 487.8L708.8 485.5L712.6 483.2L716.4 480.9L720 478.5L723.6 476.1L727.1 473.7L730.5 471.3L733.9 468.9L737.2 466.4L740.4 463.9L743.5 461.4L746.5 458.9L749.5 456.4L752.4 453.8L755.2 451.2L758 448.6L760.7 446L763.3 443.4L765.8 440.7L768.3 438.1L770.7 435.4L773.1 432.7L775.4 430L777.6 427.3L779.7 424.6L781.8 421.8L783.8 419.1L785.7 416.3L787.6 413.5L789.4 410.7L791.2 407.9L792.8 405.1L794.4 402.3L796 399.5L797.5 396.6L798.9 393.8L800.3 390.9L801.5 388.1L802.8 385.2L803.9 382.3L805 379.4L806.1 376.5L807.1 373.6L808 370.7L808.8 367.8L809.6 364.9L810.3 362L811 359L811.6 356.1L812.1 353.2L812.6 350.2L813 347.3L813.3 344.3L813.6 341.4L813.8 338.4L814 335.5L814.1 332.5L814.1 329.6L814.1 326.6L814 323.7L813.8 320.7L813.6 317.7L813.4 314.8L813 311.8L812.6 308.9L812.1 305.9L811.6 303L811 300L810.4 297.1L809.6 294.2L808.9 291.2L808 288.3L807.1 285.3L806.1 282.4L805.1 279.5L804 276.6L802.9 273.7L801.6 270.8L800.3 267.9L799 265L797.6 262.1L796.1 259.2L794.6 256.4L793 253.5L791.3 250.6L789.6 247.8L787.8 245L785.9 242.1L784 239.3L782 236.5L779.9 233.7L777.8 230.9L775.6 228.2L773.3 225.4L771 222.7L768.6 219.9L766.1 217.2L763.6 214.5L761 211.8L758.3 209.1L755.6 206.4L752.7 203.8L749.9 201.2L746.9 198.5L743.9 195.9L740.8 193.4L737.6 190.8L734.4 188.2L731 185.7L727.6 183.2L724.1 180.7L720.6 178.2L716.9 175.8L713.2 173.3L709.4 170.9L705.5 168.5L701.6 166.2L697.5 163.8L693.4 161.5L689.1 159.2L684.8 156.9L680.4 154.7L675.8 152.5L671.2 150.3L666.5 148.1L661.7 146L656.7 143.9L651.7 141.8L646.5 139.8L641.2 137.8L635.8 135.8L630.2 133.9L624.5 132L618.6 130.1L612.6 128.3L606.5 126.5L600.1 124.8L593.6 123.2L586.8 121.5L579.9 120L572.7 118.5L565.3 117L557.6 115.6L549.7 114.4L541.4 113.2L533 112.1L524.4 111.2L515.9 110.4L507.7 109.9L500.4 109.7L494.2 109.8L488.9 110.2L484.4 110.8L480.5 111.7M569.8 534.3L569.2 533.8L570.4 533.1L572.7 532.2L575.7 531.2L579.1 530L582.9 528.8L586.8 527.5L590.8 526.1L594.9 524.6L598.9 523L602.9 521.4L606.9 519.8L610.9 518.1L614.7 516.3L618.6 514.5L622.3 512.6L626 510.8L629.7 508.8L633.2 506.9L636.7 504.9L640.2 502.8L643.5 500.8L646.8 498.7L650.1 496.5L653.3 494.4L656.4 492.2L659.4 490L662.4 487.7L665.3 485.5L668.2 483.2L671 480.9L673.7 478.5L676.4 476.1L679 473.8L681.6 471.3L684.1 468.9L686.5 466.5L688.9 464L691.2 461.5L693.5 459L695.7 456.4L697.9 453.9L700 451.3L702.1 448.7L704.1 446.1L706 443.5L707.9 440.9L709.8 438.2L711.6 435.6L713.3 432.9L715 430.2L716.6 427.5L718.2 424.8L719.7 422L721.2 419.3L722.6 416.5L724 413.8L725.3 411L726.6 408.2L727.8 405.4L729 402.6L730.1 399.7L731.2 396.9L732.2 394.1L733.2 391.2L734.1 388.4L735 385.5L735.8 382.6L736.6 379.7L737.3 376.8L738 373.9L738.6 371L739.2 368.1L739.8 365.2L740.2 362.3L740.7 359.4L741.1 356.5L741.4 353.5L741.7 350.6L741.9 347.7L742.1 344.7L742.2 341.8L742.3 338.8L742.4 335.9L742.3 332.9L742.3 330L742.2 327L742 324.1L741.8 321.1L741.6 318.2L741.3 315.2L740.9 312.3L740.5 309.3L740.1 306.4L739.6 303.4L739 300.5L738.4 297.6L737.8 294.6L737.1 291.7L736.4 288.8L735.6 285.8L734.7 282.9L733.8 280L732.9 277.1L731.9 274.2L730.9 271.3L729.8 268.4L728.6 265.5L727.4 262.6L726.2 259.8L724.9 256.9L723.6 254L722.2 251.2L720.8 248.3L719.3 245.5L717.7 242.7L716.1 239.9L714.5 237.1L712.8 234.3L711 231.5L709.2 228.7L707.4 226L705.5 223.3L703.5 220.5L701.5 217.8L699.4 215.1L697.3 212.4L695.2 209.7L692.9 207.1L690.6 204.4L688.3 201.8L685.9 199.2L683.5 196.6L680.9 194L678.4 191.4L675.8 188.9L673.1 186.4L670.3 183.9L667.5 181.4L664.7 178.9L661.7 176.4L658.7 174L655.7 171.6L652.5 169.2L649.4 166.9L646.1 164.5L642.8 162.2L639.4 159.9L635.9 157.7L632.4 155.4L628.7 153.2L625 151L621.3 148.9L617.4 146.8L613.4 144.7L609.4 142.6L605.3 140.6L601.1 138.6L596.7 136.7L592.3 134.7L587.8 132.9L583.1 131L578.4 129.2L573.5 127.5L568.5 125.8L563.3 124.1L558 122.6L552.6 121L547 119.6L541.2 118.2L535.3 116.9L529.3 115.6L523.1 114.5L516.7 113.5L510.4 112.7L504 112L497.8 111.6L491.8 111.4L486 111.4L480.5 111.7M569.8 534.3L563 534.4L558.5 534.3L556 533.9L555.2 533.3L555.7 532.6L556.9 531.6L558.7 530.6L560.9 529.4L563.2 528.1L565.8 526.8L568.4 525.3L571.1 523.8L573.8 522.3L576.5 520.6L579.2 519L581.8 517.2L584.5 515.5L587.1 513.6L589.6 511.8L592.1 509.9L594.6 507.9L597.1 506L599.5 504L601.8 501.9L604.1 499.8L606.4 497.7L608.6 495.6L610.8 493.4L612.9 491.2L615 489L617.1 486.7L619.1 484.5L621.1 482.2L623 479.8L624.9 477.5L626.7 475.1L628.5 472.7L630.3 470.3L632 467.9L633.7 465.4L635.3 462.9L636.9 460.4L638.5 457.9L640 455.4L641.5 452.8L642.9 450.2L644.3 447.6L645.7 445L647 442.4L648.3 439.8L649.6 437.1L650.8 434.4L652 431.7L653.1 429L654.2 426.3L655.3 423.6L656.3 420.9L657.3 418.1L658.2 415.4L659.1 412.6L660 409.8L660.9 407L661.7 404.2L662.4 401.4L663.2 398.5L663.9 395.7L664.5 392.9L665.2 390L665.8 387.2L666.3 384.3L666.8 381.4L667.3 378.5L667.8 375.6L668.2 372.7L668.6 369.8L668.9 366.9L669.2 364L669.5 361.1L669.7 358.2L669.9 355.2L670.1 352.3L670.2 349.4L670.3 346.4L670.4 343.5L670.4 340.6L670.4 337.6L670.3 334.7L670.2 331.7L670.1 328.8L670 325.8L669.8 322.9L669.5 319.9L669.3 317L669 314L668.7 311.1L668.3 308.1L667.9 305.2L667.5 302.2L667 299.3L666.5 296.4L665.9 293.4L665.4 290.5L664.7 287.6L664.1 284.7L663.4 281.7L662.7 278.8L661.9 275.9L661.1 273L660.3 270.1L659.4 267.2L658.5 264.3L657.6 261.5L656.6 258.6L655.6 255.7L654.6 252.9L653.5 250L652.4 247.2L651.2 244.4L650 241.6L648.8 238.8L647.5 236L646.2 233.2L644.9 230.4L643.5 227.6L642.1 224.9L640.6 222.2L639.1 219.4L637.6 216.7L636 214L634.4 211.3L632.7 208.7L631 206L629.3 203.4L627.5 200.7L625.7 198.1L623.8 195.6L621.9 193L620 190.4L618 187.9L616 185.4L613.9 182.9L611.8 180.4L609.6 177.9L607.4 175.5L605.2 173.1L602.8 170.7L600.5 168.3L598.1 166L595.6 163.6L593.1 161.3L590.6 159.1L587.9 156.8L585.3 154.6L582.5 152.4L579.8 150.2L576.9 148.1L574 146L571 143.9L568 141.9L564.8 139.9L561.7 137.9L558.4 135.9L555 134.1L551.6 132.2L548.1 130.4L544.5 128.6L540.8 126.9L536.9 125.2L533 123.6L528.9 122L524.8 120.5L520.4 119.1L516 117.8L511.4 116.5L506.6 115.3L501.7 114.3L496.6 113.4L491.4 112.6L486 112L480.5 111.7M569.8 534.3L558.1 535.1L547.8 535.6L539.5 535.8L533.9 535.7L530.6 535.4L529.2 534.8L529 534L529.6 533L530.6 531.9L531.9 530.7L533.4 529.4L535 528L536.6 526.5L538.2 525L539.9 523.4L541.6 521.8L543.2 520.1L544.8 518.4L546.5 516.6L548.1 514.8L549.6 512.9L551.2 511L552.7 509.1L554.2 507.1L555.7 505.1L557.1 503L558.5 500.9L559.9 498.8L561.3 496.7L562.6 494.5L563.9 492.3L565.2 490.1L566.4 487.8L567.7 485.6L568.9 483.2L570 480.9L571.2 478.6L572.3 476.2L573.4 473.8L574.5 471.4L575.5 468.9L576.5 466.5L577.5 464L578.5 461.5L579.4 459L580.4 456.4L581.2 453.9L582.1 451.3L583 448.7L583.8 446.1L584.6 443.5L585.4 440.8L586.1 438.2L586.9 435.5L587.6 432.8L588.2 430.1L588.9 427.4L589.5 424.7L590.2 421.9L590.8 419.2L591.3 416.4L591.9 413.6L592.4 410.9L592.9 408.1L593.4 405.2L593.8 402.4L594.3 399.6L594.7 396.8L595.1 393.9L595.4 391.1L595.8 388.2L596.1 385.3L596.4 382.4L596.7 379.6L596.9 376.7L597.2 373.8L597.4 370.9L597.6 368L597.7 365L597.9 362.1L598 359.2L598.1 356.3L598.2 353.3L598.2 350.4L598.3 347.4L598.3 344.5L598.3 341.6L598.2 338.6L598.2 335.7L598.1 332.7L598 329.8L597.9 326.8L597.7 323.8L597.6 320.9L597.4 317.9L597.2 315L597 312L596.7 309.1L596.4 306.1L596.2 303.2L595.8 300.2L595.5 297.3L595.1 294.4L594.8 291.4L594.3 288.5L593.9 285.6L593.5 282.6L593 279.7L592.5 276.8L592 273.9L591.5 271L590.9 268.1L590.3 265.2L589.7 262.3L589.1 259.4L588.4 256.6L587.8 253.7L587.1 250.9L586.3 248L585.6 245.2L584.8 242.4L584 239.5L583.2 236.7L582.4 233.9L581.5 231.2L580.7 228.4L579.7 225.6L578.8 222.9L577.9 220.2L576.9 217.4L575.9 214.7L574.8 212L573.8 209.3L572.7 206.7L571.6 204L570.5 201.4L569.3 198.8L568.1 196.2L566.9 193.6L565.7 191L564.4 188.5L563.2 185.9L561.8 183.4L560.5 180.9L559.1 178.5L557.7 176L556.3 173.6L554.8 171.2L553.3 168.8L551.8 166.4L550.2 164.1L548.6 161.8L547 159.5L545.3 157.2L543.6 155L541.9 152.7L540.1 150.6L538.3 148.4L536.5 146.3L534.5 144.2L532.6 142.1L530.6 140.1L528.6 138.1L526.5 136.1L524.3 134.2L522.1 132.3L519.8 130.4L517.5 128.6L515.1 126.9L512.6 125.2L510 123.5L507.3 121.9L504.5 120.3L501.6 118.8L498.6 117.4L495.4 116L492 114.8L488.4 113.6L484.6 112.6L480.5 111.7M569.8 534.3L556.4 535.5L542.3 536.5L527.6 537.3L513.8 537.8L504.1 537.9L500.1 537.6L498.9 536.9L498.8 535.9L499.1 534.9L499.6 533.7L500.1 532.4L500.8 531L501.5 529.6L502.1 528.1L502.8 526.6L503.5 525L504.1 523.3L504.8 521.6L505.5 519.9L506.1 518.1L506.7 516.2L507.4 514.4L508 512.4L508.6 510.5L509.1 508.5L509.7 506.5L510.3 504.4L510.8 502.4L511.4 500.2L511.9 498.1L512.4 495.9L512.9 493.7L513.4 491.5L513.9 489.2L514.4 487L514.9 484.7L515.3 482.3L515.8 480L516.2 477.6L516.6 475.2L517 472.8L517.4 470.3L517.8 467.9L518.2 465.4L518.6 462.9L518.9 460.4L519.3 457.8L519.7 455.3L520 452.7L520.3 450.1L520.6 447.5L520.9 444.9L521.2 442.2L521.5 439.6L521.8 436.9L522.1 434.2L522.3 431.5L522.6 428.8L522.8 426.1L523.1 423.3L523.3 420.6L523.5 417.8L523.7 415L523.9 412.3L524.1 409.5L524.3 406.7L524.5 403.8L524.7 401L524.8 398.2L525 395.3L525.1 392.5L525.2 389.6L525.4 386.7L525.5 383.8L525.6 380.9L525.7 378.1L525.8 375.1L525.8 372.2L525.9 369.3L526 366.4L526 363.5L526.1 360.6L526.1 357.6L526.1 354.7L526.1 351.7L526.2 348.8L526.2 345.8L526.2 342.9L526.1 339.9L526.1 337L526.1 334L526 331.1L526 328.1L525.9 325.2L525.9 322.2L525.8 319.2L525.7 316.3L525.6 313.3L525.5 310.4L525.4 307.4L525.3 304.5L525.2 301.5L525 298.6L524.9 295.6L524.7 292.7L524.6 289.7L524.4 286.8L524.2 283.9L524 280.9L523.9 278L523.6 275.1L523.4 272.2L523.2 269.3L523 266.4L522.7 263.5L522.5 260.6L522.2 257.7L522 254.9L521.7 252L521.4 249.1L521.1 246.3L520.8 243.5L520.5 240.6L520.2 237.8L519.9 235L519.5 232.2L519.2 229.4L518.8 226.7L518.5 223.9L518.1 221.2L517.7 218.4L517.3 215.7L516.9 213L516.5 210.3L516.1 207.6L515.6 205L515.2 202.3L514.8 199.7L514.3 197.1L513.8 194.5L513.3 191.9L512.8 189.3L512.3 186.8L511.8 184.3L511.3 181.7L510.8 179.2L510.2 176.8L509.6 174.3L509.1 171.9L508.5 169.5L507.9 167.1L507.3 164.7L506.6 162.4L506 160.1L505.3 157.8L504.7 155.5L504 153.3L503.3 151.1L502.6 148.9L501.8 146.7L501.1 144.6L500.3 142.5L499.5 140.4L498.7 138.4L497.9 136.4L497 134.4L496.2 132.5L495.3 130.6L494.3 128.8L493.4 127L492.4 125.2L491.3 123.5L490.2 121.8L489.1 120.2L487.9 118.6L486.6 117.1L485.3 115.6L483.8 114.2L482.2 112.9L480.5 111.7M391.2 534.3L404.4 535.5L418.6 536.6L434.1 537.5L450.9 538.2L464.7 538.5L469.2 538.1L470 537.3L470.1 536.4L469.9 535.3L469.6 534.1L469.2 532.8L468.8 531.5L468.4 530L468.1 528.5L467.7 527L467.3 525.4L466.9 523.7L466.5 522L466.1 520.3L465.7 518.5L465.4 516.7L465 514.8L464.6 512.9L464.3 510.9L464 508.9L463.6 506.9L463.3 504.9L463 502.8L462.7 500.7L462.4 498.6L462.1 496.4L461.8 494.2L461.5 492L461.2 489.7L460.9 487.4L460.6 485.1L460.4 482.8L460.1 480.5L459.9 478.1L459.6 475.7L459.4 473.3L459.1 470.8L458.9 468.4L458.7 465.9L458.5 463.4L458.3 460.9L458.1 458.3L457.9 455.8L457.7 453.2L457.5 450.6L457.3 448L457.1 445.4L456.9 442.8L456.8 440.1L456.6 437.4L456.4 434.7L456.3 432L456.1 429.3L456 426.6L455.9 423.9L455.7 421.1L455.6 418.4L455.5 415.6L455.4 412.8L455.3 410L455.1 407.2L455 404.4L454.9 401.5L454.9 398.7L454.8 395.8L454.7 393L454.6 390.1L454.5 387.3L454.5 384.4L454.4 381.5L454.4 378.6L454.3 375.7L454.3 372.8L454.2 369.9L454.2 366.9L454.2 364L454.1 361.1L454.1 358.2L454.1 355.2L454.1 352.3L454.1 349.3L454.1 346.4L454.1 343.4L454.1 340.5L454.1 337.5L454.1 334.6L454.1 331.6L454.2 328.6L454.2 325.7L454.2 322.7L454.3 319.8L454.3 316.8L454.4 313.8L454.4 310.9L454.5 307.9L454.6 305L454.6 302L454.7 299.1L454.8 296.1L454.9 293.2L455 290.2L455.1 287.3L455.2 284.4L455.3 281.4L455.4 278.5L455.5 275.6L455.6 272.7L455.8 269.8L455.9 266.9L456 264L456.2 261.1L456.3 258.2L456.5 255.4L456.6 252.5L456.8 249.6L457 246.8L457.1 244L457.3 241.1L457.5 238.3L457.7 235.5L457.9 232.7L458.1 229.9L458.3 227.1L458.5 224.4L458.7 221.6L458.9 218.9L459.2 216.2L459.4 213.5L459.6 210.8L459.9 208.1L460.1 205.4L460.4 202.8L460.7 200.1L460.9 197.5L461.2 194.9L461.5 192.3L461.8 189.7L462 187.2L462.3 184.7L462.7 182.1L463 179.6L463.3 177.2L463.6 174.7L463.9 172.3L464.3 169.9L464.6 167.5L465 165.1L465.3 162.8L465.7 160.4L466.1 158.1L466.5 155.9L466.9 153.6L467.3 151.4L467.7 149.2L468.1 147.1L468.5 144.9L469 142.8L469.4 140.7L469.9 138.7L470.4 136.7L470.9 134.7L471.4 132.8L471.9 130.9L472.5 129L473 127.2L473.6 125.4L474.2 123.7L474.8 122L475.5 120.3L476.2 118.7L476.9 117.2L477.7 115.7L478.6 114.3L479.5 112.9L480.5 111.7M391.2 534.3L403.7 535.2L415.4 535.8L425.4 536.2L432.8 536.3L437.3 536.1L439.4 535.6L440 534.8L439.8 533.9L439 532.8L437.9 531.6L436.7 530.4L435.4 529L434.1 527.5L432.7 526L431.3 524.5L429.9 522.8L428.5 521.2L427.1 519.5L425.7 517.7L424.4 515.9L423 514L421.7 512.1L420.4 510.2L419.2 508.2L417.9 506.2L416.7 504.2L415.5 502.1L414.4 500L413.2 497.9L412.1 495.7L411 493.5L409.9 491.3L408.9 489.1L407.8 486.8L406.8 484.5L405.8 482.2L404.9 479.8L403.9 477.5L403 475.1L402.1 472.7L401.2 470.2L400.4 467.8L399.5 465.3L398.7 462.8L397.9 460.3L397.1 457.8L396.4 455.2L395.6 452.6L394.9 450.1L394.2 447.5L393.6 444.8L392.9 442.2L392.3 439.6L391.7 436.9L391.1 434.2L390.5 431.5L389.9 428.8L389.4 426.1L388.9 423.3L388.4 420.6L387.9 417.8L387.4 415.1L387 412.3L386.6 409.5L386.2 406.7L385.8 403.9L385.4 401L385.1 398.2L384.7 395.4L384.4 392.5L384.1 389.6L383.8 386.8L383.6 383.9L383.4 381L383.1 378.1L382.9 375.2L382.8 372.3L382.6 369.4L382.5 366.5L382.3 363.6L382.2 360.7L382.1 357.7L382.1 354.8L382 351.8L382 348.9L382 346L382 343L382 340.1L382 337.1L382.1 334.2L382.2 331.2L382.3 328.3L382.4 325.3L382.5 322.3L382.7 319.4L382.8 316.4L383 313.5L383.2 310.5L383.4 307.6L383.7 304.6L383.9 301.7L384.2 298.7L384.5 295.8L384.8 292.8L385.2 289.9L385.5 287L385.9 284L386.3 281.1L386.7 278.2L387.1 275.3L387.6 272.4L388 269.5L388.5 266.6L389 263.7L389.5 260.8L390.1 257.9L390.6 255.1L391.2 252.2L391.8 249.4L392.4 246.5L393.1 243.7L393.7 240.9L394.4 238.1L395.1 235.3L395.8 232.5L396.6 229.7L397.3 226.9L398.1 224.2L398.9 221.4L399.7 218.7L400.5 216L401.4 213.3L402.3 210.6L403.2 207.9L404.1 205.3L405 202.6L406 200L407 197.4L408 194.8L409 192.2L410.1 189.6L411.1 187.1L412.2 184.6L413.3 182.1L414.5 179.6L415.7 177.1L416.9 174.7L418.1 172.3L419.3 169.9L420.6 167.5L421.9 165.1L423.2 162.8L424.6 160.5L426 158.2L427.4 155.9L428.8 153.7L430.3 151.5L431.8 149.3L433.4 147.2L435 145.1L436.6 143L438.3 140.9L440 138.9L441.7 136.9L443.5 134.9L445.4 133L447.3 131.2L449.2 129.3L451.3 127.5L453.4 125.8L455.5 124.1L457.8 122.4L460.1 120.8L462.5 119.3L465.1 117.8L467.8 116.4L470.6 115.1L473.7 113.8L476.9 112.7L480.5 111.7M391.2 534.3L399.5 534.6L405.6 534.6L409.5 534.4L411.4 534L411.9 533.3L411.4 532.5L410.1 531.5L408.4 530.4L406.4 529.1L404.3 527.8L402 526.4L399.6 525L397.2 523.4L394.8 521.9L392.4 520.2L390 518.5L387.7 516.8L385.3 515L383 513.1L380.7 511.3L378.5 509.3L376.3 507.4L374.1 505.4L372 503.4L369.9 501.3L367.9 499.2L365.9 497.1L363.9 495L362 492.8L360.1 490.6L358.2 488.3L356.4 486.1L354.6 483.8L352.9 481.5L351.2 479.1L349.5 476.8L347.9 474.4L346.3 472L344.7 469.6L343.2 467.1L341.7 464.6L340.3 462.1L338.9 459.6L337.5 457.1L336.2 454.6L334.9 452L333.6 449.4L332.3 446.8L331.1 444.2L330 441.6L328.8 438.9L327.7 436.3L326.7 433.6L325.6 430.9L324.6 428.2L323.7 425.5L322.8 422.7L321.9 420L321 417.3L320.2 414.5L319.4 411.7L318.6 408.9L317.9 406.1L317.1 403.3L316.5 400.5L315.8 397.7L315.2 394.8L314.7 392L314.1 389.1L313.6 386.2L313.1 383.4L312.7 380.5L312.3 377.6L311.9 374.7L311.6 371.8L311.2 368.9L311 366L310.7 363.1L310.5 360.2L310.3 357.2L310.2 354.3L310 351.4L309.9 348.4L309.9 345.5L309.8 342.6L309.8 339.6L309.9 336.7L310 333.7L310 330.8L310.2 327.8L310.3 324.9L310.5 321.9L310.8 319L311 316L311.3 313.1L311.6 310.1L312 307.2L312.4 304.2L312.8 301.3L313.2 298.3L313.7 295.4L314.2 292.5L314.8 289.5L315.3 286.6L315.9 283.7L316.6 280.8L317.3 277.9L318 275L318.7 272.1L319.5 269.2L320.3 266.3L321.1 263.4L322 260.5L322.9 257.6L323.8 254.8L324.8 251.9L325.8 249.1L326.8 246.3L327.9 243.4L329 240.6L330.1 237.8L331.3 235L332.5 232.2L333.7 229.5L335 226.7L336.3 224L337.6 221.2L339 218.5L340.4 215.8L341.8 213.1L343.3 210.4L344.8 207.8L346.4 205.1L347.9 202.5L349.6 199.9L351.2 197.3L352.9 194.7L354.7 192.1L356.4 189.6L358.2 187L360.1 184.5L362 182L363.9 179.5L365.9 177.1L367.9 174.7L370 172.2L372.1 169.9L374.2 167.5L376.4 165.1L378.7 162.8L381 160.5L383.3 158.3L385.7 156L388.1 153.8L390.6 151.6L393.2 149.5L395.8 147.3L398.4 145.2L401.2 143.2L403.9 141.1L406.8 139.1L409.7 137.2L412.7 135.2L415.8 133.4L418.9 131.5L422.2 129.7L425.5 127.9L428.9 126.2L432.4 124.6L436.1 123L439.8 121.4L443.7 119.9L447.7 118.5L451.9 117.2L456.2 116L460.7 114.8L465.3 113.8L470.2 112.9L475.2 112.2L480.5 111.7M307 484.7L305.2 484.5L303.4 484.3L301.7 484.1L299.9 483.9L298.1 483.7L296.4 483.5L294.6 483.4L292.8 483.2L291.1 483L289.3 482.8L287.6 482.6L285.8 482.5L284 482.3L282.3 482.1L280.5 481.9L278.8 481.8L277 481.6L275.3 481.4L273.6 481.3L271.8 481.1L270.1 480.9L268.3 480.8L266.6 480.6L264.9 480.5L263.2 480.3L261.4 480.2L259.7 480L258 479.9L256.3 479.7L254.6 479.6L252.8 479.4L251.1 479.3L249.4 479.2L247.7 479L246 478.9L244.3 478.8L242.6 478.7L241 478.5L239.3 478.4L237.6 478.3L235.9 478.2L234.3 478.1L232.6 478L230.9 477.8L229.3 477.7L227.6 477.6L226 477.5L224.3 477.4L222.7 477.3L221 477.3L219.4 477.2L217.8 477.1L216.1 477L214.5 476.9L212.9 476.8L211.3 476.8L209.7 476.7L208.1 476.6L206.5 476.6L204.9 476.5L203.3 476.5L201.8 476.4L200.2 476.3L198.6 476.3L197 476.2L195.5 476.2L193.9 476.2L192.4 476.1L190.9 476.1L189.3 476.1L187.8 476L186.3 476L184.8 476L183.2 476L181.7 476L180.2 476L178.8 475.9L177.3 475.9L175.8 475.9M783.7 475.9L782.2 475.9L780.8 476L779.3 476L777.8 476L776.2 476L774.7 476L773.2 476L771.7 476.1L770.1 476.1L768.6 476.1L767.1 476.2L765.5 476.2L764 476.2L762.4 476.3L760.8 476.3L759.2 476.4L757.7 476.5L756.1 476.5L754.5 476.6L752.9 476.6L751.3 476.7L749.7 476.8L748.1 476.8L746.5 476.9L744.9 477L743.2 477.1L741.6 477.2L740 477.3L738.3 477.3L736.7 477.4L735 477.5L733.4 477.6L731.7 477.7L730.1 477.8L728.4 478L726.7 478.1L725.1 478.2L723.4 478.3L721.7 478.4L720 478.5L718.4 478.7L716.7 478.8L715 478.9L713.3 479L711.6 479.2L709.9 479.3L708.2 479.4L706.4 479.6L704.7 479.7L703 479.9L701.3 480L699.6 480.2L697.8 480.3L696.1 480.5L694.4 480.6L692.7 480.8L690.9 480.9L689.2 481.1L687.4 481.3L685.7 481.4L684 481.6L682.2 481.8L680.5 481.9L678.7 482.1L677 482.3L675.2 482.5L673.4 482.6L671.7 482.8L669.9 483L668.2 483.2L666.4 483.4L664.6 483.5L662.9 483.7L661.1 483.9L659.3 484.1L657.6 484.3L655.8 484.5L654 484.7L652.3 484.9L650.5 485.1L648.7 485.2L647 485.4L645.2 485.6L643.4 485.8L641.6 486L639.9 486.2L638.1 486.4L636.3 486.6L634.5 486.8L632.8 487L631 487.2L629.2 487.4L627.4 487.6L625.7 487.8L623.9 488L622.1 488.2L620.4 488.4L618.6 488.6L616.8 488.8L615 489L613.3 489.2L611.5 489.4L609.7 489.6L608 489.8L606.2 490L604.4 490.2L602.7 490.4L600.9 490.6L599.2 490.8L597.4 491L595.6 491.1L593.9 491.3L592.1 491.5L590.4 491.7L588.6 491.9L586.9 492.1L585.1 492.3L583.4 492.4L581.7 492.6L579.9 492.8L578.2 493L576.4 493.2L574.7 493.3L573 493.5L571.2 493.7L569.5 493.9L567.8 494L566 494.2L564.3 494.3L562.6 494.5L560.9 494.7L559.2 494.8L557.4 495L555.7 495.1L554 495.3L552.3 495.4L550.6 495.6L548.9 495.7L547.2 495.9L545.5 496L543.8 496.1L542.1 496.3L540.4 496.4L538.7 496.5L537 496.6L535.3 496.8L533.7 496.9L532 497L530.3 497.1L528.6 497.2L526.9 497.3L525.3 497.4L523.6 497.5L521.9 497.6L520.2 497.7L518.6 497.8L516.9 497.9L515.2 497.9L513.6 498L511.9 498.1L510.2 498.2L508.6 498.2L506.9 498.3L505.3 498.4L503.6 498.4L502 498.5L500.3 498.5L498.6 498.6L497 498.6L495.3 498.6L493.7 498.7L492 498.7L490.4 498.7L488.7 498.7L487.1 498.8L485.4 498.8L483.8 498.8L482.1 498.8L480.5 498.8L478.9 498.8L477.2 498.8L475.6 498.8L473.9 498.8L472.3 498.7L470.6 498.7L469 498.7L467.3 498.7L465.7 498.6L464 498.6L462.4 498.6L460.7 498.5L459 498.5L457.4 498.4L455.7 498.4L454.1 498.3L452.4 498.2L450.8 498.2L449.1 498.1L447.4 498L445.8 497.9L444.1 497.9L442.4 497.8L440.8 497.7L439.1 497.6L437.4 497.5L435.7 497.4L434.1 497.3L432.4 497.2L430.7 497.1L429 497L427.3 496.9L425.7 496.8L424 496.6L422.3 496.5L420.6 496.4L418.9 496.3L417.2 496.1L415.5 496L413.8 495.9L412.1 495.7L410.4 495.6L408.7 495.4L407 495.3L405.3 495.1L403.6 495L401.8 494.8L400.1 494.7L398.4 494.5L396.7 494.3L395 494.2L393.2 494L391.5 493.9L389.8 493.7L388 493.5L386.3 493.3L384.6 493.2L382.8 493L381.1 492.8L379.3 492.6L377.6 492.4L375.9 492.3L374.1 492.1L372.4 491.9L370.6 491.7L368.9 491.5L367.1 491.3L365.4 491.1L363.6 491L361.8 490.8L360.1 490.6L358.3 490.4L356.6 490.2L354.8 490L353 489.8L351.3 489.6L349.5 489.4L347.7 489.2L346 489L344.2 488.8L342.4 488.6L340.6 488.4L338.9 488.2L337.1 488L335.3 487.8L333.6 487.6L331.8 487.4L330 487.2L328.2 487L326.5 486.8L324.7 486.6L322.9 486.4L321.1 486.2L319.4 486L317.6 485.8L315.8 485.6L314 485.4L312.3 485.2L310.5 485.1L308.7 484.9L307 484.7M251.5 407.2L249.2 407L246.9 406.8L244.6 406.5L242.3 406.3L240 406.1L237.7 405.8L235.4 405.6L233.2 405.4L230.9 405.1L228.6 404.9L226.3 404.7L224 404.5L221.7 404.3L219.4 404L217.2 403.8L214.9 403.6L212.6 403.4L210.3 403.2L208.1 403L205.8 402.8L203.5 402.6L201.2 402.3L199 402.1L196.7 402L194.4 401.8L192.1 401.6L189.9 401.4L187.6 401.2L185.3 401L183.1 400.8L180.8 400.6L178.5 400.5L176.3 400.3L174 400.1L171.8 399.9L169.5 399.8L167.3 399.6L165 399.5L162.8 399.3L160.5 399.2L158.3 399L156 398.9L153.8 398.7L151.5 398.6L149.3 398.4L147 398.3L144.8 398.2L142.6 398.1L140.3 397.9L138.1 397.8L135.9 397.7L133.7 397.6L131.4 397.5L129.2 397.4L127 397.3L124.8 397.2L122.6 397.1L120.3 397L118.1 396.9L115.9 396.9L113.7 396.8L111.5 396.7L109.3 396.6L107.1 396.6L104.9 396.5L102.7 396.5L100.5 396.4L98.4 396.4L96.2 396.3L94 396.3L91.8 396.2L89.6 396.2L87.5 396.2L85.3 396.2L83.1 396.2L81 396.1L78.8 396.1L76.6 396.1L74.5 396.1M884.4 396.1L882.2 396.1L880 396.1L877.9 396.2L875.7 396.2L873.5 396.2L871.4 396.2L869.2 396.2L867 396.3L864.8 396.3L862.6 396.4L860.5 396.4L858.3 396.5L856.1 396.5L853.9 396.6L851.7 396.6L849.5 396.7L847.3 396.8L845.1 396.9L842.9 396.9L840.7 397L838.4 397.1L836.2 397.2L834 397.3L831.8 397.4L829.6 397.5L827.3 397.6L825.1 397.7L822.9 397.8L820.7 397.9L818.4 398.1L816.2 398.2L814 398.3L811.7 398.4L809.5 398.6L807.2 398.7L805 398.9L802.7 399L800.5 399.2L798.2 399.3L796 399.5L793.7 399.6L791.5 399.8L789.2 399.9L787 400.1L784.7 400.3L782.5 400.5L780.2 400.6L777.9 400.8L775.7 401L773.4 401.2L771.1 401.4L768.9 401.6L766.6 401.8L764.3 402L762 402.1L759.8 402.3L757.5 402.6L755.2 402.8L752.9 403L750.7 403.2L748.4 403.4L746.1 403.6L743.8 403.8L741.6 404L739.3 404.3L737 404.5L734.7 404.7L732.4 404.9L730.1 405.1L727.8 405.4L725.6 405.6L723.3 405.8L721 406.1L718.7 406.3L716.4 406.5L714.1 406.8L711.8 407L709.5 407.2L707.2 407.5L705 407.7L702.7 408L700.4 408.2L698.1 408.4L695.8 408.7L693.5 408.9L691.2 409.2L688.9 409.4L686.6 409.7L684.3 409.9L682 410.1L679.8 410.4L677.5 410.6L675.2 410.9L672.9 411.1L670.6 411.4L668.3 411.6L666 411.9L663.7 412.1L661.4 412.3L659.1 412.6L656.9 412.8L654.6 413.1L652.3 413.3L650 413.5L647.7 413.8L645.4 414L643.1 414.2L640.8 414.5L638.6 414.7L636.3 414.9L634 415.2L631.7 415.4L629.4 415.6L627.1 415.9L624.9 416.1L622.6 416.3L620.3 416.5L618 416.7L615.8 417L613.5 417.2L611.2 417.4L608.9 417.6L606.6 417.8L604.4 418L602.1 418.2L599.8 418.4L597.6 418.6L595.3 418.8L593 419L590.8 419.2L588.5 419.4L586.2 419.6L584 419.7L581.7 419.9L579.4 420.1L577.2 420.3L574.9 420.4L572.6 420.6L570.4 420.8L568.1 420.9L565.9 421.1L563.6 421.2L561.3 421.4L559.1 421.5L556.8 421.7L554.6 421.8L552.3 421.9L550.1 422.1L547.8 422.2L545.6 422.3L543.3 422.4L541.1 422.6L538.8 422.7L536.6 422.8L534.3 422.9L532.1 423L529.8 423.1L527.6 423.2L525.3 423.3L523.1 423.3L520.8 423.4L518.6 423.5L516.4 423.6L514.1 423.6L511.9 423.7L509.6 423.8L507.4 423.8L505.1 423.9L502.9 423.9L500.7 424L498.4 424L496.2 424L493.9 424.1L491.7 424.1L489.5 424.1L487.2 424.1L485 424.1L482.7 424.1L480.5 424.1L478.3 424.1L476 424.1L473.8 424.1L471.5 424.1L469.3 424.1L467.1 424.1L464.8 424L462.6 424L460.3 424L458.1 423.9L455.9 423.9L453.6 423.8L451.4 423.8L449.1 423.7L446.9 423.6L444.6 423.6L442.4 423.5L440.2 423.4L437.9 423.3L435.7 423.3L433.4 423.2L431.2 423.1L428.9 423L426.7 422.9L424.4 422.8L422.2 422.7L419.9 422.6L417.7 422.4L415.4 422.3L413.2 422.2L410.9 422.1L408.7 421.9L406.4 421.8L404.2 421.7L401.9 421.5L399.7 421.4L397.4 421.2L395.1 421.1L392.9 420.9L390.6 420.8L388.4 420.6L386.1 420.4L383.8 420.3L381.6 420.1L379.3 419.9L377 419.7L374.8 419.6L372.5 419.4L370.2 419.2L368 419L365.7 418.8L363.4 418.6L361.2 418.4L358.9 418.2L356.6 418L354.4 417.8L352.1 417.6L349.8 417.4L347.5 417.2L345.2 417L343 416.7L340.7 416.5L338.4 416.3L336.1 416.1L333.9 415.9L331.6 415.6L329.3 415.4L327 415.2L324.7 414.9L322.4 414.7L320.2 414.5L317.9 414.2L315.6 414L313.3 413.8L311 413.5L308.7 413.3L306.4 413.1L304.1 412.8L301.9 412.6L299.6 412.3L297.3 412.1L295 411.9L292.7 411.6L290.4 411.4L288.1 411.1L285.8 410.9L283.5 410.6L281.2 410.4L279 410.1L276.7 409.9L274.4 409.7L272.1 409.4L269.8 409.2L267.5 408.9L265.2 408.7L262.9 408.4L260.6 408.2L258.3 408L256 407.7L253.8 407.5L251.5 407.2M238.5 320.2L236.1 319.9L233.7 319.7L231.3 319.4L229 319.2L226.6 318.9L224.2 318.7L221.8 318.4L219.4 318.2L217 317.9L214.7 317.7L212.3 317.5L209.9 317.2L207.5 317L205.1 316.8L202.8 316.5L200.4 316.3L198 316.1L195.6 315.8L193.2 315.6L190.8 315.4L188.5 315.2L186.1 314.9L183.7 314.7L181.3 314.5L178.9 314.3L176.6 314.1L174.2 313.9L171.8 313.7L169.4 313.5L167 313.3L164.7 313.1L162.3 312.9L159.9 312.7L157.5 312.5L155.1 312.4L152.8 312.2L150.4 312L148 311.8L145.6 311.7L143.2 311.5L140.8 311.3L138.5 311.2L136.1 311L133.7 310.9L131.3 310.7L128.9 310.6L126.5 310.5L124.2 310.3L121.8 310.2L119.4 310.1L117 309.9L114.6 309.8L112.2 309.7L109.8 309.6L107.5 309.5L105.1 309.4L102.7 309.3L100.3 309.2L97.9 309.1L95.5 309L93.1 308.9L90.7 308.9L88.3 308.8L86 308.7L83.6 308.6L81.2 308.6L78.8 308.5L76.4 308.5L74 308.4L71.6 308.4L69.2 308.3L66.8 308.3L64.4 308.3L62 308.3L59.6 308.2L57.2 308.2L54.8 308.2L52.4 308.2L50 308.2M908.6 308.2L906.2 308.2L903.8 308.2L901.4 308.2L899 308.3L896.6 308.3L894.2 308.3L891.8 308.3L889.4 308.4L887 308.4L884.6 308.5L882.2 308.5L879.8 308.6L877.4 308.6L875 308.7L872.7 308.8L870.3 308.9L867.9 308.9L865.5 309L863.1 309.1L860.7 309.2L858.3 309.3L855.9 309.4L853.5 309.5L851.2 309.6L848.8 309.7L846.4 309.8L844 309.9L841.6 310.1L839.2 310.2L836.8 310.3L834.5 310.5L832.1 310.6L829.7 310.7L827.3 310.9L824.9 311L822.5 311.2L820.2 311.3L817.8 311.5L815.4 311.7L813 311.8L810.6 312L808.2 312.2L805.9 312.4L803.5 312.5L801.1 312.7L798.7 312.9L796.3 313.1L794 313.3L791.6 313.5L789.2 313.7L786.8 313.9L784.4 314.1L782.1 314.3L779.7 314.5L777.3 314.7L774.9 314.9L772.5 315.2L770.2 315.4L767.8 315.6L765.4 315.8L763 316.1L760.6 316.3L758.2 316.5L755.9 316.8L753.5 317L751.1 317.2L748.7 317.5L746.3 317.7L744 317.9L741.6 318.2L739.2 318.4L736.8 318.7L734.4 318.9L732 319.2L729.7 319.4L727.3 319.7L724.9 319.9L722.5 320.2L720.1 320.4L717.7 320.7L715.3 320.9L713 321.2L710.6 321.5L708.2 321.7L705.8 322L703.4 322.2L701 322.5L698.6 322.7L696.2 323L693.9 323.3L691.5 323.5L689.1 323.8L686.7 324L684.3 324.3L681.9 324.5L679.5 324.8L677.1 325.1L674.7 325.3L672.4 325.6L670 325.8L667.6 326.1L665.2 326.3L662.8 326.6L660.4 326.8L658 327.1L655.6 327.3L653.2 327.6L650.8 327.8L648.4 328.1L646 328.3L643.6 328.5L641.2 328.8L638.8 329L636.5 329.2L634.1 329.5L631.7 329.7L629.3 329.9L626.9 330.2L624.5 330.4L622.1 330.6L619.7 330.8L617.3 331.1L614.9 331.3L612.5 331.5L610.1 331.7L607.7 331.9L605.3 332.1L602.9 332.3L600.5 332.5L598.1 332.7L595.7 332.9L593.3 333.1L590.9 333.3L588.5 333.5L586.1 333.6L583.7 333.8L581.3 334L578.9 334.2L576.5 334.3L574.1 334.5L571.7 334.7L569.3 334.8L566.9 335L564.5 335.1L562.1 335.3L559.7 335.4L557.3 335.5L554.9 335.7L552.5 335.8L550.1 335.9L547.7 336.1L545.3 336.2L542.9 336.3L540.5 336.4L538.1 336.5L535.7 336.6L533.3 336.7L530.9 336.8L528.5 336.9L526.1 337L523.7 337.1L521.3 337.1L518.9 337.2L516.5 337.3L514.1 337.4L511.7 337.4L509.3 337.5L506.9 337.5L504.5 337.6L502.1 337.6L499.7 337.7L497.3 337.7L494.9 337.7L492.5 337.7L490.1 337.8L487.7 337.8L485.3 337.8L482.9 337.8L480.5 337.8L478.1 337.8L475.7 337.8L473.3 337.8L470.9 337.8L468.5 337.7L466.1 337.7L463.7 337.7L461.3 337.7L458.9 337.6L456.5 337.6L454.1 337.5L451.7 337.5L449.3 337.4L446.9 337.4L444.5 337.3L442.1 337.2L439.7 337.1L437.3 337.1L434.9 337L432.5 336.9L430.1 336.8L427.7 336.7L425.3 336.6L422.9 336.5L420.5 336.4L418.1 336.3L415.7 336.2L413.3 336.1L410.9 335.9L408.5 335.8L406.1 335.7L403.7 335.5L401.3 335.4L398.9 335.3L396.5 335.1L394.1 335L391.7 334.8L389.3 334.7L386.9 334.5L384.5 334.3L382.1 334.2L379.7 334L377.3 333.8L374.9 333.6L372.5 333.5L370.1 333.3L367.7 333.1L365.3 332.9L362.9 332.7L360.5 332.5L358.1 332.3L355.7 332.1L353.3 331.9L350.9 331.7L348.5 331.5L346.1 331.3L343.7 331.1L341.3 330.8L338.9 330.6L336.5 330.4L334.1 330.2L331.7 329.9L329.3 329.7L326.9 329.5L324.5 329.2L322.2 329L319.8 328.8L317.4 328.5L315 328.3L312.6 328.1L310.2 327.8L307.8 327.6L305.4 327.3L303 327.1L300.6 326.8L298.2 326.6L295.8 326.3L293.4 326.1L291 325.8L288.6 325.6L286.3 325.3L283.9 325.1L281.5 324.8L279.1 324.5L276.7 324.3L274.3 324L271.9 323.8L269.5 323.5L267.1 323.3L264.8 323L262.4 322.7L260 322.5L257.6 322.2L255.2 322L252.8 321.7L250.4 321.5L248 321.2L245.7 320.9L243.3 320.7L240.9 320.4L238.5 320.2M266.5 233.4L264.4 233.2L262.4 232.9L260.3 232.7L258.2 232.5L256.2 232.2L254.1 232L252 231.8L250 231.5L247.9 231.3L245.8 231.1L243.8 230.8L241.7 230.6L239.6 230.4L237.6 230.1L235.5 229.9L233.4 229.7L231.4 229.5L229.3 229.3L227.2 229L225.1 228.8L223.1 228.6L221 228.4L218.9 228.2L216.9 228L214.8 227.8L212.7 227.6L210.6 227.4L208.5 227.2L206.5 227L204.4 226.8L202.3 226.6L200.2 226.4L198.1 226.3L196.1 226.1L194 225.9L191.9 225.7L189.8 225.6L187.7 225.4L185.6 225.2L183.5 225.1L181.4 224.9L179.3 224.8L177.2 224.6L175.1 224.5L173 224.3L170.9 224.2L168.7 224.1L166.6 223.9L164.5 223.8L162.4 223.7L160.3 223.6L158.1 223.4L156 223.3L153.9 223.2L151.7 223.1L149.6 223L147.4 222.9L145.3 222.8L143.1 222.7L141 222.7L138.8 222.6L136.6 222.5L134.5 222.4L132.3 222.4L130.1 222.3L127.9 222.2L125.8 222.2L123.6 222.1L121.4 222.1L119.2 222L117 222L114.8 222L112.6 221.9L110.4 221.9L108.1 221.9L105.9 221.9L103.7 221.9L101.5 221.9L99.2 221.9M859.5 221.9L857.3 221.9L855.1 221.9L852.9 221.9L850.6 221.9L848.4 221.9L846.2 222L844 222L841.8 222L839.6 222.1L837.4 222.1L835.2 222.2L833.1 222.2L830.9 222.3L828.7 222.4L826.5 222.4L824.4 222.5L822.2 222.6L820 222.7L817.9 222.7L815.7 222.8L813.6 222.9L811.4 223L809.3 223.1L807.1 223.2L805 223.3L802.9 223.4L800.7 223.6L798.6 223.7L796.5 223.8L794.4 223.9L792.3 224.1L790.1 224.2L788 224.3L785.9 224.5L783.8 224.6L781.7 224.8L779.6 224.9L777.5 225.1L775.4 225.2L773.3 225.4L771.2 225.6L769.1 225.7L767 225.9L764.9 226.1L762.9 226.3L760.8 226.4L758.7 226.6L756.6 226.8L754.5 227L752.5 227.2L750.4 227.4L748.3 227.6L746.2 227.8L744.1 228L742.1 228.2L740 228.4L737.9 228.6L735.9 228.8L733.8 229L731.7 229.3L729.6 229.5L727.6 229.7L725.5 229.9L723.4 230.1L721.4 230.4L719.3 230.6L717.2 230.8L715.2 231.1L713.1 231.3L711 231.5L709 231.8L706.9 232L704.8 232.2L702.8 232.5L700.7 232.7L698.6 232.9L696.6 233.2L694.5 233.4L692.4 233.7L690.4 233.9L688.3 234.1L686.2 234.4L684.1 234.6L682.1 234.9L680 235.1L677.9 235.4L675.8 235.6L673.8 235.9L671.7 236.1L669.6 236.3L667.5 236.6L665.5 236.8L663.4 237.1L661.3 237.3L659.2 237.6L657.1 237.8L655 238L653 238.3L650.9 238.5L648.8 238.8L646.7 239L644.6 239.2L642.5 239.5L640.4 239.7L638.3 239.9L636.2 240.2L634.1 240.4L632 240.6L629.9 240.9L627.8 241.1L625.7 241.3L623.6 241.5L621.5 241.7L619.4 242L617.3 242.2L615.2 242.4L613.1 242.6L611 242.8L608.9 243L606.8 243.2L604.7 243.4L602.6 243.7L600.4 243.9L598.3 244L596.2 244.2L594.1 244.4L592 244.6L589.8 244.8L587.7 245L585.6 245.2L583.5 245.4L581.3 245.5L579.2 245.7L577.1 245.9L575 246.1L572.8 246.2L570.7 246.4L568.6 246.5L566.4 246.7L564.3 246.8L562.2 247L560 247.1L557.9 247.3L555.7 247.4L553.6 247.6L551.5 247.7L549.3 247.8L547.2 247.9L545 248.1L542.9 248.2L540.8 248.3L538.6 248.4L536.5 248.5L534.3 248.6L532.2 248.7L530 248.8L527.9 248.9L525.7 249L523.6 249.1L521.4 249.1L519.3 249.2L517.1 249.3L515 249.4L512.8 249.4L510.7 249.5L508.5 249.5L506.4 249.6L504.2 249.6L502 249.7L499.9 249.7L497.7 249.8L495.6 249.8L493.4 249.8L491.3 249.8L489.1 249.8L487 249.9L484.8 249.9L482.7 249.9L480.5 249.9L478.3 249.9L476.2 249.9L474 249.9L471.9 249.8L469.7 249.8L467.6 249.8L465.4 249.8L463.3 249.8L461.1 249.7L459 249.7L456.8 249.6L454.6 249.6L452.5 249.5L450.3 249.5L448.2 249.4L446 249.4L443.9 249.3L441.7 249.2L439.6 249.1L437.4 249.1L435.3 249L433.1 248.9L431 248.8L428.8 248.7L426.7 248.6L424.5 248.5L422.4 248.4L420.2 248.3L418.1 248.2L416 248.1L413.8 247.9L411.7 247.8L409.5 247.7L407.4 247.6L405.3 247.4L403.1 247.3L401 247.1L398.8 247L396.7 246.8L394.6 246.7L392.4 246.5L390.3 246.4L388.2 246.2L386 246.1L383.9 245.9L381.8 245.7L379.7 245.5L377.5 245.4L375.4 245.2L373.3 245L371.2 244.8L369 244.6L366.9 244.4L364.8 244.2L362.7 244L360.6 243.9L358.4 243.7L356.3 243.4L354.2 243.2L352.1 243L350 242.8L347.9 242.6L345.8 242.4L343.7 242.2L341.6 242L339.5 241.7L337.4 241.5L335.3 241.3L333.2 241.1L331.1 240.9L329 240.6L326.9 240.4L324.8 240.2L322.7 239.9L320.6 239.7L318.5 239.5L316.4 239.2L314.3 239L312.2 238.8L310.1 238.5L308 238.3L306 238L303.9 237.8L301.8 237.6L299.7 237.3L297.6 237.1L295.5 236.8L293.5 236.6L291.4 236.3L289.3 236.1L287.2 235.9L285.2 235.6L283.1 235.4L281 235.1L278.9 234.9L276.9 234.6L274.8 234.4L272.7 234.1L270.6 233.9L268.6 233.7L266.5 233.4M339 157L337.7 156.8L336.4 156.6L335.1 156.4L333.8 156.2L332.5 156L331.2 155.8L329.9 155.6L328.6 155.4L327.4 155.2L326.1 155L324.8 154.9L323.5 154.7L322.2 154.5L320.9 154.3L319.7 154.1L318.4 153.9L317.1 153.7L315.8 153.6L314.5 153.4L313.2 153.2L311.9 153L310.7 152.8L309.4 152.7L308.1 152.5L306.8 152.3L305.5 152.1L304.2 152L302.9 151.8L301.6 151.7L300.3 151.5L299 151.3L297.7 151.2L296.4 151L295.1 150.9L293.7 150.7L292.4 150.6L291.1 150.4L289.8 150.3L288.4 150.1L287.1 150L285.8 149.9L284.4 149.7L283.1 149.6L281.7 149.5L280.4 149.4L279 149.2L277.6 149.1L276.3 149L274.9 148.9L273.5 148.8L272.1 148.7L270.7 148.6L269.3 148.5L267.9 148.4L266.5 148.3L265 148.2L263.6 148.1L262.1 148.1L260.7 148L259.2 147.9L257.8 147.8L256.3 147.8L254.8 147.7L253.3 147.6L251.8 147.6L250.3 147.5L248.8 147.5L247.2 147.4L245.7 147.4L244.2 147.4L242.6 147.3L241 147.3L239.4 147.3L237.9 147.3L236.3 147.2L234.6 147.2L233 147.2L231.4 147.2L229.8 147.2M729.6 147.2L728 147.2L726.4 147.2L724.7 147.2L723.1 147.3L721.6 147.3L720 147.3L718.4 147.3L716.8 147.4L715.3 147.4L713.8 147.4L712.2 147.5L710.7 147.5L709.2 147.6L707.7 147.6L706.2 147.7L704.7 147.8L703.2 147.8L701.8 147.9L700.3 148L698.9 148.1L697.4 148.1L696 148.2L694.5 148.3L693.1 148.4L691.7 148.5L690.3 148.6L688.9 148.7L687.5 148.8L686.1 148.9L684.7 149L683.4 149.1L682 149.2L680.6 149.4L679.3 149.5L677.9 149.6L676.6 149.7L675.2 149.9L673.9 150L672.6 150.1L671.2 150.3L669.9 150.4L668.6 150.6L667.3 150.7L665.9 150.9L664.6 151L663.3 151.2L662 151.3L660.7 151.5L659.4 151.7L658.1 151.8L656.8 152L655.5 152.1L654.2 152.3L652.9 152.5L651.6 152.7L650.3 152.8L649.1 153L647.8 153.2L646.5 153.4L645.2 153.6L643.9 153.7L642.6 153.9L641.3 154.1L640.1 154.3L638.8 154.5L637.5 154.7L636.2 154.9L634.9 155L633.6 155.2L632.4 155.4L631.1 155.6L629.8 155.8L628.5 156L627.2 156.2L625.9 156.4L624.6 156.6L623.3 156.8L622 157L620.8 157.2L619.5 157.4L618.2 157.6L616.9 157.8L615.6 158L614.3 158.2L612.9 158.4L611.6 158.6L610.3 158.8L609 159L607.7 159.2L606.4 159.4L605.1 159.6L603.8 159.8L602.4 160L601.1 160.2L599.8 160.4L598.5 160.6L597.1 160.8L595.8 160.9L594.5 161.1L593.1 161.3L591.8 161.5L590.4 161.7L589.1 161.9L587.7 162.1L586.4 162.3L585 162.5L583.7 162.6L582.3 162.8L581 163L579.6 163.2L578.2 163.4L576.9 163.5L575.5 163.7L574.1 163.9L572.7 164.1L571.4 164.2L570 164.4L568.6 164.6L567.2 164.7L565.8 164.9L564.4 165.1L563 165.2L561.6 165.4L560.2 165.5L558.8 165.7L557.4 165.8L556 166L554.6 166.1L553.2 166.3L551.8 166.4L550.4 166.6L549 166.7L547.5 166.8L546.1 167L544.7 167.1L543.3 167.2L541.8 167.3L540.4 167.5L539 167.6L537.5 167.7L536.1 167.8L534.7 167.9L533.2 168L531.8 168.2L530.3 168.3L528.9 168.4L527.4 168.5L526 168.6L524.5 168.7L523.1 168.7L521.6 168.8L520.2 168.9L518.7 169L517.3 169.1L515.8 169.2L514.3 169.2L512.9 169.3L511.4 169.4L509.9 169.4L508.5 169.5L507 169.5L505.5 169.6L504.1 169.7L502.6 169.7L501.1 169.8L499.7 169.8L498.2 169.8L496.7 169.9L495.2 169.9L493.8 169.9L492.3 170L490.8 170L489.4 170L487.9 170L486.4 170L484.9 170L483.5 170.1L482 170.1L480.5 170.1L479 170.1L477.5 170.1L476.1 170L474.6 170L473.1 170L471.6 170L470.2 170L468.7 170L467.2 169.9L465.8 169.9L464.3 169.9L462.8 169.8L461.3 169.8L459.9 169.8L458.4 169.7L456.9 169.7L455.5 169.6L454 169.5L452.5 169.5L451.1 169.4L449.6 169.4L448.1 169.3L446.7 169.2L445.2 169.2L443.7 169.1L442.3 169L440.8 168.9L439.4 168.8L437.9 168.7L436.5 168.7L435 168.6L433.6 168.5L432.1 168.4L430.7 168.3L429.2 168.2L427.8 168L426.3 167.9L424.9 167.8L423.5 167.7L422 167.6L420.6 167.5L419.2 167.3L417.7 167.2L416.3 167.1L414.9 167L413.5 166.8L412 166.7L410.6 166.6L409.2 166.4L407.8 166.3L406.4 166.1L405 166L403.6 165.8L402.2 165.7L400.8 165.5L399.4 165.4L398 165.2L396.6 165.1L395.2 164.9L393.8 164.7L392.4 164.6L391 164.4L389.6 164.2L388.3 164.1L386.9 163.9L385.5 163.7L384.1 163.5L382.8 163.4L381.4 163.2L380 163L378.7 162.8L377.3 162.6L376 162.5L374.6 162.3L373.3 162.1L371.9 161.9L370.6 161.7L369.2 161.5L367.9 161.3L366.5 161.1L365.2 160.9L363.9 160.8L362.5 160.6L361.2 160.4L359.9 160.2L358.6 160L357.2 159.8L355.9 159.6L354.6 159.4L353.3 159.2L352 159L350.7 158.8L349.4 158.6L348.1 158.4L346.7 158.2L345.4 158L344.1 157.8L342.8 157.6L341.5 157.4L340.2 157.2L339 157" fill="none" stroke="#06884e" stroke-width="1" stroke-dasharray="1 2.7"/></g>
<ellipse cx="480.5" cy="323.0" rx="431.5" ry="216.0" fill="none" stroke="#fff" stroke-width="1.5"/>
<g font-size="14.5" fill="#06884e" stroke="#06884e" stroke-width="0.3" text-anchor="middle"><text x="95.5" y="309.5">60</text><text x="167" y="313.8">30</text><text x="238.5" y="320.7">0</text><text x="310.2" y="328.3">-30</text><text x="382.1" y="334.7">-60</text><text x="454.1" y="338">-90</text><text x="526.1" y="337.5">-120</text><text x="598.1" y="333.2">-150</text><text x="670" y="326.3">180</text><text x="741.6" y="318.7">150</text><text x="813" y="312.3">120</text><text x="884.6" y="309">90</text><text x="339" y="157.5">60</text><text x="266.5" y="233.9">30</text><text x="251.5" y="407.7">-30</text><text x="307" y="485.2">-60</text><text x="480.7" y="112">90</text><text x="393" y="534.6">-90</text></g>
<g font-size="14.6" fill="#c8361a" stroke="#c8361a" stroke-width="0.25"><rect x="486" y="235" width="5" height="4" fill="#b43228"/><rect x="485" y="236" width="1" height="1" fill="#b43228"/><text x="482.3" y="227.7">V1</text><rect x="411" y="427" width="5" height="4" fill="#b43228"/><rect x="410" y="428" width="1" height="1" fill="#b43228"/><text x="407.4" y="419.7">V2</text><rect x="478" y="322" width="5" height="4" fill="#b43228"/><rect x="477" y="323" width="1" height="1" fill="#b43228"/><text x="474" y="315">Nose</text><rect x="909.6" y="322" width="2" height="4" fill="#b43228"/><rect x="908.6" y="323" width="1" height="1" fill="#b43228"/><text x="905" y="314.7" font-weight="bold" fill="#b83230" stroke="none" textLength="25" lengthAdjust="spacingAndGlyphs">Tail</text></g>
<g fill="#fff" stroke="#fff" stroke-width="0.55">
<text x="10.8" y="25" font-size="17.6" textLength="84.2" lengthAdjust="spacingAndGlyphs">IBEX SOC</text>
<text y="72.2" font-size="34" stroke-width="0.9" xml:space="preserve"><tspan x="202.5" textLength="98.5" lengthAdjust="spacingAndGlyphs">Sample</tspan><tspan> </tspan><tspan x="310.5" textLength="99" lengthAdjust="spacingAndGlyphs">map_h:</tspan><tspan> </tspan><tspan x="419.7" textLength="56.3" lengthAdjust="spacingAndGlyphs">lv60</tspan><tspan> </tspan><tspan x="482.5" textLength="54.5" lengthAdjust="spacingAndGlyphs">lode</tspan><tspan> </tspan><tspan x="551" textLength="39.0" lengthAdjust="spacingAndGlyphs">trp</tspan><tspan> </tspan><tspan x="596.5" textLength="26.5" lengthAdjust="spacingAndGlyphs">~</tspan><tspan x="624.7" textLength="68.7" lengthAdjust="spacingAndGlyphs">0.029</tspan><tspan> </tspan><tspan x="702.8" textLength="54.2" lengthAdjust="spacingAndGlyphs">keV</tspan></text>
<text x="205.6" y="602.5" font-size="17.5" textLength="550" lengthAdjust="spacingAndGlyphs" xml:space="preserve">Sum(Flux Sample Exposure Weight)  0.029 keV at 1.0 A.U. [ECLIPJ2000]</text>
<text y="708.5" font-size="17" xml:space="preserve"><tspan x="793.5" textLength="30.5" lengthAdjust="spacingAndGlyphs">Mar</tspan><tspan> </tspan><tspan x="829" textLength="16.6" lengthAdjust="spacingAndGlyphs">28</tspan><tspan> </tspan><tspan x="850.3" textLength="60.7" lengthAdjust="spacingAndGlyphs">02:26:59</tspan><tspan> </tspan><tspan x="916.5" textLength="34.1" lengthAdjust="spacingAndGlyphs">2014</tspan></text>
<g font-size="16.5" text-anchor="middle"><text x="48" y="674.5">0</text><text x="171" y="674.5">200</text><text x="294" y="674.5">400</text><text x="417" y="674.5">600</text><text x="540" y="674.5">800</text><text x="663" y="674.5">1000</text><text x="786" y="674.5">1200</text><text x="909" y="674.5">1400</text></g>
</g>
<rect x="48.5" y="629.5" width="863.5" height="18" fill="url(#cb)" stroke="#fff" stroke-width="1.2"/>
<rect x="170.5" y="629" width="1.2" height="19" fill="#fff"/><rect x="293.5" y="629" width="1.2" height="19" fill="#fff"/><rect x="416.5" y="629" width="1.2" height="19" fill="#fff"/><rect x="539.5" y="629" width="1.2" height="19" fill="#fff"/><rect x="662.5" y="629" width="1.2" height="19" fill="#fff"/><rect x="785.5" y="629" width="1.2" height="19" fill="#fff"/><rect x="908.5" y="629" width="1.2" height="19" fill="#fff"/>
</svg>
</body></html>
